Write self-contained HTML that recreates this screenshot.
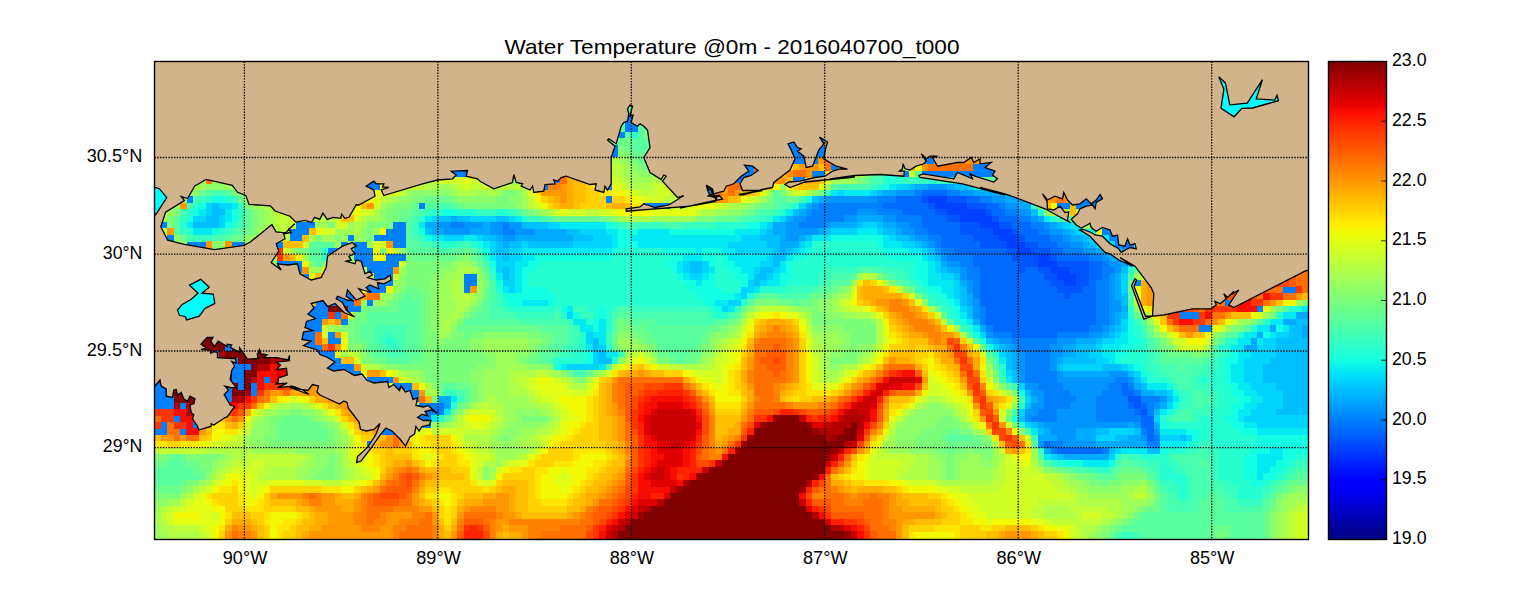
<!DOCTYPE html><html><head><meta charset="utf-8"><title>Water Temperature</title>
<style>html,body{margin:0;padding:0;background:#fff}body{width:1539px;height:600px;overflow:hidden}svg{display:block}text{font-family:"Liberation Sans",sans-serif;fill:#000}</style></head><body>
<svg width="1539" height="600" viewBox="0 0 1539 600">
<rect width="1539" height="600" fill="#fff"/>
<defs><clipPath id="ax"><rect x="154.5" y="61.5" width="1154.0" height="478.0"/></clipPath>
<linearGradient id="cb" x1="0" y1="0" x2="0" y2="1"><stop offset="0.0000" stop-color="#800000"/><stop offset="0.0156" stop-color="#920000"/><stop offset="0.0312" stop-color="#a40000"/><stop offset="0.0469" stop-color="#b60000"/><stop offset="0.0625" stop-color="#c80000"/><stop offset="0.0781" stop-color="#da0000"/><stop offset="0.0938" stop-color="#ec0400"/><stop offset="0.1094" stop-color="#fe1200"/><stop offset="0.1250" stop-color="#ff2100"/><stop offset="0.1406" stop-color="#ff3000"/><stop offset="0.1562" stop-color="#ff3f00"/><stop offset="0.1719" stop-color="#ff4d00"/><stop offset="0.1875" stop-color="#ff5c00"/><stop offset="0.2031" stop-color="#ff6b00"/><stop offset="0.2188" stop-color="#ff7a00"/><stop offset="0.2344" stop-color="#ff8800"/><stop offset="0.2500" stop-color="#ff9700"/><stop offset="0.2656" stop-color="#ffa600"/><stop offset="0.2812" stop-color="#ffb500"/><stop offset="0.2969" stop-color="#ffc300"/><stop offset="0.3125" stop-color="#ffd200"/><stop offset="0.3281" stop-color="#ffe100"/><stop offset="0.3438" stop-color="#fcf000"/><stop offset="0.3594" stop-color="#effe08"/><stop offset="0.3750" stop-color="#e2ff15"/><stop offset="0.3906" stop-color="#d5ff21"/><stop offset="0.4062" stop-color="#c9ff2e"/><stop offset="0.4219" stop-color="#bcff3b"/><stop offset="0.4375" stop-color="#afff48"/><stop offset="0.4531" stop-color="#a2ff55"/><stop offset="0.4688" stop-color="#95ff62"/><stop offset="0.4844" stop-color="#88ff6f"/><stop offset="0.5000" stop-color="#7bff7b"/><stop offset="0.5156" stop-color="#6fff88"/><stop offset="0.5312" stop-color="#62ff95"/><stop offset="0.5469" stop-color="#55ffa2"/><stop offset="0.5625" stop-color="#48ffaf"/><stop offset="0.5781" stop-color="#3bffbc"/><stop offset="0.5938" stop-color="#2effc9"/><stop offset="0.6094" stop-color="#21ffd5"/><stop offset="0.6250" stop-color="#15ffe2"/><stop offset="0.6406" stop-color="#08efef"/><stop offset="0.6562" stop-color="#00dffc"/><stop offset="0.6719" stop-color="#00cfff"/><stop offset="0.6875" stop-color="#00bfff"/><stop offset="0.7031" stop-color="#00afff"/><stop offset="0.7188" stop-color="#009fff"/><stop offset="0.7344" stop-color="#008fff"/><stop offset="0.7500" stop-color="#0080ff"/><stop offset="0.7656" stop-color="#0070ff"/><stop offset="0.7812" stop-color="#0060ff"/><stop offset="0.7969" stop-color="#0050ff"/><stop offset="0.8125" stop-color="#0040ff"/><stop offset="0.8281" stop-color="#0030ff"/><stop offset="0.8438" stop-color="#0020ff"/><stop offset="0.8594" stop-color="#0010ff"/><stop offset="0.8750" stop-color="#0000ff"/><stop offset="0.8906" stop-color="#0000fe"/><stop offset="0.9062" stop-color="#0000ec"/><stop offset="0.9219" stop-color="#0000da"/><stop offset="0.9375" stop-color="#0000c8"/><stop offset="0.9531" stop-color="#0000b6"/><stop offset="0.9688" stop-color="#0000a4"/><stop offset="0.9844" stop-color="#000092"/><stop offset="1.0000" stop-color="#000080"/></linearGradient></defs>
<g clip-path="url(#ax)">
<rect x="154.5" y="61.5" width="1154.0" height="478.0" fill="#0080ff"/>
<g shape-rendering="crispEdges"><path fill="#0040ff" d="M927.9 196.1H947.4V202.8H927.9ZM934.4 202.5H966.8V209.3H934.4ZM947.3 209.0H986.1V215.7H947.3ZM960.2 215.4H992.6V222.2H960.2ZM979.5 221.9H999.0V228.6H979.5ZM992.4 228.3H1011.9V235.1H992.4ZM998.9 234.8H1018.4V241.5H998.9ZM1005.3 241.2H1024.8V248.0H1005.3ZM1018.2 247.7H1031.2V254.4H1018.2ZM1037.5 254.1H1050.6V260.8H1037.5ZM1037.5 260.5H1057.0V267.3H1037.5ZM1050.4 267.0H1069.9V273.7H1050.4ZM1056.9 273.4H1076.4V280.2H1056.9ZM1063.3 279.9H1076.4V286.6H1063.3Z"/>
<path fill="#0055ff" d="M921.5 196.1H928.1V202.8H921.5ZM947.3 196.1H966.8V202.8H947.3ZM927.9 202.5H934.5V209.3H927.9ZM966.6 202.5H986.1V209.3H966.6ZM934.4 209.0H947.4V215.7H934.4ZM986.0 209.0H992.6V215.7H986.0ZM947.3 215.4H960.3V222.2H947.3ZM992.4 215.4H999.0V222.2H992.4ZM960.2 221.9H979.7V228.6H960.2ZM998.9 221.9H1011.9V228.6H998.9ZM960.2 228.3H992.6V235.1H960.2ZM1011.8 228.3H1018.4V235.1H1011.8ZM973.1 234.8H999.0V241.5H973.1ZM1018.2 234.8H1024.8V241.5H1018.2ZM979.5 241.2H1005.5V248.0H979.5ZM1024.6 241.2H1037.7V248.0H1024.6ZM1005.3 247.7H1018.4V254.4H1005.3ZM1031.1 247.7H1050.6V254.4H1031.1ZM1011.8 254.1H1037.7V260.8H1011.8ZM1050.4 254.1H1057.0V260.8H1050.4ZM1018.2 260.5H1037.7V267.3H1018.2ZM1056.9 260.5H1089.3V267.3H1056.9ZM1018.2 267.0H1024.8V273.7H1018.2ZM1037.5 267.0H1050.6V273.7H1037.5ZM1069.8 267.0H1089.3V273.7H1069.8ZM1044.0 273.4H1057.0V280.2H1044.0ZM1076.2 273.4H1089.3V280.2H1076.2ZM1050.4 279.9H1063.5V286.6H1050.4ZM1076.2 279.9H1089.3V286.6H1076.2ZM1056.9 286.3H1082.8V293.1H1056.9ZM1063.3 292.8H1069.9V299.5H1063.3ZM1127.8 396.0H1140.9V402.7H1127.8ZM1134.3 402.4H1140.9V409.2H1134.3ZM1140.7 408.9H1147.3V415.6H1140.7Z"/>
<path fill="#006aff" d="M921.5 189.6H947.4V196.4H921.5ZM895.7 196.1H921.6V202.8H895.7ZM966.6 196.1H979.7V202.8H966.6ZM882.8 202.5H928.1V209.3H882.8ZM986.0 202.5H999.0V209.3H986.0ZM902.1 209.0H934.5V215.7H902.1ZM992.4 209.0H1005.5V215.7H992.4ZM921.5 215.4H947.4V222.2H921.5ZM998.9 215.4H1018.4V222.2H998.9ZM921.5 221.9H960.3V228.6H921.5ZM1011.8 221.9H1031.2V228.6H1011.8ZM927.9 228.3H960.3V235.1H927.9ZM1018.2 228.3H1037.7V235.1H1018.2ZM940.8 234.8H973.2V241.5H940.8ZM1024.6 234.8H1050.6V241.5H1024.6ZM940.8 241.2H979.7V248.0H940.8ZM1037.5 241.2H1057.0V248.0H1037.5ZM953.7 247.7H1005.5V254.4H953.7ZM1050.4 247.7H1063.5V254.4H1050.4ZM973.1 254.1H1011.9V260.8H973.1ZM1056.9 254.1H1089.3V260.8H1056.9ZM973.1 260.5H1018.4V267.3H973.1ZM1089.1 260.5H1102.2V267.3H1089.1ZM979.5 267.0H1018.4V273.7H979.5ZM1024.6 267.0H1037.7V273.7H1024.6ZM1089.1 267.0H1102.2V273.7H1089.1ZM979.5 273.4H1044.1V280.2H979.5ZM1089.1 273.4H1102.2V280.2H1089.1ZM979.5 279.9H1050.6V286.6H979.5ZM1089.1 279.9H1095.7V286.6H1089.1ZM979.5 286.3H1057.0V293.1H979.5ZM1082.7 286.3H1095.7V293.1H1082.7ZM979.5 292.8H1063.5V299.5H979.5ZM1069.8 292.8H1095.7V299.5H1069.8ZM979.5 299.2H1095.7V306.0H979.5ZM986.0 305.7H1095.7V312.4H986.0ZM986.0 312.1H1095.7V318.9H986.0ZM986.0 318.6H1095.7V325.3H986.0ZM992.4 325.0H1089.3V331.8H992.4ZM1011.8 331.5H1057.0V338.2H1011.8ZM1121.4 383.1H1128.0V389.8H1121.4ZM1121.4 389.5H1134.4V396.3H1121.4ZM1127.8 402.4H1134.4V409.2H1127.8ZM1140.7 402.4H1147.3V409.2H1140.7ZM1134.3 408.9H1140.9V415.6H1134.3ZM1140.7 415.3H1153.8V422.1H1140.7ZM1140.7 421.8H1153.8V428.5H1140.7ZM1147.2 428.2H1153.8V435.0H1147.2ZM1147.2 434.7H1153.8V441.4H1147.2ZM1044.0 441.1H1050.6V447.8H1044.0ZM1056.9 447.6H1102.2V454.3H1056.9Z"/>
<path fill="#0080ff" d="M915.0 189.6H921.6V196.4H915.0ZM947.3 189.6H960.3V196.4H947.3ZM876.3 196.1H895.8V202.8H876.3ZM979.5 196.1H992.6V202.8H979.5ZM818.3 202.5H882.9V209.3H818.3ZM998.9 202.5H1005.5V209.3H998.9ZM811.9 209.0H857.1V215.7H811.9ZM876.3 209.0H902.3V215.7H876.3ZM1005.3 209.0H1018.4V215.7H1005.3ZM805.4 215.4H844.2V222.2H805.4ZM895.7 215.4H921.6V222.2H895.7ZM1018.2 215.4H1031.2V222.2H1018.2ZM450.7 221.9H463.8V228.6H450.7ZM502.3 221.9H508.9V228.6H502.3ZM799.0 221.9H824.9V228.6H799.0ZM908.6 221.9H921.6V228.6H908.6ZM1031.1 221.9H1044.1V228.6H1031.1ZM502.3 228.3H515.4V235.1H502.3ZM915.0 228.3H928.1V235.1H915.0ZM1037.5 228.3H1050.6V235.1H1037.5ZM927.9 234.8H941.0V241.5H927.9ZM1050.4 234.8H1063.5V241.5H1050.4ZM934.4 241.2H941.0V248.0H934.4ZM1056.9 241.2H1069.9V248.0H1056.9ZM940.8 247.7H953.9V254.4H940.8ZM1063.3 247.7H1082.8V254.4H1063.3ZM947.3 254.1H973.2V260.8H947.3ZM1089.1 254.1H1102.2V260.8H1089.1ZM960.2 260.5H973.2V267.3H960.2ZM1102.0 260.5H1108.6V267.3H1102.0ZM966.6 267.0H979.7V273.7H966.6ZM1102.0 267.0H1115.1V273.7H1102.0ZM966.6 273.4H979.7V280.2H966.6ZM1102.0 273.4H1108.6V280.2H1102.0ZM973.1 279.9H979.7V286.6H973.1ZM1095.6 279.9H1108.6V286.6H1095.6ZM973.1 286.3H979.7V293.1H973.1ZM1095.6 286.3H1108.6V293.1H1095.6ZM973.1 292.8H979.7V299.5H973.1ZM1095.6 292.8H1108.6V299.5H1095.6ZM1095.6 299.2H1108.6V306.0H1095.6ZM979.5 305.7H986.1V312.4H979.5ZM1095.6 305.7H1108.6V312.4H1095.6ZM979.5 312.1H986.1V318.9H979.5ZM1095.6 312.1H1108.6V318.9H1095.6ZM979.5 318.6H986.1V325.3H979.5ZM1095.6 318.6H1108.6V325.3H1095.6ZM986.0 325.0H992.6V331.8H986.0ZM1089.1 325.0H1102.2V331.8H1089.1ZM992.4 331.5H1011.9V338.2H992.4ZM1056.9 331.5H1089.3V338.2H1056.9ZM1011.8 337.9H1057.0V344.7H1011.8ZM1018.2 344.4H1050.6V351.1H1018.2ZM1024.6 350.8H1050.6V357.6H1024.6ZM1024.6 357.3H1050.6V364.0H1024.6ZM1024.6 363.7H1050.6V370.5H1024.6ZM1024.6 370.2H1057.0V376.9H1024.6ZM1024.6 376.6H1057.0V383.4H1024.6ZM1114.9 376.6H1128.0V383.4H1114.9ZM1037.5 383.1H1063.5V389.8H1037.5ZM1108.5 383.1H1121.5V389.8H1108.5ZM1127.8 383.1H1134.4V389.8H1127.8ZM1044.0 389.5H1069.9V396.3H1044.0ZM1102.0 389.5H1121.5V396.3H1102.0ZM1134.3 389.5H1140.9V396.3H1134.3ZM1044.0 396.0H1076.4V402.7H1044.0ZM1095.6 396.0H1128.0V402.7H1095.6ZM1140.7 396.0H1160.2V402.7H1140.7ZM437.9 402.4H444.4V409.2H437.9ZM1044.0 402.4H1069.9V409.2H1044.0ZM1095.6 402.4H1128.0V409.2H1095.6ZM1147.2 402.4H1153.8V409.2H1147.2ZM437.9 408.9H444.4V415.6H437.9ZM1037.5 408.9H1057.0V415.6H1037.5ZM1095.6 408.9H1134.4V415.6H1095.6ZM1147.2 408.9H1153.8V415.6H1147.2ZM1031.1 415.3H1057.0V422.1H1031.1ZM1095.6 415.3H1140.9V422.1H1095.6ZM1140.7 428.2H1147.3V435.0H1140.7ZM1153.6 434.7H1160.2V441.4H1153.6ZM1050.4 441.1H1063.5V447.8H1050.4ZM1147.2 441.1H1160.2V447.8H1147.2ZM1050.4 447.6H1057.0V454.3H1050.4ZM1102.0 447.6H1108.6V454.3H1102.0Z"/>
<path fill="#0095ff" d="M927.9 183.2H947.4V189.9H927.9ZM895.7 189.6H915.2V196.4H895.7ZM960.2 189.6H973.2V196.4H960.2ZM824.8 196.1H876.5V202.8H824.8ZM992.4 196.1H1005.5V202.8H992.4ZM811.9 202.5H818.5V209.3H811.9ZM1005.3 202.5H1018.4V209.3H1005.3ZM805.4 209.0H812.0V215.7H805.4ZM857.0 209.0H876.5V215.7H857.0ZM1018.2 209.0H1031.2V215.7H1018.2ZM792.5 215.4H805.6V222.2H792.5ZM844.1 215.4H857.1V222.2H844.1ZM882.8 215.4H895.8V222.2H882.8ZM1031.1 215.4H1037.7V222.2H1031.1ZM437.9 221.9H450.9V228.6H437.9ZM463.6 221.9H483.1V228.6H463.6ZM489.4 221.9H502.5V228.6H489.4ZM508.8 221.9H521.8V228.6H508.8ZM786.1 221.9H799.1V228.6H786.1ZM824.8 221.9H831.3V228.6H824.8ZM895.7 221.9H908.7V228.6H895.7ZM1044.0 221.9H1050.6V228.6H1044.0ZM444.3 228.3H470.2V235.1H444.3ZM489.4 228.3H502.5V235.1H489.4ZM515.2 228.3H534.7V235.1H515.2ZM786.1 228.3H818.5V235.1H786.1ZM902.1 228.3H915.2V235.1H902.1ZM1050.4 228.3H1063.5V235.1H1050.4ZM502.3 234.8H515.4V241.5H502.3ZM786.1 234.8H799.1V241.5H786.1ZM915.0 234.8H928.1V241.5H915.0ZM1063.3 234.8H1069.9V241.5H1063.3ZM927.9 241.2H934.5V248.0H927.9ZM1069.8 241.2H1082.8V248.0H1069.8ZM934.4 247.7H941.0V254.4H934.4ZM1082.7 247.7H1095.7V254.4H1082.7ZM940.8 254.1H947.4V260.8H940.8ZM1102.0 254.1H1108.6V260.8H1102.0ZM947.3 260.5H960.3V267.3H947.3ZM1108.5 260.5H1121.5V267.3H1108.5ZM960.2 267.0H966.8V273.7H960.2ZM1114.9 267.0H1121.5V273.7H1114.9ZM960.2 273.4H966.8V280.2H960.2ZM1108.5 273.4H1115.1V280.2H1108.5ZM966.6 279.9H973.2V286.6H966.6ZM1108.5 279.9H1115.1V286.6H1108.5ZM966.6 286.3H973.2V293.1H966.6ZM1108.5 286.3H1115.1V293.1H1108.5ZM1108.5 292.8H1115.1V299.5H1108.5ZM973.1 299.2H979.7V306.0H973.1ZM1108.5 299.2H1121.5V306.0H1108.5ZM973.1 305.7H979.7V312.4H973.1ZM1108.5 305.7H1121.5V312.4H1108.5ZM973.1 312.1H979.7V318.9H973.1ZM1108.5 312.1H1115.1V318.9H1108.5ZM1108.5 318.6H1115.1V325.3H1108.5ZM1102.0 325.0H1108.6V331.8H1102.0ZM986.0 331.5H992.6V338.2H986.0ZM1089.1 331.5H1102.2V338.2H1089.1ZM998.9 337.9H1011.9V344.7H998.9ZM1056.9 337.9H1076.4V344.7H1056.9ZM1011.8 344.4H1018.4V351.1H1011.8ZM1050.4 344.4H1063.5V351.1H1050.4ZM1018.2 350.8H1024.8V357.6H1018.2ZM1050.4 350.8H1063.5V357.6H1050.4ZM1018.2 357.3H1024.8V364.0H1018.2ZM1050.4 357.3H1057.0V364.0H1050.4ZM1018.2 363.7H1024.8V370.5H1018.2ZM1050.4 363.7H1057.0V370.5H1050.4ZM1018.2 370.2H1024.8V376.9H1018.2ZM1056.9 370.2H1063.5V376.9H1056.9ZM1108.5 370.2H1128.0V376.9H1108.5ZM1018.2 376.6H1024.8V383.4H1018.2ZM1056.9 376.6H1115.1V383.4H1056.9ZM1127.8 376.6H1134.4V383.4H1127.8ZM1024.6 383.1H1037.7V389.8H1024.6ZM1063.3 383.1H1108.6V389.8H1063.3ZM1031.1 389.5H1044.1V396.3H1031.1ZM1069.8 389.5H1102.2V396.3H1069.8ZM1037.5 396.0H1044.1V402.7H1037.5ZM1076.2 396.0H1095.7V402.7H1076.2ZM1160.1 396.0H1166.7V402.7H1160.1ZM1031.1 402.4H1044.1V409.2H1031.1ZM1069.8 402.4H1095.7V409.2H1069.8ZM1153.6 402.4H1160.2V409.2H1153.6ZM1024.6 408.9H1037.7V415.6H1024.6ZM1056.9 408.9H1095.7V415.6H1056.9ZM1024.6 415.3H1031.2V422.1H1024.6ZM1056.9 415.3H1095.7V422.1H1056.9ZM1044.0 421.8H1128.0V428.5H1044.0ZM1134.3 421.8H1140.9V428.5H1134.3ZM1050.4 428.2H1076.4V435.0H1050.4ZM1153.6 428.2H1160.2V435.0H1153.6ZM1056.9 434.7H1076.4V441.4H1056.9ZM1140.7 434.7H1147.3V441.4H1140.7ZM1037.5 441.1H1044.1V447.8H1037.5ZM1063.3 441.1H1095.7V447.8H1063.3Z"/>
<path fill="#00aaff" d="M915.0 183.2H928.1V189.9H915.0ZM947.3 183.2H953.9V189.9H947.3ZM882.8 189.6H895.8V196.4H882.8ZM973.1 189.6H1024.8V196.4H973.1ZM818.3 196.1H824.9V202.8H818.3ZM1005.3 196.1H1024.8V202.8H1005.3ZM805.4 202.5H812.0V209.3H805.4ZM1018.2 202.5H1031.2V209.3H1018.2ZM799.0 209.0H805.6V215.7H799.0ZM450.7 215.4H457.3V222.2H450.7ZM786.1 215.4H792.7V222.2H786.1ZM857.0 215.4H882.9V222.2H857.0ZM1037.5 215.4H1044.1V222.2H1037.5ZM425.0 221.9H438.0V228.6H425.0ZM483.0 221.9H489.6V228.6H483.0ZM773.2 221.9H786.2V228.6H773.2ZM831.2 221.9H857.1V228.6H831.2ZM882.8 221.9H895.8V228.6H882.8ZM1050.4 221.9H1057.0V228.6H1050.4ZM431.4 228.3H444.4V235.1H431.4ZM470.1 228.3H489.6V235.1H470.1ZM534.6 228.3H567.0V235.1H534.6ZM773.2 228.3H786.2V235.1H773.2ZM818.3 228.3H824.9V235.1H818.3ZM895.7 228.3H902.3V235.1H895.7ZM1063.3 228.3H1069.9V235.1H1063.3ZM495.9 234.8H502.5V241.5H495.9ZM515.2 234.8H573.4V241.5H515.2ZM779.6 234.8H786.2V241.5H779.6ZM799.0 234.8H805.6V241.5H799.0ZM908.6 234.8H915.2V241.5H908.6ZM1069.8 234.8H1082.8V241.5H1069.8ZM502.3 241.2H508.9V248.0H502.3ZM779.6 241.2H799.1V248.0H779.6ZM921.5 241.2H928.1V248.0H921.5ZM1082.7 241.2H1089.3V248.0H1082.7ZM779.6 247.7H786.2V254.4H779.6ZM1095.6 247.7H1108.6V254.4H1095.6ZM1108.5 254.1H1128.0V260.8H1108.5ZM940.8 260.5H947.4V267.3H940.8ZM1121.4 260.5H1128.0V267.3H1121.4ZM947.3 267.0H960.3V273.7H947.3ZM1114.9 273.4H1121.5V280.2H1114.9ZM960.2 279.9H966.8V286.6H960.2ZM1114.9 279.9H1121.5V286.6H1114.9ZM1114.9 286.3H1121.5V293.1H1114.9ZM966.6 292.8H973.2V299.5H966.6ZM1114.9 292.8H1121.5V299.5H1114.9ZM966.6 299.2H973.2V306.0H966.6ZM1121.4 305.7H1128.0V312.4H1121.4ZM1114.9 312.1H1121.5V318.9H1114.9ZM1295.5 312.1H1308.5V318.9H1295.5ZM973.1 318.6H979.7V325.3H973.1ZM1114.9 318.6H1121.5V325.3H1114.9ZM1282.6 318.6H1295.6V325.3H1282.6ZM979.5 325.0H986.1V331.8H979.5ZM1108.5 325.0H1115.1V331.8H1108.5ZM1269.7 325.0H1276.3V331.8H1269.7ZM1301.9 325.0H1308.5V331.8H1301.9ZM1102.0 331.5H1108.6V338.2H1102.0ZM1256.8 331.5H1263.4V338.2H1256.8ZM1301.9 331.5H1308.5V338.2H1301.9ZM992.4 337.9H999.0V344.7H992.4ZM1076.2 337.9H1095.7V344.7H1076.2ZM1250.3 337.9H1256.9V344.7H1250.3ZM1005.3 344.4H1011.9V351.1H1005.3ZM1063.3 344.4H1076.4V351.1H1063.3ZM1243.9 344.4H1256.9V351.1H1243.9ZM1011.8 350.8H1018.4V357.6H1011.8ZM1063.3 350.8H1076.4V357.6H1063.3ZM1011.8 357.3H1018.4V364.0H1011.8ZM1056.9 357.3H1063.5V364.0H1056.9ZM1011.8 363.7H1018.4V370.5H1011.8ZM1063.3 370.2H1108.6V376.9H1063.3ZM1134.3 383.1H1140.9V389.8H1134.3ZM1140.7 389.5H1153.8V396.3H1140.7ZM437.9 396.0H450.9V402.7H437.9ZM1031.1 396.0H1037.7V402.7H1031.1ZM444.3 402.4H450.9V409.2H444.3ZM1160.1 402.4H1166.7V409.2H1160.1ZM1037.5 421.8H1044.1V428.5H1037.5ZM1127.8 421.8H1134.4V428.5H1127.8ZM1153.6 421.8H1160.2V428.5H1153.6ZM1044.0 428.2H1050.6V435.0H1044.0ZM1076.2 428.2H1095.7V435.0H1076.2ZM1037.5 434.7H1057.0V441.4H1037.5ZM1076.2 434.7H1095.7V441.4H1076.2ZM1127.8 434.7H1140.9V441.4H1127.8ZM1095.6 441.1H1147.3V447.8H1095.6ZM1044.0 447.6H1050.6V454.3H1044.0ZM1063.3 454.0H1108.6V460.7H1063.3Z"/>
<path fill="#00bfff" d="M1024.6 176.7H1031.2V183.5H1024.6ZM908.6 183.2H915.2V189.9H908.6ZM953.7 183.2H966.8V189.9H953.7ZM1005.3 183.2H1031.2V189.9H1005.3ZM876.3 189.6H882.9V196.4H876.3ZM1024.6 189.6H1031.2V196.4H1024.6ZM811.9 196.1H818.5V202.8H811.9ZM1024.6 196.1H1031.2V202.8H1024.6ZM212.2 202.5H218.8V209.3H212.2ZM212.2 209.0H225.2V215.7H212.2ZM792.5 209.0H799.1V215.7H792.5ZM1031.1 209.0H1037.7V215.7H1031.1ZM205.7 215.4H218.8V222.2H205.7ZM437.9 215.4H450.9V222.2H437.9ZM457.2 215.4H470.2V222.2H457.2ZM495.9 215.4H508.9V222.2H495.9ZM192.8 221.9H218.8V228.6H192.8ZM521.7 221.9H547.6V228.6H521.7ZM857.0 221.9H863.6V228.6H857.0ZM876.3 221.9H882.9V228.6H876.3ZM1056.9 221.9H1063.5V228.6H1056.9ZM1114.9 221.9H1128.0V228.6H1114.9ZM425.0 228.3H431.6V235.1H425.0ZM566.8 228.3H579.9V235.1H566.8ZM766.7 228.3H773.3V235.1H766.7ZM824.8 228.3H831.3V235.1H824.8ZM882.8 228.3H895.8V235.1H882.8ZM1069.8 228.3H1076.4V235.1H1069.8ZM1114.9 228.3H1128.0V235.1H1114.9ZM483.0 234.8H496.0V241.5H483.0ZM573.3 234.8H592.8V241.5H573.3ZM760.3 234.8H779.8V241.5H760.3ZM805.4 234.8H812.0V241.5H805.4ZM895.7 234.8H908.7V241.5H895.7ZM1082.7 234.8H1089.3V241.5H1082.7ZM1121.4 234.8H1128.0V241.5H1121.4ZM495.9 241.2H502.5V248.0H495.9ZM508.8 241.2H521.8V248.0H508.8ZM528.1 241.2H573.4V248.0H528.1ZM766.7 241.2H779.8V248.0H766.7ZM915.0 241.2H921.6V248.0H915.0ZM1089.1 241.2H1095.7V248.0H1089.1ZM495.9 247.7H508.9V254.4H495.9ZM773.2 247.7H779.8V254.4H773.2ZM786.1 247.7H792.7V254.4H786.1ZM927.9 247.7H934.5V254.4H927.9ZM1108.5 247.7H1121.5V254.4H1108.5ZM502.3 254.1H508.9V260.8H502.3ZM773.2 254.1H786.2V260.8H773.2ZM934.4 254.1H941.0V260.8H934.4ZM689.3 260.5H702.4V267.3H689.3ZM773.2 260.5H779.8V267.3H773.2ZM502.3 267.0H508.9V273.7H502.3ZM689.3 267.0H702.4V273.7H689.3ZM760.3 267.0H773.3V273.7H760.3ZM940.8 267.0H947.4V273.7H940.8ZM1121.4 267.0H1128.0V273.7H1121.4ZM502.3 273.4H508.9V280.2H502.3ZM753.8 273.4H766.9V280.2H753.8ZM953.7 273.4H960.3V280.2H953.7ZM753.8 279.9H760.4V286.6H753.8ZM960.2 286.3H966.8V293.1H960.2ZM960.2 292.8H966.8V299.5H960.2ZM1121.4 292.8H1128.0V299.5H1121.4ZM960.2 299.2H966.8V306.0H960.2ZM1121.4 299.2H1128.0V306.0H1121.4ZM966.6 305.7H973.2V312.4H966.6ZM966.6 312.1H973.2V318.9H966.6ZM1121.4 312.1H1128.0V318.9H1121.4ZM1295.5 318.6H1308.5V325.3H1295.5ZM1114.9 325.0H1121.5V331.8H1114.9ZM1289.0 325.0H1302.1V331.8H1289.0ZM1108.5 331.5H1115.1V338.2H1108.5ZM1289.0 331.5H1302.1V338.2H1289.0ZM592.6 337.9H599.2V344.7H592.6ZM986.0 337.9H992.6V344.7H986.0ZM1095.6 337.9H1102.2V344.7H1095.6ZM1276.1 337.9H1308.5V344.7H1276.1ZM592.6 344.4H599.2V351.1H592.6ZM998.9 344.4H1005.5V351.1H998.9ZM1076.2 344.4H1095.7V351.1H1076.2ZM1276.1 344.4H1308.5V351.1H1276.1ZM599.1 350.8H605.7V357.6H599.1ZM1005.3 350.8H1011.9V357.6H1005.3ZM1076.2 350.8H1089.3V357.6H1076.2ZM1276.1 350.8H1308.5V357.6H1276.1ZM599.1 357.3H612.1V364.0H599.1ZM1005.3 357.3H1011.9V364.0H1005.3ZM1063.3 357.3H1095.7V364.0H1063.3ZM1269.7 357.3H1308.5V364.0H1269.7ZM1005.3 363.7H1011.9V370.5H1005.3ZM1056.9 363.7H1063.5V370.5H1056.9ZM1102.0 363.7H1121.5V370.5H1102.0ZM1263.2 363.7H1308.5V370.5H1263.2ZM1011.8 370.2H1018.4V376.9H1011.8ZM1127.8 370.2H1134.4V376.9H1127.8ZM1263.2 370.2H1308.5V376.9H1263.2ZM1011.8 376.6H1018.4V383.4H1011.8ZM1134.3 376.6H1140.9V383.4H1134.3ZM1263.2 376.6H1308.5V383.4H1263.2ZM1140.7 383.1H1147.3V389.8H1140.7ZM1276.1 383.1H1308.5V389.8H1276.1ZM1024.6 389.5H1031.2V396.3H1024.6ZM1153.6 389.5H1166.7V396.3H1153.6ZM1282.6 389.5H1308.5V396.3H1282.6ZM1166.5 396.0H1173.1V402.7H1166.5ZM1282.6 396.0H1308.5V402.7H1282.6ZM1024.6 402.4H1031.2V409.2H1024.6ZM1282.6 402.4H1308.5V409.2H1282.6ZM1153.6 408.9H1160.2V415.6H1153.6ZM1276.1 408.9H1308.5V415.6H1276.1ZM1018.2 415.3H1024.8V422.1H1018.2ZM1031.1 421.8H1037.7V428.5H1031.1ZM1037.5 428.2H1044.1V435.0H1037.5ZM1095.6 428.2H1108.6V435.0H1095.6ZM1134.3 428.2H1140.9V435.0H1134.3ZM1114.9 434.7H1128.0V441.4H1114.9ZM1179.4 434.7H1186.0V441.4H1179.4ZM1108.5 447.6H1115.1V454.3H1108.5ZM1147.2 447.6H1160.2V454.3H1147.2ZM1056.9 454.0H1063.5V460.7H1056.9Z"/>
<path fill="#00d4ff" d="M1024.6 163.8H1031.2V170.6H1024.6ZM1024.6 170.3H1031.2V177.0H1024.6ZM895.7 183.2H908.7V189.9H895.7ZM966.6 183.2H973.2V189.9H966.6ZM992.4 183.2H1005.5V189.9H992.4ZM837.6 189.6H844.2V196.4H837.6ZM869.9 189.6H876.5V196.4H869.9ZM205.7 202.5H212.3V209.3H205.7ZM218.6 202.5H231.7V209.3H218.6ZM799.0 202.5H805.6V209.3H799.0ZM205.7 209.0H212.3V215.7H205.7ZM1121.4 209.0H1128.0V215.7H1121.4ZM192.8 215.4H205.9V222.2H192.8ZM218.6 215.4H225.2V222.2H218.6ZM431.4 215.4H438.0V222.2H431.4ZM470.1 215.4H496.0V222.2H470.1ZM508.8 215.4H515.4V222.2H508.8ZM779.6 215.4H786.2V222.2H779.6ZM1121.4 215.4H1128.0V222.2H1121.4ZM218.6 221.9H225.2V228.6H218.6ZM547.5 221.9H560.5V228.6H547.5ZM766.7 221.9H773.3V228.6H766.7ZM863.4 221.9H876.5V228.6H863.4ZM1063.3 221.9H1069.9V228.6H1063.3ZM1108.5 221.9H1115.1V228.6H1108.5ZM1127.8 221.9H1134.4V228.6H1127.8ZM579.7 228.3H605.7V235.1H579.7ZM760.3 228.3H766.9V235.1H760.3ZM831.2 228.3H857.1V235.1H831.2ZM876.3 228.3H882.9V235.1H876.3ZM1076.2 228.3H1082.8V235.1H1076.2ZM1127.8 228.3H1134.4V235.1H1127.8ZM444.3 234.8H463.8V241.5H444.3ZM476.5 234.8H483.1V241.5H476.5ZM592.6 234.8H612.1V241.5H592.6ZM740.9 234.8H760.4V241.5H740.9ZM889.2 234.8H895.8V241.5H889.2ZM1089.1 234.8H1095.7V241.5H1089.1ZM1127.8 234.8H1134.4V241.5H1127.8ZM489.4 241.2H496.0V248.0H489.4ZM521.7 241.2H528.3V248.0H521.7ZM573.3 241.2H612.1V248.0H573.3ZM728.0 241.2H766.9V248.0H728.0ZM799.0 241.2H805.6V248.0H799.0ZM902.1 241.2H915.2V248.0H902.1ZM1095.6 241.2H1115.1V248.0H1095.6ZM489.4 247.7H496.0V254.4H489.4ZM508.8 247.7H521.8V254.4H508.8ZM734.5 247.7H773.3V254.4H734.5ZM792.5 247.7H799.1V254.4H792.5ZM921.5 247.7H928.1V254.4H921.5ZM1127.8 247.7H1134.4V254.4H1127.8ZM495.9 254.1H502.5V260.8H495.9ZM508.8 254.1H521.8V260.8H508.8ZM766.7 254.1H773.3V260.8H766.7ZM927.9 254.1H934.5V260.8H927.9ZM1127.8 254.1H1134.4V260.8H1127.8ZM495.9 260.5H515.4V267.3H495.9ZM682.9 260.5H689.5V267.3H682.9ZM702.2 260.5H708.8V267.3H702.2ZM760.3 260.5H773.3V267.3H760.3ZM934.4 260.5H941.0V267.3H934.4ZM1127.8 260.5H1134.4V267.3H1127.8ZM495.9 267.0H502.5V273.7H495.9ZM508.8 267.0H515.4V273.7H508.8ZM682.9 267.0H689.5V273.7H682.9ZM702.2 267.0H708.8V273.7H702.2ZM753.8 267.0H760.4V273.7H753.8ZM773.2 267.0H779.8V273.7H773.2ZM934.4 267.0H941.0V273.7H934.4ZM508.8 273.4H515.4V280.2H508.8ZM689.3 273.4H702.4V280.2H689.3ZM766.7 273.4H773.3V280.2H766.7ZM940.8 273.4H953.9V280.2H940.8ZM1121.4 273.4H1128.0V280.2H1121.4ZM502.3 279.9H515.4V286.6H502.3ZM747.4 279.9H754.0V286.6H747.4ZM760.3 279.9H766.9V286.6H760.3ZM953.7 279.9H960.3V286.6H953.7ZM1121.4 279.9H1128.0V286.6H1121.4ZM508.8 286.3H515.4V293.1H508.8ZM740.9 286.3H754.0V293.1H740.9ZM953.7 286.3H960.3V293.1H953.7ZM1121.4 286.3H1128.0V293.1H1121.4ZM740.9 292.8H747.5V299.5H740.9ZM953.7 292.8H960.3V299.5H953.7ZM728.0 299.2H741.1V306.0H728.0ZM721.6 305.7H728.2V312.4H721.6ZM960.2 305.7H966.8V312.4H960.2ZM566.8 312.1H573.4V318.9H566.8ZM1121.4 318.6H1128.0V325.3H1121.4ZM1121.4 325.0H1128.0V331.8H1121.4ZM586.2 331.5H592.8V338.2H586.2ZM979.5 331.5H986.1V338.2H979.5ZM1114.9 331.5H1121.5V338.2H1114.9ZM1276.1 331.5H1289.2V338.2H1276.1ZM586.2 337.9H592.8V344.7H586.2ZM1102.0 337.9H1115.1V344.7H1102.0ZM1263.2 337.9H1276.3V344.7H1263.2ZM599.1 344.4H605.7V351.1H599.1ZM992.4 344.4H999.0V351.1H992.4ZM1095.6 344.4H1102.2V351.1H1095.6ZM1256.8 344.4H1276.3V351.1H1256.8ZM592.6 350.8H599.2V357.6H592.6ZM998.9 350.8H1005.5V357.6H998.9ZM1089.1 350.8H1102.2V357.6H1089.1ZM1250.3 350.8H1276.3V357.6H1250.3ZM592.6 357.3H599.2V364.0H592.6ZM1095.6 357.3H1108.6V364.0H1095.6ZM1243.9 357.3H1269.8V364.0H1243.9ZM566.8 363.7H599.2V370.5H566.8ZM1063.3 363.7H1102.2V370.5H1063.3ZM1121.4 363.7H1128.0V370.5H1121.4ZM1243.9 363.7H1263.4V370.5H1243.9ZM1005.3 370.2H1011.9V376.9H1005.3ZM1134.3 370.2H1140.9V376.9H1134.3ZM1243.9 370.2H1263.4V376.9H1243.9ZM1243.9 376.6H1263.4V383.4H1243.9ZM1018.2 383.1H1024.8V389.8H1018.2ZM1250.3 383.1H1276.3V389.8H1250.3ZM1166.5 389.5H1173.1V396.3H1166.5ZM1256.8 389.5H1282.7V396.3H1256.8ZM1024.6 396.0H1031.2V402.7H1024.6ZM1263.2 396.0H1282.7V402.7H1263.2ZM1166.5 402.4H1173.1V409.2H1166.5ZM1256.8 402.4H1282.7V409.2H1256.8ZM1018.2 408.9H1024.8V415.6H1018.2ZM1250.3 408.9H1276.3V415.6H1250.3ZM1153.6 415.3H1160.2V422.1H1153.6ZM1243.9 415.3H1308.5V422.1H1243.9ZM1024.6 421.8H1031.2V428.5H1024.6ZM1256.8 421.8H1308.5V428.5H1256.8ZM1108.5 428.2H1134.4V435.0H1108.5ZM1095.6 434.7H1115.1V441.4H1095.6ZM1160.1 434.7H1179.6V441.4H1160.1ZM1185.9 434.7H1192.5V441.4H1185.9ZM1114.9 447.6H1121.5V454.3H1114.9ZM1050.4 454.0H1057.0V460.7H1050.4ZM1108.5 454.0H1115.1V460.7H1108.5Z"/>
<path fill="#03eaf3" d="M1018.2 176.7H1024.8V183.5H1018.2ZM889.2 183.2H895.8V189.9H889.2ZM973.1 183.2H992.6V189.9H973.1ZM831.2 189.6H837.8V196.4H831.2ZM844.1 189.6H870.0V196.4H844.1ZM231.5 202.5H238.1V209.3H231.5ZM199.3 209.0H205.9V215.7H199.3ZM225.1 209.0H231.7V215.7H225.1ZM786.1 209.0H792.7V215.7H786.1ZM1127.8 209.0H1134.4V215.7H1127.8ZM225.1 215.4H231.7V222.2H225.1ZM425.0 215.4H431.6V222.2H425.0ZM515.2 215.4H521.8V222.2H515.2ZM773.2 215.4H779.8V222.2H773.2ZM1044.0 215.4H1050.6V222.2H1044.0ZM1127.8 215.4H1134.4V222.2H1127.8ZM186.4 221.9H193.0V228.6H186.4ZM418.5 221.9H425.1V228.6H418.5ZM560.4 221.9H605.7V228.6H560.4ZM760.3 221.9H766.9V228.6H760.3ZM1069.8 221.9H1082.8V228.6H1069.8ZM1095.6 221.9H1108.6V228.6H1095.6ZM192.8 228.3H212.3V235.1H192.8ZM605.5 228.3H618.6V235.1H605.5ZM637.7 228.3H670.1V235.1H637.7ZM734.5 228.3H760.4V235.1H734.5ZM857.0 228.3H876.5V235.1H857.0ZM1082.7 228.3H1095.7V235.1H1082.7ZM431.4 234.8H444.4V241.5H431.4ZM463.6 234.8H476.7V241.5H463.6ZM612.0 234.8H618.6V241.5H612.0ZM631.3 234.8H741.1V241.5H631.3ZM811.9 234.8H831.3V241.5H811.9ZM882.8 234.8H889.4V241.5H882.8ZM1095.6 234.8H1108.6V241.5H1095.6ZM483.0 241.2H489.6V248.0H483.0ZM612.0 241.2H618.6V248.0H612.0ZM637.7 241.2H728.2V248.0H637.7ZM805.4 241.2H812.0V248.0H805.4ZM882.8 241.2H902.3V248.0H882.8ZM521.7 247.7H612.1V254.4H521.7ZM695.8 247.7H702.4V254.4H695.8ZM721.6 247.7H734.6V254.4H721.6ZM799.0 247.7H805.6V254.4H799.0ZM908.6 247.7H921.6V254.4H908.6ZM489.4 254.1H496.0V260.8H489.4ZM521.7 254.1H534.7V260.8H521.7ZM682.9 254.1H702.4V260.8H682.9ZM728.0 254.1H766.9V260.8H728.0ZM786.1 254.1H792.7V260.8H786.1ZM921.5 254.1H928.1V260.8H921.5ZM515.2 260.5H528.3V267.3H515.2ZM676.4 260.5H683.0V267.3H676.4ZM734.5 260.5H760.4V267.3H734.5ZM779.6 260.5H786.2V267.3H779.6ZM927.9 260.5H934.5V267.3H927.9ZM515.2 267.0H521.8V273.7H515.2ZM676.4 267.0H683.0V273.7H676.4ZM708.7 267.0H715.3V273.7H708.7ZM740.9 267.0H754.0V273.7H740.9ZM779.6 267.0H786.2V273.7H779.6ZM927.9 267.0H934.5V273.7H927.9ZM495.9 273.4H502.5V280.2H495.9ZM515.2 273.4H521.8V280.2H515.2ZM682.9 273.4H689.5V280.2H682.9ZM702.2 273.4H708.8V280.2H702.2ZM747.4 273.4H754.0V280.2H747.4ZM773.2 273.4H779.8V280.2H773.2ZM927.9 273.4H941.0V280.2H927.9ZM515.2 279.9H521.8V286.6H515.2ZM695.8 279.9H702.4V286.6H695.8ZM766.7 279.9H779.8V286.6H766.7ZM927.9 279.9H953.9V286.6H927.9ZM502.3 286.3H508.9V293.1H502.3ZM515.2 286.3H521.8V293.1H515.2ZM753.8 286.3H760.4V293.1H753.8ZM940.8 286.3H953.9V293.1H940.8ZM734.5 292.8H741.1V299.5H734.5ZM947.3 292.8H953.9V299.5H947.3ZM521.7 299.2H547.6V306.0H521.7ZM715.1 299.2H728.2V306.0H715.1ZM953.7 299.2H960.3V306.0H953.7ZM566.8 305.7H573.4V312.4H566.8ZM728.0 305.7H734.6V312.4H728.0ZM1301.9 305.7H1308.5V312.4H1301.9ZM960.2 312.1H966.8V318.9H960.2ZM1282.6 312.1H1295.6V318.9H1282.6ZM573.3 318.6H586.3V325.3H573.3ZM599.1 318.6H605.7V325.3H599.1ZM966.6 318.6H973.2V325.3H966.6ZM1269.7 318.6H1282.7V325.3H1269.7ZM579.7 325.0H592.8V331.8H579.7ZM599.1 325.0H605.7V331.8H599.1ZM973.1 325.0H979.7V331.8H973.1ZM1256.8 325.0H1269.8V331.8H1256.8ZM1282.6 325.0H1289.2V331.8H1282.6ZM592.6 331.5H605.7V338.2H592.6ZM1121.4 331.5H1128.0V338.2H1121.4ZM1243.9 331.5H1256.9V338.2H1243.9ZM1269.7 331.5H1276.3V338.2H1269.7ZM599.1 337.9H605.7V344.7H599.1ZM1114.9 337.9H1128.0V344.7H1114.9ZM1237.4 337.9H1250.5V344.7H1237.4ZM1256.8 337.9H1263.4V344.7H1256.8ZM586.2 344.4H592.8V351.1H586.2ZM1102.0 344.4H1121.5V351.1H1102.0ZM1231.0 344.4H1244.0V351.1H1231.0ZM605.5 350.8H618.6V357.6H605.5ZM1102.0 350.8H1115.1V357.6H1102.0ZM1237.4 350.8H1250.5V357.6H1237.4ZM998.9 357.3H1005.5V364.0H998.9ZM1108.5 357.3H1115.1V364.0H1108.5ZM1237.4 357.3H1244.0V364.0H1237.4ZM560.4 363.7H567.0V370.5H560.4ZM599.1 363.7H605.7V370.5H599.1ZM1127.8 363.7H1134.4V370.5H1127.8ZM1231.0 363.7H1244.0V370.5H1231.0ZM1231.0 370.2H1244.0V376.9H1231.0ZM1005.3 376.6H1011.9V383.4H1005.3ZM1140.7 376.6H1147.3V383.4H1140.7ZM1231.0 376.6H1244.0V383.4H1231.0ZM1147.2 383.1H1166.7V389.8H1147.2ZM1237.4 383.1H1250.5V389.8H1237.4ZM1243.9 389.5H1256.9V396.3H1243.9ZM450.7 396.0H457.3V402.7H450.7ZM1173.0 396.0H1179.6V402.7H1173.0ZM1250.3 396.0H1263.4V402.7H1250.3ZM1243.9 402.4H1256.9V409.2H1243.9ZM444.3 408.9H450.9V415.6H444.3ZM1160.1 408.9H1166.7V415.6H1160.1ZM1237.4 408.9H1250.5V415.6H1237.4ZM431.4 415.3H438.0V422.1H431.4ZM1237.4 415.3H1244.0V422.1H1237.4ZM1243.9 421.8H1256.9V428.5H1243.9ZM1031.1 428.2H1037.7V435.0H1031.1ZM1160.1 428.2H1186.0V435.0H1160.1ZM1256.8 428.2H1308.5V435.0H1256.8ZM1160.1 441.1H1186.0V447.8H1160.1ZM1121.4 447.6H1147.3V454.3H1121.4ZM1269.7 447.6H1282.7V454.3H1269.7ZM1044.0 454.0H1050.6V460.7H1044.0ZM1256.8 454.0H1282.7V460.7H1256.8ZM1082.7 460.4H1108.6V467.2H1082.7ZM1256.8 460.4H1276.3V467.2H1256.8ZM1256.8 466.9H1269.8V473.6H1256.8ZM1256.8 473.3H1263.4V480.1H1256.8Z"/>
<path fill="#15ffe2" d="M882.8 183.2H889.4V189.9H882.8ZM212.2 196.1H225.2V202.8H212.2ZM805.4 196.1H812.0V202.8H805.4ZM199.3 202.5H205.9V209.3H199.3ZM1121.4 202.5H1134.4V209.3H1121.4ZM192.8 209.0H199.4V215.7H192.8ZM231.5 209.0H238.1V215.7H231.5ZM444.3 209.0H457.3V215.7H444.3ZM1134.3 209.0H1140.9V215.7H1134.3ZM186.4 215.4H193.0V222.2H186.4ZM231.5 215.4H238.1V222.2H231.5ZM1114.9 215.4H1121.5V222.2H1114.9ZM1134.3 215.4H1140.9V222.2H1134.3ZM225.1 221.9H231.7V228.6H225.1ZM605.5 221.9H612.1V228.6H605.5ZM747.4 221.9H760.4V228.6H747.4ZM1134.3 221.9H1140.9V228.6H1134.3ZM212.2 228.3H218.8V235.1H212.2ZM418.5 228.3H425.1V235.1H418.5ZM618.4 228.3H637.9V235.1H618.4ZM670.0 228.3H734.6V235.1H670.0ZM1134.3 228.3H1140.9V235.1H1134.3ZM425.0 234.8H431.6V241.5H425.0ZM618.4 234.8H631.4V241.5H618.4ZM831.2 234.8H882.9V241.5H831.2ZM1134.3 234.8H1140.9V241.5H1134.3ZM476.5 241.2H483.1V248.0H476.5ZM618.4 241.2H637.9V248.0H618.4ZM876.3 241.2H882.9V248.0H876.3ZM1134.3 241.2H1140.9V248.0H1134.3ZM483.0 247.7H489.6V254.4H483.0ZM612.0 247.7H618.6V254.4H612.0ZM663.5 247.7H695.9V254.4H663.5ZM702.2 247.7H721.7V254.4H702.2ZM805.4 247.7H812.0V254.4H805.4ZM882.8 247.7H908.7V254.4H882.8ZM1134.3 247.7H1140.9V254.4H1134.3ZM534.6 254.1H612.1V260.8H534.6ZM670.0 254.1H683.0V260.8H670.0ZM702.2 254.1H715.3V260.8H702.2ZM721.6 254.1H728.2V260.8H721.6ZM792.5 254.1H805.6V260.8H792.5ZM889.2 254.1H921.6V260.8H889.2ZM1134.3 254.1H1140.9V260.8H1134.3ZM489.4 260.5H496.0V267.3H489.4ZM528.1 260.5H541.2V267.3H528.1ZM663.5 260.5H676.6V267.3H663.5ZM708.7 260.5H715.3V267.3H708.7ZM721.6 260.5H734.6V267.3H721.6ZM786.1 260.5H792.7V267.3H786.1ZM915.0 260.5H928.1V267.3H915.0ZM1134.3 260.5H1140.9V267.3H1134.3ZM521.7 267.0H534.7V273.7H521.7ZM670.0 267.0H676.6V273.7H670.0ZM728.0 267.0H741.1V273.7H728.0ZM786.1 267.0H792.7V273.7H786.1ZM915.0 267.0H928.1V273.7H915.0ZM521.7 273.4H528.3V280.2H521.7ZM676.4 273.4H683.0V280.2H676.4ZM708.7 273.4H715.3V280.2H708.7ZM734.5 273.4H747.5V280.2H734.5ZM779.6 273.4H792.7V280.2H779.6ZM915.0 273.4H928.1V280.2H915.0ZM495.9 279.9H502.5V286.6H495.9ZM521.7 279.9H528.3V286.6H521.7ZM682.9 279.9H695.9V286.6H682.9ZM702.2 279.9H715.3V286.6H702.2ZM740.9 279.9H747.5V286.6H740.9ZM779.6 279.9H786.2V286.6H779.6ZM921.5 279.9H928.1V286.6H921.5ZM521.7 286.3H547.6V293.1H521.7ZM689.3 286.3H721.7V293.1H689.3ZM927.9 286.3H941.0V293.1H927.9ZM502.3 292.8H554.1V299.5H502.3ZM695.8 292.8H734.6V299.5H695.8ZM940.8 292.8H947.4V299.5H940.8ZM508.8 299.2H521.8V306.0H508.8ZM547.5 299.2H554.1V306.0H547.5ZM702.2 299.2H715.3V306.0H702.2ZM947.3 299.2H953.9V306.0H947.3ZM560.4 305.7H567.0V312.4H560.4ZM599.1 305.7H605.7V312.4H599.1ZM715.1 305.7H721.7V312.4H715.1ZM953.7 305.7H960.3V312.4H953.7ZM573.3 312.1H579.9V318.9H573.3ZM599.1 312.1H605.7V318.9H599.1ZM953.7 312.1H960.3V318.9H953.7ZM592.6 318.6H599.2V325.3H592.6ZM960.2 318.6H966.8V325.3H960.2ZM1127.8 318.6H1134.4V325.3H1127.8ZM592.6 325.0H599.2V331.8H592.6ZM1127.8 325.0H1134.4V331.8H1127.8ZM1276.1 325.0H1282.7V331.8H1276.1ZM973.1 331.5H979.7V338.2H973.1ZM1127.8 331.5H1134.4V338.2H1127.8ZM1263.2 331.5H1269.8V338.2H1263.2ZM979.5 337.9H986.1V344.7H979.5ZM1127.8 337.9H1140.9V344.7H1127.8ZM986.0 344.4H992.6V351.1H986.0ZM1121.4 344.4H1134.4V351.1H1121.4ZM586.2 350.8H592.8V357.6H586.2ZM1114.9 350.8H1128.0V357.6H1114.9ZM1231.0 350.8H1237.6V357.6H1231.0ZM586.2 357.3H592.8V364.0H586.2ZM1114.9 357.3H1121.5V364.0H1114.9ZM1224.5 357.3H1237.6V364.0H1224.5ZM553.9 363.7H560.5V370.5H553.9ZM1134.3 363.7H1140.9V370.5H1134.3ZM1224.5 363.7H1231.1V370.5H1224.5ZM1140.7 370.2H1147.3V376.9H1140.7ZM1224.5 370.2H1231.1V376.9H1224.5ZM1224.5 376.6H1231.1V383.4H1224.5ZM1166.5 383.1H1173.1V389.8H1166.5ZM1231.0 383.1H1237.6V389.8H1231.0ZM1018.2 389.5H1024.8V396.3H1018.2ZM1173.0 389.5H1179.6V396.3H1173.0ZM1231.0 389.5H1244.0V396.3H1231.0ZM1237.4 396.0H1250.5V402.7H1237.4ZM1173.0 402.4H1179.6V409.2H1173.0ZM1231.0 402.4H1244.0V409.2H1231.0ZM1166.5 408.9H1173.1V415.6H1166.5ZM1231.0 408.9H1237.6V415.6H1231.0ZM1224.5 415.3H1237.6V422.1H1224.5ZM1160.1 421.8H1166.7V428.5H1160.1ZM1231.0 421.8H1244.0V428.5H1231.0ZM1185.9 428.2H1198.9V435.0H1185.9ZM1237.4 428.2H1256.9V435.0H1237.4ZM1192.3 434.7H1198.9V441.4H1192.3ZM1256.8 434.7H1308.5V441.4H1256.8ZM1185.9 441.1H1192.5V447.8H1185.9ZM1256.8 441.1H1308.5V447.8H1256.8ZM1160.1 447.6H1166.7V454.3H1160.1ZM1250.3 447.6H1269.8V454.3H1250.3ZM1282.6 447.6H1308.5V454.3H1282.6ZM1243.9 454.0H1256.9V460.7H1243.9ZM1282.6 454.0H1295.6V460.7H1282.6ZM1063.3 460.4H1082.8V467.2H1063.3ZM1108.5 460.4H1115.1V467.2H1108.5ZM1243.9 460.4H1256.9V467.2H1243.9ZM1276.1 460.4H1289.2V467.2H1276.1ZM1243.9 466.9H1256.9V473.6H1243.9ZM1269.7 466.9H1282.7V473.6H1269.7ZM1243.9 473.3H1256.9V480.1H1243.9ZM1263.2 473.3H1276.3V480.1H1263.2ZM1250.3 479.8H1263.4V486.5H1250.3Z"/>
<path fill="#26ffd1" d="M1205.2 105.8H1218.2V112.5H1205.2ZM1205.2 112.2H1218.2V119.0H1205.2ZM1205.2 118.7H1218.2V125.4H1205.2ZM1205.2 125.1H1218.2V131.9H1205.2ZM631.3 131.6H637.9V138.3H631.3ZM1205.2 131.6H1218.2V138.3H1205.2ZM1198.8 138.0H1218.2V144.8H1198.8ZM1192.3 144.5H1218.2V151.2H1192.3ZM1185.9 150.9H1218.2V157.7H1185.9ZM1179.4 157.4H1218.2V164.1H1179.4ZM1166.5 163.8H1218.2V170.6H1166.5ZM889.2 170.3H895.8V177.0H889.2ZM1018.2 170.3H1024.8V177.0H1018.2ZM1160.1 170.3H1218.2V177.0H1160.1ZM882.8 176.7H902.3V183.5H882.8ZM927.9 176.7H934.5V183.5H927.9ZM1011.8 176.7H1018.4V183.5H1011.8ZM1160.1 176.7H1218.2V183.5H1160.1ZM876.3 183.2H882.9V189.9H876.3ZM1153.6 183.2H1218.2V189.9H1153.6ZM1147.2 189.6H1218.2V196.4H1147.2ZM205.7 196.1H212.3V202.8H205.7ZM225.1 196.1H231.7V202.8H225.1ZM1140.7 196.1H1218.2V202.8H1140.7ZM192.8 202.5H199.4V209.3H192.8ZM792.5 202.5H799.1V209.3H792.5ZM1134.3 202.5H1218.2V209.3H1134.3ZM186.4 209.0H193.0V215.7H186.4ZM431.4 209.0H444.4V215.7H431.4ZM457.2 209.0H476.7V215.7H457.2ZM495.9 209.0H508.9V215.7H495.9ZM779.6 209.0H786.2V215.7H779.6ZM1037.5 209.0H1044.1V215.7H1037.5ZM1140.7 209.0H1205.4V215.7H1140.7ZM418.5 215.4H425.1V222.2H418.5ZM521.7 215.4H528.3V222.2H521.7ZM766.7 215.4H773.3V222.2H766.7ZM1050.4 215.4H1057.0V222.2H1050.4ZM1140.7 215.4H1205.4V222.2H1140.7ZM179.9 221.9H186.5V228.6H179.9ZM231.5 221.9H238.1V228.6H231.5ZM612.0 221.9H618.6V228.6H612.0ZM715.1 221.9H747.5V228.6H715.1ZM1140.7 221.9H1198.9V228.6H1140.7ZM186.4 228.3H193.0V235.1H186.4ZM218.6 228.3H225.2V235.1H218.6ZM1140.7 228.3H1198.9V235.1H1140.7ZM1140.7 234.8H1198.9V241.5H1140.7ZM437.9 241.2H457.3V248.0H437.9ZM470.1 241.2H476.7V248.0H470.1ZM811.9 241.2H876.5V248.0H811.9ZM1140.7 241.2H1192.5V248.0H1140.7ZM321.8 247.7H328.4V254.4H321.8ZM618.4 247.7H663.7V254.4H618.4ZM811.9 247.7H882.9V254.4H811.9ZM1140.7 247.7H1186.0V254.4H1140.7ZM321.8 254.1H328.4V260.8H321.8ZM483.0 254.1H489.6V260.8H483.0ZM612.0 254.1H670.1V260.8H612.0ZM715.1 254.1H721.7V260.8H715.1ZM805.4 254.1H889.4V260.8H805.4ZM1140.7 254.1H1179.6V260.8H1140.7ZM541.0 260.5H663.7V267.3H541.0ZM715.1 260.5H721.7V267.3H715.1ZM792.5 260.5H915.2V267.3H792.5ZM1140.7 260.5H1147.3V267.3H1140.7ZM489.4 267.0H496.0V273.7H489.4ZM534.6 267.0H670.1V273.7H534.6ZM715.1 267.0H728.2V273.7H715.1ZM792.5 267.0H824.9V273.7H792.5ZM902.1 267.0H915.2V273.7H902.1ZM1127.8 267.0H1134.4V273.7H1127.8ZM528.1 273.4H676.6V280.2H528.1ZM715.1 273.4H734.6V280.2H715.1ZM792.5 273.4H818.5V280.2H792.5ZM908.6 273.4H915.2V280.2H908.6ZM528.1 279.9H683.0V286.6H528.1ZM715.1 279.9H741.1V286.6H715.1ZM786.1 279.9H818.5V286.6H786.1ZM915.0 279.9H921.6V286.6H915.0ZM495.9 286.3H502.5V293.1H495.9ZM547.5 286.3H689.5V293.1H547.5ZM721.6 286.3H741.1V293.1H721.6ZM760.3 286.3H786.2V293.1H760.3ZM921.5 286.3H928.1V293.1H921.5ZM553.9 292.8H695.9V299.5H553.9ZM747.4 292.8H754.0V299.5H747.4ZM927.9 292.8H941.0V299.5H927.9ZM502.3 299.2H508.9V306.0H502.3ZM553.9 299.2H702.4V306.0H553.9ZM740.9 299.2H747.5V306.0H740.9ZM934.4 299.2H947.4V306.0H934.4ZM508.8 305.7H554.1V312.4H508.8ZM586.2 305.7H599.2V312.4H586.2ZM605.5 305.7H612.1V312.4H605.5ZM708.7 305.7H715.3V312.4H708.7ZM947.3 305.7H953.9V312.4H947.3ZM1289.0 305.7H1302.1V312.4H1289.0ZM560.4 312.1H567.0V318.9H560.4ZM592.6 312.1H599.2V318.9H592.6ZM605.5 312.1H612.1V318.9H605.5ZM715.1 312.1H728.2V318.9H715.1ZM947.3 312.1H953.9V318.9H947.3ZM1127.8 312.1H1134.4V318.9H1127.8ZM1276.1 312.1H1282.7V318.9H1276.1ZM586.2 318.6H592.8V325.3H586.2ZM605.5 318.6H612.1V325.3H605.5ZM953.7 318.6H960.3V325.3H953.7ZM1263.2 318.6H1269.8V325.3H1263.2ZM605.5 325.0H612.1V331.8H605.5ZM966.6 325.0H973.2V331.8H966.6ZM1134.3 325.0H1140.9V331.8H1134.3ZM1250.3 325.0H1256.9V331.8H1250.3ZM579.7 331.5H586.3V338.2H579.7ZM1134.3 331.5H1140.9V338.2H1134.3ZM1237.4 331.5H1244.0V338.2H1237.4ZM386.3 337.9H392.9V344.7H386.3ZM579.7 337.9H586.3V344.7H579.7ZM1140.7 337.9H1147.3V344.7H1140.7ZM1224.5 337.9H1237.6V344.7H1224.5ZM579.7 344.4H586.3V351.1H579.7ZM605.5 344.4H612.1V351.1H605.5ZM1134.3 344.4H1147.3V351.1H1134.3ZM1218.1 344.4H1231.1V351.1H1218.1ZM573.3 350.8H586.3V357.6H573.3ZM992.4 350.8H999.0V357.6H992.4ZM1127.8 350.8H1147.3V357.6H1127.8ZM1224.5 350.8H1231.1V357.6H1224.5ZM553.9 357.3H586.3V364.0H553.9ZM612.0 357.3H618.6V364.0H612.0ZM1121.4 357.3H1147.3V364.0H1121.4ZM1218.1 357.3H1224.7V364.0H1218.1ZM998.9 363.7H1005.5V370.5H998.9ZM1140.7 363.7H1147.3V370.5H1140.7ZM1218.1 363.7H1224.7V370.5H1218.1ZM998.9 370.2H1005.5V376.9H998.9ZM1147.2 370.2H1153.8V376.9H1147.2ZM1211.7 370.2H1224.7V376.9H1211.7ZM1147.2 376.6H1166.7V383.4H1147.2ZM1198.8 376.6H1224.7V383.4H1198.8ZM1211.7 383.1H1231.1V389.8H1211.7ZM1218.1 389.5H1231.1V396.3H1218.1ZM1179.4 396.0H1186.0V402.7H1179.4ZM1218.1 396.0H1237.6V402.7H1218.1ZM450.7 402.4H457.3V409.2H450.7ZM1018.2 402.4H1024.8V409.2H1018.2ZM1218.1 402.4H1231.1V409.2H1218.1ZM1211.7 408.9H1231.1V415.6H1211.7ZM437.9 415.3H444.4V422.1H437.9ZM1011.8 415.3H1018.4V422.1H1011.8ZM1160.1 415.3H1166.7V422.1H1160.1ZM1198.8 415.3H1224.7V422.1H1198.8ZM1018.2 421.8H1024.8V428.5H1018.2ZM1166.5 421.8H1231.1V428.5H1166.5ZM1198.8 428.2H1237.6V435.0H1198.8ZM1198.8 434.7H1256.9V441.4H1198.8ZM1192.3 441.1H1198.9V447.8H1192.3ZM1211.7 441.1H1256.9V447.8H1211.7ZM1166.5 447.6H1186.0V454.3H1166.5ZM1218.1 447.6H1250.5V454.3H1218.1ZM1114.9 454.0H1121.5V460.7H1114.9ZM1140.7 454.0H1166.7V460.7H1140.7ZM1218.1 454.0H1244.0V460.7H1218.1ZM1295.5 454.0H1308.5V460.7H1295.5ZM1056.9 460.4H1063.5V467.2H1056.9ZM1160.1 460.4H1166.7V467.2H1160.1ZM1218.1 460.4H1244.0V467.2H1218.1ZM1289.0 460.4H1295.6V467.2H1289.0ZM1102.0 466.9H1108.6V473.6H1102.0ZM1160.1 466.9H1173.1V473.6H1160.1ZM1218.1 466.9H1244.0V473.6H1218.1ZM1282.6 466.9H1289.2V473.6H1282.6ZM1160.1 473.3H1186.0V480.1H1160.1ZM1218.1 473.3H1244.0V480.1H1218.1ZM1276.1 473.3H1282.7V480.1H1276.1ZM1173.0 479.8H1186.0V486.5H1173.0ZM1231.0 479.8H1250.5V486.5H1231.0ZM1263.2 479.8H1269.8V486.5H1263.2ZM1179.4 486.2H1186.0V493.0H1179.4ZM1237.4 486.2H1263.4V493.0H1237.4ZM1179.4 492.7H1186.0V499.4H1179.4ZM1237.4 492.7H1263.4V499.4H1237.4ZM1121.4 537.8H1128.0V544.6H1121.4Z"/>
<path fill="#37ffc0" d="M1237.4 60.7H1244.0V67.4H1237.4ZM1218.1 92.9H1224.7V99.6H1218.1ZM1218.1 99.3H1224.7V106.1H1218.1ZM1198.8 105.8H1205.4V112.5H1198.8ZM1218.1 105.8H1224.7V112.5H1218.1ZM1198.8 112.2H1205.4V119.0H1198.8ZM1218.1 112.2H1224.7V119.0H1218.1ZM1198.8 118.7H1205.4V125.4H1198.8ZM1218.1 118.7H1224.7V125.4H1218.1ZM1198.8 125.1H1205.4V131.9H1198.8ZM1218.1 125.1H1224.7V131.9H1218.1ZM1198.8 131.6H1205.4V138.3H1198.8ZM1218.1 131.6H1224.7V138.3H1218.1ZM1218.1 138.0H1224.7V144.8H1218.1ZM1179.4 144.5H1192.5V151.2H1179.4ZM1218.1 144.5H1224.7V151.2H1218.1ZM1179.4 150.9H1186.0V157.7H1179.4ZM1218.1 150.9H1224.7V157.7H1218.1ZM1218.1 157.4H1224.7V164.1H1218.1ZM882.8 163.8H895.8V170.6H882.8ZM1160.1 163.8H1166.7V170.6H1160.1ZM1218.1 163.8H1224.7V170.6H1218.1ZM882.8 170.3H889.4V177.0H882.8ZM1218.1 170.3H1224.7V177.0H1218.1ZM902.1 176.7H928.1V183.5H902.1ZM934.4 176.7H953.9V183.5H934.4ZM1218.1 176.7H1224.7V183.5H1218.1ZM869.9 183.2H876.5V189.9H869.9ZM1140.7 183.2H1153.8V189.9H1140.7ZM1218.1 183.2H1224.7V189.9H1218.1ZM824.8 189.6H831.3V196.4H824.8ZM1140.7 189.6H1147.3V196.4H1140.7ZM1218.1 189.6H1224.7V196.4H1218.1ZM199.3 196.1H205.9V202.8H199.3ZM231.5 196.1H238.1V202.8H231.5ZM1134.3 196.1H1140.9V202.8H1134.3ZM1218.1 196.1H1224.7V202.8H1218.1ZM238.0 202.5H244.6V209.3H238.0ZM786.1 202.5H792.7V209.3H786.1ZM1031.1 202.5H1037.7V209.3H1031.1ZM1218.1 202.5H1224.7V209.3H1218.1ZM238.0 209.0H244.6V215.7H238.0ZM425.0 209.0H431.6V215.7H425.0ZM476.5 209.0H496.0V215.7H476.5ZM508.8 209.0H515.4V215.7H508.8ZM773.2 209.0H779.8V215.7H773.2ZM1114.9 209.0H1121.5V215.7H1114.9ZM179.9 215.4H186.5V222.2H179.9ZM238.0 215.4H244.6V222.2H238.0ZM528.1 215.4H541.2V222.2H528.1ZM753.8 215.4H766.9V222.2H753.8ZM1108.5 215.4H1115.1V222.2H1108.5ZM412.1 221.9H418.7V228.6H412.1ZM618.4 221.9H625.0V228.6H618.4ZM637.7 221.9H663.7V228.6H637.7ZM682.9 221.9H715.3V228.6H682.9ZM1198.8 221.9H1205.4V228.6H1198.8ZM179.9 228.3H186.5V235.1H179.9ZM225.1 228.3H231.7V235.1H225.1ZM412.1 228.3H418.7V235.1H412.1ZM1198.8 228.3H1205.4V235.1H1198.8ZM192.8 234.8H212.3V241.5H192.8ZM418.5 234.8H425.1V241.5H418.5ZM1198.8 234.8H1205.4V241.5H1198.8ZM431.4 241.2H438.0V248.0H431.4ZM457.2 241.2H463.8V248.0H457.2ZM1192.3 241.2H1205.4V248.0H1192.3ZM476.5 247.7H483.1V254.4H476.5ZM1179.4 254.1H1186.0V260.8H1179.4ZM1147.2 260.5H1186.0V267.3H1147.2ZM824.8 267.0H857.1V273.7H824.8ZM882.8 267.0H902.3V273.7H882.8ZM489.4 273.4H496.0V280.2H489.4ZM818.3 273.4H831.3V280.2H818.3ZM895.7 273.4H908.7V280.2H895.7ZM818.3 279.9H824.9V286.6H818.3ZM908.6 279.9H915.2V286.6H908.6ZM786.1 286.3H812.0V293.1H786.1ZM915.0 286.3H921.6V293.1H915.0ZM495.9 292.8H502.5V299.5H495.9ZM495.9 299.2H502.5V306.0H495.9ZM927.9 299.2H934.5V306.0H927.9ZM502.3 305.7H508.9V312.4H502.3ZM553.9 305.7H560.5V312.4H553.9ZM573.3 305.7H586.3V312.4H573.3ZM612.0 305.7H618.6V312.4H612.0ZM631.3 305.7H708.8V312.4H631.3ZM734.5 305.7H741.1V312.4H734.5ZM940.8 305.7H947.4V312.4H940.8ZM1127.8 305.7H1134.4V312.4H1127.8ZM515.2 312.1H554.1V318.9H515.2ZM579.7 312.1H592.8V318.9H579.7ZM708.7 312.1H715.3V318.9H708.7ZM566.8 318.6H573.4V325.3H566.8ZM1134.3 318.6H1140.9V325.3H1134.3ZM573.3 325.0H579.9V331.8H573.3ZM960.2 325.0H966.8V331.8H960.2ZM386.3 331.5H392.9V338.2H386.3ZM605.5 331.5H612.1V338.2H605.5ZM1140.7 331.5H1147.3V338.2H1140.7ZM379.8 337.9H386.4V344.7H379.8ZM392.7 337.9H399.3V344.7H392.7ZM573.3 337.9H579.9V344.7H573.3ZM605.5 337.9H612.1V344.7H605.5ZM386.3 344.4H399.3V351.1H386.3ZM566.8 344.4H579.9V351.1H566.8ZM560.4 350.8H573.4V357.6H560.4ZM618.4 350.8H625.0V357.6H618.4ZM1147.2 350.8H1153.8V357.6H1147.2ZM1218.1 350.8H1224.7V357.6H1218.1ZM1147.2 357.3H1153.8V364.0H1147.2ZM1211.7 357.3H1218.2V364.0H1211.7ZM1147.2 363.7H1160.2V370.5H1147.2ZM1205.2 363.7H1218.2V370.5H1205.2ZM1153.6 370.2H1166.7V376.9H1153.6ZM1198.8 370.2H1211.8V376.9H1198.8ZM1166.5 376.6H1173.1V383.4H1166.5ZM1192.3 376.6H1198.9V383.4H1192.3ZM1011.8 383.1H1018.4V389.8H1011.8ZM1173.0 383.1H1179.6V389.8H1173.0ZM1192.3 383.1H1211.8V389.8H1192.3ZM444.3 389.5H457.3V396.3H444.3ZM1179.4 389.5H1192.5V396.3H1179.4ZM1205.2 389.5H1218.2V396.3H1205.2ZM457.2 396.0H463.8V402.7H457.2ZM1185.9 396.0H1192.5V402.7H1185.9ZM1211.7 396.0H1218.2V402.7H1211.7ZM1179.4 402.4H1192.5V409.2H1179.4ZM1205.2 402.4H1218.2V409.2H1205.2ZM1173.0 408.9H1179.6V415.6H1173.0ZM1192.3 408.9H1211.8V415.6H1192.3ZM1166.5 415.3H1173.1V422.1H1166.5ZM1192.3 415.3H1198.9V422.1H1192.3ZM1031.1 434.7H1037.7V441.4H1031.1ZM1198.8 441.1H1211.8V447.8H1198.8ZM1037.5 447.6H1044.1V454.3H1037.5ZM1185.9 447.6H1198.9V454.3H1185.9ZM1205.2 447.6H1218.2V454.3H1205.2ZM1127.8 454.0H1140.9V460.7H1127.8ZM1166.5 454.0H1173.1V460.7H1166.5ZM1211.7 454.0H1218.2V460.7H1211.7ZM1050.4 460.4H1057.0V467.2H1050.4ZM1147.2 460.4H1160.2V467.2H1147.2ZM1166.5 460.4H1179.6V467.2H1166.5ZM1211.7 460.4H1218.2V467.2H1211.7ZM1295.5 460.4H1308.5V467.2H1295.5ZM1089.1 466.9H1102.2V473.6H1089.1ZM1153.6 466.9H1160.2V473.6H1153.6ZM1173.0 466.9H1186.0V473.6H1173.0ZM1211.7 466.9H1218.2V473.6H1211.7ZM1289.0 466.9H1295.6V473.6H1289.0ZM1185.9 473.3H1192.5V480.1H1185.9ZM1211.7 473.3H1218.2V480.1H1211.7ZM1282.6 473.3H1289.2V480.1H1282.6ZM1160.1 479.8H1173.1V486.5H1160.1ZM1185.9 479.8H1192.5V486.5H1185.9ZM1218.1 479.8H1231.1V486.5H1218.1ZM1269.7 479.8H1276.3V486.5H1269.7ZM1166.5 486.2H1179.6V493.0H1166.5ZM1185.9 486.2H1192.5V493.0H1185.9ZM1224.5 486.2H1237.6V493.0H1224.5ZM1263.2 486.2H1269.8V493.0H1263.2ZM1173.0 492.7H1179.6V499.4H1173.0ZM1185.9 492.7H1192.5V499.4H1185.9ZM1231.0 492.7H1237.6V499.4H1231.0ZM1179.4 499.1H1186.0V505.9H1179.4ZM1237.4 499.1H1263.4V505.9H1237.4ZM1121.4 531.4H1134.4V538.1H1121.4ZM1127.8 537.8H1134.4V544.6H1127.8Z"/>
<path fill="#48ffaf" d="M1237.4 67.1H1244.0V73.8H1237.4ZM1218.1 86.4H1224.7V93.2H1218.1ZM1211.7 99.3H1218.2V106.1H1211.7ZM1192.3 138.0H1198.9V144.8H1192.3ZM1173.0 157.4H1179.6V164.1H1173.0ZM876.3 163.8H882.9V170.6H876.3ZM876.3 170.3H882.9V177.0H876.3ZM895.7 170.3H902.3V177.0H895.7ZM869.9 176.7H882.9V183.5H869.9ZM953.7 176.7H960.3V183.5H953.7ZM1005.3 176.7H1011.9V183.5H1005.3ZM1153.6 176.7H1160.2V183.5H1153.6ZM837.6 183.2H870.0V189.9H837.6ZM212.2 189.6H225.2V196.4H212.2ZM192.8 196.1H199.4V202.8H192.8ZM799.0 196.1H805.6V202.8H799.0ZM1031.1 196.1H1037.7V202.8H1031.1ZM1127.8 196.1H1134.4V202.8H1127.8ZM186.4 202.5H193.0V209.3H186.4ZM437.9 202.5H450.9V209.3H437.9ZM779.6 202.5H786.2V209.3H779.6ZM179.9 209.0H186.5V215.7H179.9ZM418.5 209.0H425.1V215.7H418.5ZM515.2 209.0H521.8V215.7H515.2ZM760.3 209.0H773.3V215.7H760.3ZM1205.2 209.0H1211.8V215.7H1205.2ZM412.1 215.4H418.7V222.2H412.1ZM541.0 215.4H547.6V222.2H541.0ZM740.9 215.4H754.0V222.2H740.9ZM1056.9 215.4H1063.5V222.2H1056.9ZM238.0 221.9H244.6V228.6H238.0ZM624.9 221.9H637.9V228.6H624.9ZM663.5 221.9H683.0V228.6H663.5ZM231.5 228.3H238.1V235.1H231.5ZM186.4 234.8H193.0V241.5H186.4ZM212.2 234.8H225.2V241.5H212.2ZM412.1 234.8H418.7V241.5H412.1ZM418.5 241.2H431.6V248.0H418.5ZM463.6 241.2H470.2V248.0H463.6ZM437.9 247.7H450.9V254.4H437.9ZM483.0 260.5H489.6V267.3H483.0ZM857.0 267.0H863.6V273.7H857.0ZM869.9 267.0H882.9V273.7H869.9ZM831.2 273.4H850.7V280.2H831.2ZM889.2 273.4H895.8V280.2H889.2ZM1127.8 273.4H1134.4V280.2H1127.8ZM489.4 279.9H496.0V286.6H489.4ZM824.8 279.9H831.3V286.6H824.8ZM902.1 279.9H908.7V286.6H902.1ZM489.4 286.3H496.0V293.1H489.4ZM811.9 286.3H818.5V293.1H811.9ZM489.4 292.8H496.0V299.5H489.4ZM753.8 292.8H760.4V299.5H753.8ZM779.6 292.8H805.6V299.5H779.6ZM921.5 292.8H928.1V299.5H921.5ZM489.4 299.2H496.0V306.0H489.4ZM1127.8 299.2H1134.4V306.0H1127.8ZM489.4 305.7H502.5V312.4H489.4ZM618.4 305.7H631.4V312.4H618.4ZM489.4 312.1H515.4V318.9H489.4ZM553.9 312.1H560.5V318.9H553.9ZM612.0 312.1H618.6V318.9H612.0ZM631.3 312.1H708.8V318.9H631.3ZM728.0 312.1H734.6V318.9H728.0ZM521.7 318.6H567.0V325.3H521.7ZM657.1 318.6H715.3V325.3H657.1ZM373.4 325.0H405.8V331.8H373.4ZM566.8 325.0H573.4V331.8H566.8ZM1140.7 325.0H1147.3V331.8H1140.7ZM373.4 331.5H386.4V338.2H373.4ZM392.7 331.5H405.8V338.2H392.7ZM566.8 331.5H579.9V338.2H566.8ZM966.6 331.5H973.2V338.2H966.6ZM373.4 337.9H380.0V344.7H373.4ZM399.2 337.9H405.8V344.7H399.2ZM566.8 337.9H573.4V344.7H566.8ZM1147.2 337.9H1153.8V344.7H1147.2ZM379.8 344.4H386.4V351.1H379.8ZM399.2 344.4H405.8V351.1H399.2ZM560.4 344.4H567.0V351.1H560.4ZM1147.2 344.4H1153.8V351.1H1147.2ZM386.3 350.8H405.8V357.6H386.3ZM553.9 350.8H560.5V357.6H553.9ZM1153.6 350.8H1160.2V357.6H1153.6ZM1211.7 350.8H1218.2V357.6H1211.7ZM547.5 357.3H554.1V364.0H547.5ZM992.4 357.3H999.0V364.0H992.4ZM1153.6 357.3H1160.2V364.0H1153.6ZM1205.2 357.3H1211.8V364.0H1205.2ZM1160.1 363.7H1179.6V370.5H1160.1ZM1185.9 363.7H1205.4V370.5H1185.9ZM573.3 370.2H586.3V376.9H573.3ZM1166.5 370.2H1198.9V376.9H1166.5ZM998.9 376.6H1005.5V383.4H998.9ZM1173.0 376.6H1192.5V383.4H1173.0ZM1179.4 383.1H1192.5V389.8H1179.4ZM457.2 389.5H463.8V396.3H457.2ZM1192.3 389.5H1205.4V396.3H1192.3ZM1018.2 396.0H1024.8V402.7H1018.2ZM1192.3 396.0H1211.8V402.7H1192.3ZM1192.3 402.4H1205.4V409.2H1192.3ZM1011.8 408.9H1018.4V415.6H1011.8ZM1179.4 408.9H1192.5V415.6H1179.4ZM1173.0 415.3H1192.5V422.1H1173.0ZM1024.6 428.2H1031.2V435.0H1024.6ZM1198.8 447.6H1205.4V454.3H1198.8ZM1121.4 454.0H1128.0V460.7H1121.4ZM1173.0 454.0H1211.8V460.7H1173.0ZM1044.0 460.4H1050.6V467.2H1044.0ZM1114.9 460.4H1121.5V467.2H1114.9ZM1134.3 460.4H1147.3V467.2H1134.3ZM1179.4 460.4H1198.9V467.2H1179.4ZM1205.2 460.4H1211.8V467.2H1205.2ZM1076.2 466.9H1089.3V473.6H1076.2ZM1108.5 466.9H1115.1V473.6H1108.5ZM1147.2 466.9H1153.8V473.6H1147.2ZM1185.9 466.9H1211.8V473.6H1185.9ZM1295.5 466.9H1308.5V473.6H1295.5ZM1153.6 473.3H1160.2V480.1H1153.6ZM1192.3 473.3H1211.8V480.1H1192.3ZM1289.0 473.3H1295.6V480.1H1289.0ZM1192.3 479.8H1218.2V486.5H1192.3ZM1276.1 479.8H1282.7V486.5H1276.1ZM1160.1 486.2H1166.7V493.0H1160.1ZM1192.3 486.2H1224.7V493.0H1192.3ZM1269.7 486.2H1276.3V493.0H1269.7ZM1166.5 492.7H1173.1V499.4H1166.5ZM1192.3 492.7H1205.4V499.4H1192.3ZM1218.1 492.7H1231.1V499.4H1218.1ZM1263.2 492.7H1269.8V499.4H1263.2ZM1166.5 499.1H1179.6V505.9H1166.5ZM1185.9 499.1H1198.9V505.9H1185.9ZM1224.5 499.1H1237.6V505.9H1224.5ZM1166.5 505.6H1198.9V512.3H1166.5ZM1224.5 505.6H1263.4V512.3H1224.5ZM1114.9 531.4H1121.5V538.1H1114.9ZM1134.3 531.4H1140.9V538.1H1134.3ZM1114.9 537.8H1121.5V544.6H1114.9ZM1134.3 537.8H1147.3V544.6H1134.3Z"/>
<path fill="#59ff9e" d="M515.2 60.7H741.1V67.4H515.2ZM515.2 67.1H741.1V73.8H515.2ZM521.7 73.5H721.7V80.3H521.7ZM534.6 80.0H721.7V86.7H534.6ZM541.0 86.4H715.3V93.2H541.0ZM560.4 92.9H702.4V99.6H560.4ZM560.4 99.3H702.4V106.1H560.4ZM1205.2 99.3H1211.8V106.1H1205.2ZM566.8 105.8H702.4V112.5H566.8ZM579.7 112.2H625.0V119.0H579.7ZM637.7 112.2H702.4V119.0H637.7ZM579.7 118.7H625.0V125.4H579.7ZM637.7 118.7H702.4V125.4H637.7ZM586.2 125.1H625.0V131.9H586.2ZM637.7 125.1H695.9V131.9H637.7ZM599.1 131.6H618.6V138.3H599.1ZM624.9 131.6H631.4V138.3H624.9ZM637.7 131.6H644.3V138.3H637.7ZM650.6 131.6H683.0V138.3H650.6ZM631.3 138.0H683.0V144.8H631.3ZM1185.9 138.0H1192.5V144.8H1185.9ZM631.3 144.5H683.0V151.2H631.3ZM644.2 150.9H663.7V157.7H644.2ZM869.9 150.9H876.5V157.7H869.9ZM1173.0 150.9H1179.6V157.7H1173.0ZM869.9 157.4H882.9V164.1H869.9ZM869.9 163.8H876.5V170.6H869.9ZM1018.2 163.8H1024.8V170.6H1018.2ZM1031.1 163.8H1037.7V170.6H1031.1ZM869.9 170.3H876.5V177.0H869.9ZM915.0 170.3H921.6V177.0H915.0ZM1031.1 170.3H1037.7V177.0H1031.1ZM960.2 176.7H973.2V183.5H960.2ZM992.4 176.7H1005.5V183.5H992.4ZM1031.1 176.7H1037.7V183.5H1031.1ZM1147.2 176.7H1153.8V183.5H1147.2ZM831.2 183.2H837.8V189.9H831.2ZM1031.1 183.2H1037.7V189.9H1031.1ZM205.7 189.6H212.3V196.4H205.7ZM225.1 189.6H231.7V196.4H225.1ZM773.2 189.6H779.8V196.4H773.2ZM1031.1 189.6H1037.7V196.4H1031.1ZM1134.3 189.6H1140.9V196.4H1134.3ZM773.2 196.1H786.2V202.8H773.2ZM425.0 202.5H438.0V209.3H425.0ZM450.7 202.5H457.3V209.3H450.7ZM773.2 202.5H779.8V209.3H773.2ZM1114.9 202.5H1121.5V209.3H1114.9ZM244.4 209.0H251.0V215.7H244.4ZM412.1 209.0H418.7V215.7H412.1ZM753.8 209.0H760.4V215.7H753.8ZM173.5 215.4H180.1V222.2H173.5ZM244.4 215.4H251.0V222.2H244.4ZM405.6 215.4H412.2V222.2H405.6ZM547.5 215.4H554.1V222.2H547.5ZM734.5 215.4H741.1V222.2H734.5ZM1063.3 215.4H1069.9V222.2H1063.3ZM1102.0 215.4H1108.6V222.2H1102.0ZM173.5 221.9H180.1V228.6H173.5ZM244.4 221.9H251.0V228.6H244.4ZM405.6 221.9H412.2V228.6H405.6ZM173.5 228.3H180.1V235.1H173.5ZM238.0 228.3H244.6V235.1H238.0ZM405.6 228.3H412.2V235.1H405.6ZM225.1 234.8H231.7V241.5H225.1ZM405.6 234.8H412.2V241.5H405.6ZM308.9 241.2H334.8V248.0H308.9ZM405.6 241.2H418.7V248.0H405.6ZM192.8 247.7H199.4V254.4H192.8ZM308.9 247.7H321.9V254.4H308.9ZM412.1 247.7H438.0V254.4H412.1ZM450.7 247.7H463.8V254.4H450.7ZM470.1 247.7H476.7V254.4H470.1ZM1185.9 247.7H1192.5V254.4H1185.9ZM186.4 254.1H205.9V260.8H186.4ZM308.9 254.1H321.9V260.8H308.9ZM476.5 254.1H483.1V260.8H476.5ZM186.4 260.5H205.9V267.3H186.4ZM315.3 260.5H321.9V267.3H315.3ZM186.4 267.0H205.9V273.7H186.4ZM483.0 267.0H489.6V273.7H483.0ZM863.4 267.0H870.0V273.7H863.4ZM1134.3 267.0H1140.9V273.7H1134.3ZM186.4 273.4H205.9V280.2H186.4ZM850.5 273.4H857.1V280.2H850.5ZM882.8 273.4H889.4V280.2H882.8ZM186.4 279.9H205.9V286.6H186.4ZM831.2 279.9H850.7V286.6H831.2ZM895.7 279.9H902.3V286.6H895.7ZM186.4 286.3H205.9V293.1H186.4ZM818.3 286.3H831.3V293.1H818.3ZM186.4 292.8H205.9V299.5H186.4ZM405.6 292.8H412.2V299.5H405.6ZM760.3 292.8H779.8V299.5H760.3ZM805.4 292.8H812.0V299.5H805.4ZM1127.8 292.8H1134.4V299.5H1127.8ZM399.2 299.2H418.7V306.0H399.2ZM483.0 299.2H489.6V306.0H483.0ZM747.4 299.2H754.0V306.0H747.4ZM792.5 299.2H799.1V306.0H792.5ZM399.2 305.7H418.7V312.4H399.2ZM483.0 305.7H489.6V312.4H483.0ZM1282.6 305.7H1289.2V312.4H1282.6ZM366.9 312.1H418.7V318.9H366.9ZM476.5 312.1H489.6V318.9H476.5ZM618.4 312.1H631.4V318.9H618.4ZM734.5 312.1H741.1V318.9H734.5ZM366.9 318.6H418.7V325.3H366.9ZM463.6 318.6H521.8V325.3H463.6ZM612.0 318.6H618.6V325.3H612.0ZM631.3 318.6H657.2V325.3H631.3ZM715.1 318.6H728.2V325.3H715.1ZM947.3 318.6H953.9V325.3H947.3ZM1140.7 318.6H1147.3V325.3H1140.7ZM1256.8 318.6H1263.4V325.3H1256.8ZM360.5 325.0H373.5V331.8H360.5ZM405.6 325.0H418.7V331.8H405.6ZM541.0 325.0H567.0V331.8H541.0ZM612.0 325.0H618.6V331.8H612.0ZM644.2 325.0H708.8V331.8H644.2ZM1243.9 325.0H1250.5V331.8H1243.9ZM360.5 331.5H373.5V338.2H360.5ZM405.6 331.5H418.7V338.2H405.6ZM553.9 331.5H567.0V338.2H553.9ZM650.6 331.5H702.4V338.2H650.6ZM1224.5 331.5H1237.6V338.2H1224.5ZM366.9 337.9H373.5V344.7H366.9ZM405.6 337.9H418.7V344.7H405.6ZM553.9 337.9H567.0V344.7H553.9ZM657.1 337.9H702.4V344.7H657.1ZM973.1 337.9H979.7V344.7H973.1ZM1153.6 337.9H1160.2V344.7H1153.6ZM1218.1 337.9H1224.7V344.7H1218.1ZM366.9 344.4H380.0V351.1H366.9ZM405.6 344.4H418.7V351.1H405.6ZM547.5 344.4H560.5V351.1H547.5ZM657.1 344.4H695.9V351.1H657.1ZM1153.6 344.4H1160.2V351.1H1153.6ZM1211.7 344.4H1218.2V351.1H1211.7ZM373.4 350.8H386.4V357.6H373.4ZM405.6 350.8H418.7V357.6H405.6ZM541.0 350.8H554.1V357.6H541.0ZM670.0 350.8H689.5V357.6H670.0ZM986.0 350.8H992.6V357.6H986.0ZM1160.1 350.8H1166.7V357.6H1160.1ZM386.3 357.3H412.2V364.0H386.3ZM541.0 357.3H547.6V364.0H541.0ZM676.4 357.3H683.0V364.0H676.4ZM1160.1 357.3H1205.4V364.0H1160.1ZM605.5 363.7H612.1V370.5H605.5ZM992.4 363.7H999.0V370.5H992.4ZM1179.4 363.7H1186.0V370.5H1179.4ZM444.3 383.1H457.3V389.8H444.3ZM1005.3 383.1H1011.9V389.8H1005.3ZM463.6 389.5H470.2V396.3H463.6ZM463.6 396.0H470.2V402.7H463.6ZM444.3 415.3H450.9V422.1H444.3ZM947.3 434.7H973.2V441.4H947.3ZM1031.1 441.1H1037.7V447.8H1031.1ZM173.5 454.0H180.1V460.7H173.5ZM1037.5 454.0H1044.1V460.7H1037.5ZM167.0 460.4H186.5V467.2H167.0ZM1121.4 460.4H1134.4V467.2H1121.4ZM1198.8 460.4H1205.4V467.2H1198.8ZM154.1 466.9H193.0V473.6H154.1ZM1069.8 466.9H1076.4V473.6H1069.8ZM1114.9 466.9H1121.5V473.6H1114.9ZM1140.7 466.9H1147.3V473.6H1140.7ZM154.1 473.3H199.4V480.1H154.1ZM1095.6 473.3H1115.1V480.1H1095.6ZM1147.2 473.3H1153.8V480.1H1147.2ZM1295.5 473.3H1308.5V480.1H1295.5ZM154.1 479.8H180.1V486.5H154.1ZM1153.6 479.8H1160.2V486.5H1153.6ZM1282.6 479.8H1289.2V486.5H1282.6ZM1276.1 486.2H1282.7V493.0H1276.1ZM1160.1 492.7H1166.7V499.4H1160.1ZM1205.2 492.7H1218.2V499.4H1205.2ZM1269.7 492.7H1276.3V499.4H1269.7ZM1160.1 499.1H1166.7V505.9H1160.1ZM1198.8 499.1H1224.7V505.9H1198.8ZM1263.2 499.1H1269.8V505.9H1263.2ZM1160.1 505.6H1166.7V512.3H1160.1ZM1198.8 505.6H1224.7V512.3H1198.8ZM1263.2 505.6H1269.8V512.3H1263.2ZM1140.7 512.0H1263.4V518.8H1140.7ZM1134.3 518.5H1263.4V525.2H1134.3ZM1121.4 524.9H1211.8V531.7H1121.4ZM1231.0 524.9H1263.4V531.7H1231.0ZM1140.7 531.4H1211.8V538.1H1140.7ZM1231.0 531.4H1263.4V538.1H1231.0ZM1108.5 537.8H1115.1V544.6H1108.5ZM1147.2 537.8H1211.8V544.6H1147.2ZM1231.0 537.8H1263.4V544.6H1231.0Z"/>
<path fill="#6aff8d" d="M508.8 60.7H515.4V67.4H508.8ZM508.8 67.1H515.4V73.8H508.8ZM508.8 73.5H521.8V80.3H508.8ZM721.6 73.5H728.2V80.3H721.6ZM515.2 80.0H534.7V86.7H515.2ZM528.1 86.4H541.2V93.2H528.1ZM715.1 86.4H721.7V93.2H715.1ZM553.9 92.9H560.5V99.6H553.9ZM702.2 92.9H708.8V99.6H702.2ZM1211.7 92.9H1218.2V99.6H1211.7ZM560.4 105.8H567.0V112.5H560.4ZM573.3 112.2H579.9V119.0H573.3ZM579.7 125.1H586.3V131.9H579.7ZM695.8 125.1H702.4V131.9H695.8ZM592.6 131.6H599.2V138.3H592.6ZM682.9 131.6H689.5V138.3H682.9ZM1192.3 131.6H1198.9V138.3H1192.3ZM599.1 138.0H631.4V144.8H599.1ZM624.9 144.5H631.4V151.2H624.9ZM869.9 144.5H876.5V151.2H869.9ZM631.3 150.9H644.3V157.7H631.3ZM663.5 150.9H670.1V157.7H663.5ZM876.3 150.9H882.9V157.7H876.3ZM637.7 157.4H663.7V164.1H637.7ZM882.8 157.4H889.4V164.1H882.8ZM1024.6 157.4H1031.2V164.1H1024.6ZM1166.5 157.4H1173.1V164.1H1166.5ZM895.7 163.8H902.3V170.6H895.7ZM1153.6 170.3H1160.2V177.0H1153.6ZM863.4 176.7H870.0V183.5H863.4ZM973.1 176.7H992.6V183.5H973.1ZM199.3 189.6H205.9V196.4H199.3ZM818.3 189.6H824.9V196.4H818.3ZM238.0 196.1H244.6V202.8H238.0ZM425.0 196.1H450.9V202.8H425.0ZM786.1 196.1H799.1V202.8H786.1ZM1121.4 196.1H1128.0V202.8H1121.4ZM412.1 202.5H418.7V209.3H412.1ZM457.2 202.5H463.8V209.3H457.2ZM760.3 202.5H773.3V209.3H760.3ZM399.2 209.0H412.2V215.7H399.2ZM521.7 209.0H528.3V215.7H521.7ZM747.4 209.0H754.0V215.7H747.4ZM1211.7 209.0H1218.2V215.7H1211.7ZM399.2 215.4H405.8V222.2H399.2ZM553.9 215.4H605.7V222.2H553.9ZM715.1 215.4H734.6V222.2H715.1ZM1069.8 215.4H1102.2V222.2H1069.8ZM1205.2 215.4H1211.8V222.2H1205.2ZM244.4 228.3H251.0V235.1H244.4ZM179.9 234.8H186.5V241.5H179.9ZM231.5 234.8H244.6V241.5H231.5ZM179.9 247.7H193.0V254.4H179.9ZM199.3 247.7H205.9V254.4H199.3ZM405.6 247.7H412.2V254.4H405.6ZM463.6 247.7H470.2V254.4H463.6ZM179.9 254.1H186.5V260.8H179.9ZM205.7 254.1H212.3V260.8H205.7ZM412.1 254.1H457.3V260.8H412.1ZM470.1 254.1H476.7V260.8H470.1ZM179.9 260.5H186.5V267.3H179.9ZM205.7 260.5H212.3V267.3H205.7ZM476.5 260.5H483.1V267.3H476.5ZM179.9 267.0H186.5V273.7H179.9ZM205.7 267.0H212.3V273.7H205.7ZM179.9 273.4H186.5V280.2H179.9ZM205.7 273.4H212.3V280.2H205.7ZM483.0 273.4H489.6V280.2H483.0ZM179.9 279.9H186.5V286.6H179.9ZM205.7 279.9H212.3V286.6H205.7ZM1127.8 279.9H1134.4V286.6H1127.8ZM179.9 286.3H186.5V293.1H179.9ZM205.7 286.3H212.3V293.1H205.7ZM405.6 286.3H418.7V293.1H405.6ZM483.0 286.3H489.6V293.1H483.0ZM831.2 286.3H837.8V293.1H831.2ZM908.6 286.3H915.2V293.1H908.6ZM1127.8 286.3H1134.4V293.1H1127.8ZM179.9 292.8H186.5V299.5H179.9ZM205.7 292.8H212.3V299.5H205.7ZM399.2 292.8H405.8V299.5H399.2ZM412.1 292.8H425.1V299.5H412.1ZM483.0 292.8H489.6V299.5H483.0ZM811.9 292.8H824.9V299.5H811.9ZM186.4 299.2H205.9V306.0H186.4ZM392.7 299.2H399.3V306.0H392.7ZM418.5 299.2H425.1V306.0H418.5ZM779.6 299.2H792.7V306.0H779.6ZM799.0 299.2H812.0V306.0H799.0ZM366.9 305.7H399.3V312.4H366.9ZM418.5 305.7H425.1V312.4H418.5ZM476.5 305.7H483.1V312.4H476.5ZM740.9 305.7H747.5V312.4H740.9ZM934.4 305.7H941.0V312.4H934.4ZM418.5 312.1H425.1V318.9H418.5ZM470.1 312.1H476.7V318.9H470.1ZM940.8 312.1H947.4V318.9H940.8ZM1134.3 312.1H1140.9V318.9H1134.3ZM354.0 318.6H367.1V325.3H354.0ZM418.5 318.6H425.1V325.3H418.5ZM624.9 318.6H631.4V325.3H624.9ZM728.0 318.6H734.6V325.3H728.0ZM354.0 325.0H360.6V331.8H354.0ZM418.5 325.0H425.1V331.8H418.5ZM457.2 325.0H541.2V331.8H457.2ZM631.3 325.0H644.3V331.8H631.3ZM708.7 325.0H721.7V331.8H708.7ZM354.0 331.5H360.6V338.2H354.0ZM418.5 331.5H425.1V338.2H418.5ZM463.6 331.5H470.2V338.2H463.6ZM541.0 331.5H554.1V338.2H541.0ZM612.0 331.5H618.6V338.2H612.0ZM637.7 331.5H650.8V338.2H637.7ZM702.2 331.5H708.8V338.2H702.2ZM1147.2 331.5H1153.8V338.2H1147.2ZM354.0 337.9H367.1V344.7H354.0ZM418.5 337.9H425.1V344.7H418.5ZM547.5 337.9H554.1V344.7H547.5ZM612.0 337.9H618.6V344.7H612.0ZM644.2 337.9H657.2V344.7H644.2ZM702.2 337.9H708.8V344.7H702.2ZM418.5 344.4H425.1V351.1H418.5ZM541.0 344.4H547.6V351.1H541.0ZM612.0 344.4H618.6V351.1H612.0ZM695.8 344.4H702.4V351.1H695.8ZM979.5 344.4H986.1V351.1H979.5ZM366.9 350.8H373.5V357.6H366.9ZM418.5 350.8H425.1V357.6H418.5ZM534.6 350.8H541.2V357.6H534.6ZM657.1 350.8H670.1V357.6H657.1ZM689.3 350.8H702.4V357.6H689.3ZM1166.5 350.8H1192.5V357.6H1166.5ZM1205.2 350.8H1211.8V357.6H1205.2ZM373.4 357.3H386.4V364.0H373.4ZM412.1 357.3H425.1V364.0H412.1ZM528.1 357.3H541.2V364.0H528.1ZM670.0 357.3H676.6V364.0H670.0ZM682.9 357.3H695.9V364.0H682.9ZM566.8 370.2H573.4V376.9H566.8ZM586.2 370.2H592.8V376.9H586.2ZM437.9 383.1H444.4V389.8H437.9ZM457.2 383.1H470.2V389.8H457.2ZM437.9 389.5H444.4V396.3H437.9ZM457.2 402.4H463.8V409.2H457.2ZM450.7 408.9H457.3V415.6H450.7ZM283.1 415.3H309.0V422.1H283.1ZM1005.3 415.3H1011.9V422.1H1005.3ZM276.6 421.8H321.9V428.5H276.6ZM276.6 428.2H328.4V435.0H276.6ZM947.3 428.2H960.3V435.0H947.3ZM276.6 434.7H328.4V441.4H276.6ZM940.8 434.7H947.4V441.4H940.8ZM973.1 434.7H979.7V441.4H973.1ZM947.3 441.1H979.7V447.8H947.3ZM947.3 447.6H953.9V454.3H947.3ZM167.0 454.0H173.6V460.7H167.0ZM179.9 454.0H186.5V460.7H179.9ZM154.1 460.4H167.2V467.2H154.1ZM186.4 460.4H199.4V467.2H186.4ZM192.8 466.9H205.9V473.6H192.8ZM1056.9 466.9H1069.9V473.6H1056.9ZM1121.4 466.9H1140.9V473.6H1121.4ZM199.3 473.3H205.9V480.1H199.3ZM1089.1 473.3H1095.7V480.1H1089.1ZM1114.9 473.3H1121.5V480.1H1114.9ZM179.9 479.8H186.5V486.5H179.9ZM1102.0 479.8H1108.6V486.5H1102.0ZM1289.0 479.8H1308.5V486.5H1289.0ZM154.1 486.2H180.1V493.0H154.1ZM1153.6 486.2H1160.2V493.0H1153.6ZM1282.6 486.2H1289.2V493.0H1282.6ZM1153.6 499.1H1160.2V505.9H1153.6ZM1269.7 499.1H1276.3V505.9H1269.7ZM1147.2 505.6H1160.2V512.3H1147.2ZM1134.3 512.0H1140.9V518.8H1134.3ZM1263.2 512.0H1269.8V518.8H1263.2ZM1127.8 518.5H1134.4V525.2H1127.8ZM1263.2 518.5H1269.8V525.2H1263.2ZM1114.9 524.9H1121.5V531.7H1114.9ZM1211.7 524.9H1231.1V531.7H1211.7ZM1263.2 524.9H1269.8V531.7H1263.2ZM1108.5 531.4H1115.1V538.1H1108.5ZM1211.7 531.4H1218.2V538.1H1211.7ZM1224.5 531.4H1231.1V538.1H1224.5ZM1263.2 531.4H1269.8V538.1H1263.2ZM1211.7 537.8H1218.2V544.6H1211.7ZM1224.5 537.8H1231.1V544.6H1224.5ZM1263.2 537.8H1269.8V544.6H1263.2Z"/>
<path fill="#7bff7b" d="M212.2 60.7H315.5V67.4H212.2ZM502.3 60.7H508.9V67.4H502.3ZM1231.0 60.7H1237.6V67.4H1231.0ZM212.2 67.1H315.5V73.8H212.2ZM502.3 67.1H508.9V73.8H502.3ZM1231.0 67.1H1237.6V73.8H1231.0ZM212.2 73.5H309.0V80.3H212.2ZM502.3 73.5H508.9V80.3H502.3ZM212.2 80.0H296.1V86.7H212.2ZM502.3 80.0H515.4V86.7H502.3ZM212.2 86.4H296.1V93.2H212.2ZM502.3 86.4H528.3V93.2H502.3ZM212.2 92.9H296.1V99.6H212.2ZM502.3 92.9H528.3V99.6H502.3ZM212.2 99.3H296.1V106.1H212.2ZM502.3 99.3H528.3V106.1H502.3ZM1198.8 99.3H1205.4V106.1H1198.8ZM212.2 105.8H296.1V112.5H212.2ZM502.3 105.8H528.3V112.5H502.3ZM1192.3 105.8H1198.9V112.5H1192.3ZM212.2 112.2H283.2V119.0H212.2ZM502.3 112.2H528.3V119.0H502.3ZM1192.3 112.2H1198.9V119.0H1192.3ZM212.2 118.7H276.8V125.4H212.2ZM502.3 118.7H528.3V125.4H502.3ZM1192.3 118.7H1198.9V125.4H1192.3ZM212.2 125.1H276.8V131.9H212.2ZM502.3 125.1H528.3V131.9H502.3ZM1192.3 125.1H1198.9V131.9H1192.3ZM212.2 131.6H276.8V138.3H212.2ZM502.3 131.6H528.3V138.3H502.3ZM586.2 131.6H592.8V138.3H586.2ZM644.2 131.6H650.8V138.3H644.2ZM212.2 138.0H276.8V144.8H212.2ZM502.3 138.0H528.3V144.8H502.3ZM1179.4 138.0H1186.0V144.8H1179.4ZM212.2 144.5H276.8V151.2H212.2ZM502.3 144.5H528.3V151.2H502.3ZM599.1 144.5H612.1V151.2H599.1ZM618.4 144.5H625.0V151.2H618.4ZM1173.0 144.5H1179.6V151.2H1173.0ZM212.2 150.9H263.9V157.7H212.2ZM502.3 150.9H528.3V157.7H502.3ZM624.9 150.9H631.4V157.7H624.9ZM670.0 150.9H683.0V157.7H670.0ZM212.2 157.4H257.4V164.1H212.2ZM502.3 157.4H528.3V164.1H502.3ZM631.3 157.4H637.9V164.1H631.3ZM663.5 157.4H670.1V164.1H663.5ZM889.2 157.4H895.8V164.1H889.2ZM1160.1 157.4H1166.7V164.1H1160.1ZM154.1 163.8H160.7V170.6H154.1ZM212.2 163.8H257.4V170.6H212.2ZM502.3 163.8H528.3V170.6H502.3ZM637.7 163.8H663.7V170.6H637.7ZM1153.6 163.8H1160.2V170.6H1153.6ZM154.1 170.3H160.7V177.0H154.1ZM212.2 170.3H257.4V177.0H212.2ZM502.3 170.3H528.3V177.0H502.3ZM1011.8 170.3H1018.4V177.0H1011.8ZM154.1 176.7H167.2V183.5H154.1ZM231.5 176.7H257.4V183.5H231.5ZM502.3 176.7H508.9V183.5H502.3ZM515.2 176.7H528.3V183.5H515.2ZM857.0 176.7H863.6V183.5H857.0ZM1140.7 176.7H1147.3V183.5H1140.7ZM154.1 183.2H180.1V189.9H154.1ZM238.0 183.2H257.4V189.9H238.0ZM1134.3 183.2H1140.9V189.9H1134.3ZM167.0 189.6H186.5V196.4H167.0ZM231.5 189.6H238.1V196.4H231.5ZM244.4 189.6H257.4V196.4H244.4ZM502.3 189.6H515.4V196.4H502.3ZM779.6 189.6H786.2V196.4H779.6ZM250.8 196.1H257.4V202.8H250.8ZM412.1 196.1H425.1V202.8H412.1ZM450.7 196.1H457.3V202.8H450.7ZM495.9 196.1H508.9V202.8H495.9ZM766.7 196.1H773.3V202.8H766.7ZM244.4 202.5H251.0V209.3H244.4ZM392.7 202.5H412.2V209.3H392.7ZM463.6 202.5H515.4V209.3H463.6ZM753.8 202.5H760.4V209.3H753.8ZM173.5 209.0H180.1V215.7H173.5ZM250.8 209.0H257.4V215.7H250.8ZM386.3 209.0H399.3V215.7H386.3ZM528.1 209.0H534.7V215.7H528.1ZM740.9 209.0H747.5V215.7H740.9ZM1108.5 209.0H1115.1V215.7H1108.5ZM167.0 215.4H173.6V222.2H167.0ZM250.8 215.4H257.4V222.2H250.8ZM386.3 215.4H399.3V222.2H386.3ZM605.5 215.4H612.1V222.2H605.5ZM695.8 215.4H715.3V222.2H695.8ZM167.0 221.9H173.6V228.6H167.0ZM250.8 221.9H257.4V228.6H250.8ZM328.2 221.9H334.8V228.6H328.2ZM366.9 221.9H392.9V228.6H366.9ZM250.8 228.3H257.4V235.1H250.8ZM366.9 228.3H373.5V235.1H366.9ZM315.3 234.8H321.9V241.5H315.3ZM334.7 234.8H341.3V241.5H334.7ZM366.9 234.8H373.5V241.5H366.9ZM173.5 247.7H180.1V254.4H173.5ZM205.7 247.7H212.3V254.4H205.7ZM231.5 247.7H257.4V254.4H231.5ZM296.0 247.7H309.0V254.4H296.0ZM379.8 247.7H386.4V254.4H379.8ZM1192.3 247.7H1198.9V254.4H1192.3ZM173.5 254.1H180.1V260.8H173.5ZM212.2 254.1H257.4V260.8H212.2ZM405.6 254.1H412.2V260.8H405.6ZM457.2 254.1H463.8V260.8H457.2ZM1185.9 254.1H1192.5V260.8H1185.9ZM173.5 260.5H180.1V267.3H173.5ZM212.2 260.5H257.4V267.3H212.2ZM308.9 260.5H315.5V267.3H308.9ZM321.8 260.5H328.4V267.3H321.8ZM405.6 260.5H450.9V267.3H405.6ZM173.5 267.0H180.1V273.7H173.5ZM212.2 267.0H257.4V273.7H212.2ZM405.6 267.0H438.0V273.7H405.6ZM173.5 273.4H180.1V280.2H173.5ZM212.2 273.4H257.4V280.2H212.2ZM405.6 273.4H431.6V280.2H405.6ZM876.3 273.4H882.9V280.2H876.3ZM173.5 279.9H180.1V286.6H173.5ZM212.2 279.9H244.6V286.6H212.2ZM405.6 279.9H431.6V286.6H405.6ZM483.0 279.9H489.6V286.6H483.0ZM889.2 279.9H895.8V286.6H889.2ZM173.5 286.3H180.1V293.1H173.5ZM212.2 286.3H238.1V293.1H212.2ZM399.2 286.3H405.8V293.1H399.2ZM418.5 286.3H431.6V293.1H418.5ZM837.6 286.3H844.2V293.1H837.6ZM173.5 292.8H180.1V299.5H173.5ZM212.2 292.8H238.1V299.5H212.2ZM392.7 292.8H399.3V299.5H392.7ZM425.0 292.8H431.6V299.5H425.0ZM824.8 292.8H831.3V299.5H824.8ZM915.0 292.8H921.6V299.5H915.0ZM179.9 299.2H186.5V306.0H179.9ZM205.7 299.2H212.3V306.0H205.7ZM386.3 299.2H392.9V306.0H386.3ZM425.0 299.2H431.6V306.0H425.0ZM476.5 299.2H483.1V306.0H476.5ZM753.8 299.2H779.8V306.0H753.8ZM811.9 299.2H818.5V306.0H811.9ZM1301.9 299.2H1308.5V306.0H1301.9ZM360.5 305.7H367.1V312.4H360.5ZM425.0 305.7H431.6V312.4H425.0ZM470.1 305.7H476.7V312.4H470.1ZM811.9 305.7H818.5V312.4H811.9ZM1276.1 305.7H1282.7V312.4H1276.1ZM354.0 312.1H367.1V318.9H354.0ZM425.0 312.1H431.6V318.9H425.0ZM463.6 312.1H470.2V318.9H463.6ZM811.9 312.1H824.9V318.9H811.9ZM1269.7 312.1H1276.3V318.9H1269.7ZM347.6 318.6H354.2V325.3H347.6ZM425.0 318.6H431.6V325.3H425.0ZM457.2 318.6H463.8V325.3H457.2ZM618.4 318.6H625.0V325.3H618.4ZM734.5 318.6H741.1V325.3H734.5ZM811.9 318.6H870.0V325.3H811.9ZM1250.3 318.6H1256.9V325.3H1250.3ZM341.1 325.0H354.2V331.8H341.1ZM425.0 325.0H431.6V331.8H425.0ZM618.4 325.0H631.4V331.8H618.4ZM721.6 325.0H728.2V331.8H721.6ZM844.1 325.0H876.5V331.8H844.1ZM1147.2 325.0H1153.8V331.8H1147.2ZM1231.0 325.0H1244.0V331.8H1231.0ZM347.6 331.5H354.2V338.2H347.6ZM425.0 331.5H438.0V338.2H425.0ZM450.7 331.5H463.8V338.2H450.7ZM470.1 331.5H483.1V338.2H470.1ZM528.1 331.5H541.2V338.2H528.1ZM631.3 331.5H637.9V338.2H631.3ZM708.7 331.5H715.3V338.2H708.7ZM850.5 331.5H876.5V338.2H850.5ZM1218.1 331.5H1224.7V338.2H1218.1ZM347.6 337.9H354.2V344.7H347.6ZM425.0 337.9H438.0V344.7H425.0ZM444.3 337.9H470.2V344.7H444.3ZM541.0 337.9H547.6V344.7H541.0ZM637.7 337.9H644.3V344.7H637.7ZM850.5 337.9H876.5V344.7H850.5ZM1160.1 337.9H1166.7V344.7H1160.1ZM1211.7 337.9H1218.2V344.7H1211.7ZM347.6 344.4H354.2V351.1H347.6ZM360.5 344.4H367.1V351.1H360.5ZM425.0 344.4H470.2V351.1H425.0ZM534.6 344.4H541.2V351.1H534.6ZM650.6 344.4H657.2V351.1H650.6ZM702.2 344.4H708.8V351.1H702.2ZM850.5 344.4H857.1V351.1H850.5ZM1160.1 344.4H1173.1V351.1H1160.1ZM425.0 350.8H483.1V357.6H425.0ZM528.1 350.8H534.7V357.6H528.1ZM844.1 350.8H857.1V357.6H844.1ZM1192.3 350.8H1205.4V357.6H1192.3ZM360.5 357.3H373.5V364.0H360.5ZM425.0 357.3H489.6V364.0H425.0ZM521.7 357.3H528.3V364.0H521.7ZM657.1 357.3H670.1V364.0H657.1ZM695.8 357.3H702.4V364.0H695.8ZM831.2 357.3H857.1V364.0H831.2ZM986.0 357.3H992.6V364.0H986.0ZM399.2 363.7H476.7V370.5H399.2ZM547.5 363.7H554.1V370.5H547.5ZM425.0 370.2H470.2V376.9H425.0ZM992.4 370.2H999.0V376.9H992.4ZM425.0 376.6H470.2V383.4H425.0ZM579.7 376.6H586.3V383.4H579.7ZM470.1 383.1H476.7V389.8H470.1ZM470.1 389.5H476.7V396.3H470.1ZM1011.8 389.5H1018.4V396.3H1011.8ZM431.4 396.0H438.0V402.7H431.4ZM470.1 396.0H476.7V402.7H470.1ZM463.6 402.4H470.2V409.2H463.6ZM289.5 408.9H302.6V415.6H289.5ZM270.2 415.3H283.2V422.1H270.2ZM308.9 415.3H315.5V422.1H308.9ZM521.7 415.3H547.6V422.1H521.7ZM940.8 415.3H953.9V422.1H940.8ZM270.2 421.8H276.8V428.5H270.2ZM321.8 421.8H328.4V428.5H321.8ZM934.4 421.8H960.3V428.5H934.4ZM1011.8 421.8H1018.4V428.5H1011.8ZM270.2 428.2H276.8V435.0H270.2ZM328.2 428.2H334.8V435.0H328.2ZM921.5 428.2H947.4V435.0H921.5ZM960.2 428.2H973.2V435.0H960.2ZM263.7 434.7H276.8V441.4H263.7ZM328.2 434.7H334.8V441.4H328.2ZM502.3 434.7H508.9V441.4H502.3ZM915.0 434.7H941.0V441.4H915.0ZM979.5 434.7H986.1V441.4H979.5ZM270.2 441.1H334.8V447.8H270.2ZM915.0 441.1H947.4V447.8H915.0ZM979.5 441.1H992.6V447.8H979.5ZM934.4 447.6H947.4V454.3H934.4ZM953.7 447.6H966.8V454.3H953.7ZM973.1 447.6H992.6V454.3H973.1ZM154.1 454.0H167.2V460.7H154.1ZM186.4 454.0H218.8V460.7H186.4ZM328.2 454.0H334.8V460.7H328.2ZM947.3 454.0H953.9V460.7H947.3ZM986.0 454.0H992.6V460.7H986.0ZM199.3 460.4H212.3V467.2H199.3ZM328.2 460.4H334.8V467.2H328.2ZM947.3 460.4H953.9V467.2H947.3ZM1037.5 460.4H1044.1V467.2H1037.5ZM205.7 466.9H212.3V473.6H205.7ZM321.8 466.9H334.8V473.6H321.8ZM947.3 466.9H953.9V473.6H947.3ZM1050.4 466.9H1057.0V473.6H1050.4ZM315.3 473.3H334.8V480.1H315.3ZM947.3 473.3H953.9V480.1H947.3ZM1076.2 473.3H1089.3V480.1H1076.2ZM1121.4 473.3H1147.3V480.1H1121.4ZM186.4 479.8H199.4V486.5H186.4ZM1089.1 479.8H1102.2V486.5H1089.1ZM1108.5 479.8H1121.5V486.5H1108.5ZM1147.2 479.8H1153.8V486.5H1147.2ZM179.9 486.2H186.5V493.0H179.9ZM1289.0 486.2H1295.6V493.0H1289.0ZM154.1 492.7H180.1V499.4H154.1ZM1153.6 492.7H1160.2V499.4H1153.6ZM1276.1 492.7H1282.7V499.4H1276.1ZM1140.7 505.6H1147.3V512.3H1140.7ZM1269.7 505.6H1276.3V512.3H1269.7ZM1121.4 518.5H1128.0V525.2H1121.4ZM1108.5 524.9H1115.1V531.7H1108.5ZM1102.0 531.4H1108.6V538.1H1102.0ZM1218.1 531.4H1224.7V538.1H1218.1ZM1102.0 537.8H1108.6V544.6H1102.0ZM1218.1 537.8H1224.7V544.6H1218.1Z"/>
<path fill="#8dff6a" d="M205.7 60.7H212.3V67.4H205.7ZM495.9 60.7H502.5V67.4H495.9ZM205.7 67.1H212.3V73.8H205.7ZM495.9 67.1H502.5V73.8H495.9ZM205.7 73.5H212.3V80.3H205.7ZM308.9 73.5H315.5V80.3H308.9ZM495.9 73.5H502.5V80.3H495.9ZM728.0 73.5H734.6V80.3H728.0ZM205.7 80.0H212.3V86.7H205.7ZM296.0 80.0H309.0V86.7H296.0ZM495.9 80.0H502.5V86.7H495.9ZM721.6 80.0H728.2V86.7H721.6ZM1218.1 80.0H1224.7V86.7H1218.1ZM205.7 86.4H212.3V93.2H205.7ZM296.0 86.4H302.6V93.2H296.0ZM495.9 86.4H502.5V93.2H495.9ZM1211.7 86.4H1218.2V93.2H1211.7ZM205.7 92.9H212.3V99.6H205.7ZM296.0 92.9H302.6V99.6H296.0ZM495.9 92.9H502.5V99.6H495.9ZM528.1 92.9H534.7V99.6H528.1ZM708.7 92.9H715.3V99.6H708.7ZM1205.2 92.9H1211.8V99.6H1205.2ZM205.7 99.3H212.3V106.1H205.7ZM296.0 99.3H302.6V106.1H296.0ZM495.9 99.3H502.5V106.1H495.9ZM553.9 99.3H560.5V106.1H553.9ZM702.2 99.3H708.8V106.1H702.2ZM205.7 105.8H212.3V112.5H205.7ZM296.0 105.8H302.6V112.5H296.0ZM495.9 105.8H502.5V112.5H495.9ZM205.7 112.2H212.3V119.0H205.7ZM283.1 112.2H302.6V119.0H283.1ZM495.9 112.2H502.5V119.0H495.9ZM566.8 112.2H573.4V119.0H566.8ZM205.7 118.7H212.3V125.4H205.7ZM276.6 118.7H289.7V125.4H276.6ZM495.9 118.7H502.5V125.4H495.9ZM573.3 118.7H579.9V125.4H573.3ZM205.7 125.1H212.3V131.9H205.7ZM276.6 125.1H283.2V131.9H276.6ZM495.9 125.1H502.5V131.9H495.9ZM205.7 131.6H212.3V138.3H205.7ZM276.6 131.6H283.2V138.3H276.6ZM495.9 131.6H502.5V138.3H495.9ZM689.3 131.6H695.9V138.3H689.3ZM205.7 138.0H212.3V144.8H205.7ZM276.6 138.0H283.2V144.8H276.6ZM495.9 138.0H502.5V144.8H495.9ZM592.6 138.0H599.2V144.8H592.6ZM682.9 138.0H689.5V144.8H682.9ZM205.7 144.5H212.3V151.2H205.7ZM276.6 144.5H283.2V151.2H276.6ZM495.9 144.5H502.5V151.2H495.9ZM876.3 144.5H882.9V151.2H876.3ZM205.7 150.9H212.3V157.7H205.7ZM263.7 150.9H283.2V157.7H263.7ZM495.9 150.9H502.5V157.7H495.9ZM618.4 150.9H625.0V157.7H618.4ZM882.8 150.9H889.4V157.7H882.8ZM154.1 157.4H167.2V164.1H154.1ZM205.7 157.4H212.3V164.1H205.7ZM257.3 157.4H270.3V164.1H257.3ZM495.9 157.4H502.5V164.1H495.9ZM624.9 157.4H631.4V164.1H624.9ZM670.0 157.4H676.6V164.1H670.0ZM160.6 163.8H167.2V170.6H160.6ZM205.7 163.8H212.3V170.6H205.7ZM257.3 163.8H263.9V170.6H257.3ZM495.9 163.8H502.5V170.6H495.9ZM631.3 163.8H637.9V170.6H631.3ZM160.6 170.3H173.6V177.0H160.6ZM205.7 170.3H212.3V177.0H205.7ZM257.3 170.3H263.9V177.0H257.3ZM495.9 170.3H502.5V177.0H495.9ZM637.7 170.3H657.2V177.0H637.7ZM863.4 170.3H870.0V177.0H863.4ZM167.0 176.7H186.5V183.5H167.0ZM218.6 176.7H231.7V183.5H218.6ZM257.3 176.7H263.9V183.5H257.3ZM495.9 176.7H502.5V183.5H495.9ZM508.8 176.7H515.4V183.5H508.8ZM179.9 183.2H186.5V189.9H179.9ZM205.7 183.2H225.2V189.9H205.7ZM257.3 183.2H263.9V189.9H257.3ZM154.1 189.6H167.2V196.4H154.1ZM192.8 189.6H199.4V196.4H192.8ZM238.0 189.6H244.6V196.4H238.0ZM257.3 189.6H263.9V196.4H257.3ZM412.1 189.6H450.9V196.4H412.1ZM515.2 189.6H521.8V196.4H515.2ZM811.9 189.6H818.5V196.4H811.9ZM1127.8 189.6H1134.4V196.4H1127.8ZM160.6 196.1H180.1V202.8H160.6ZM244.4 196.1H251.0V202.8H244.4ZM257.3 196.1H263.9V202.8H257.3ZM399.2 196.1H412.2V202.8H399.2ZM457.2 196.1H496.0V202.8H457.2ZM508.8 196.1H521.8V202.8H508.8ZM386.3 202.5H392.9V209.3H386.3ZM515.2 202.5H521.8V209.3H515.2ZM747.4 202.5H754.0V209.3H747.4ZM257.3 209.0H263.9V215.7H257.3ZM379.8 209.0H386.4V215.7H379.8ZM534.6 209.0H541.2V215.7H534.6ZM728.0 209.0H741.1V215.7H728.0ZM1044.0 209.0H1050.6V215.7H1044.0ZM257.3 215.4H263.9V222.2H257.3ZM379.8 215.4H386.4V222.2H379.8ZM612.0 215.4H618.6V222.2H612.0ZM257.3 221.9H263.9V228.6H257.3ZM360.5 228.3H367.1V235.1H360.5ZM173.5 234.8H180.1V241.5H173.5ZM244.4 234.8H251.0V241.5H244.4ZM360.5 234.8H367.1V241.5H360.5ZM179.9 241.2H186.5V248.0H179.9ZM212.2 241.2H225.2V248.0H212.2ZM250.8 241.2H263.9V248.0H250.8ZM212.2 247.7H231.7V254.4H212.2ZM257.3 247.7H263.9V254.4H257.3ZM399.2 247.7H405.8V254.4H399.2ZM257.3 254.1H263.9V260.8H257.3ZM463.6 254.1H470.2V260.8H463.6ZM257.3 260.5H263.9V267.3H257.3ZM450.7 260.5H457.3V267.3H450.7ZM470.1 260.5H476.7V267.3H470.1ZM257.3 267.0H263.9V273.7H257.3ZM437.9 267.0H457.3V273.7H437.9ZM476.5 267.0H483.1V273.7H476.5ZM1140.7 267.0H1186.0V273.7H1140.7ZM257.3 273.4H263.9V280.2H257.3ZM399.2 273.4H405.8V280.2H399.2ZM431.4 273.4H444.4V280.2H431.4ZM244.4 279.9H257.4V286.6H244.4ZM399.2 279.9H405.8V286.6H399.2ZM431.4 279.9H438.0V286.6H431.4ZM431.4 286.3H438.0V293.1H431.4ZM844.1 286.3H850.7V293.1H844.1ZM902.1 286.3H908.7V293.1H902.1ZM431.4 292.8H438.0V299.5H431.4ZM476.5 292.8H483.1V299.5H476.5ZM831.2 292.8H837.8V299.5H831.2ZM173.5 299.2H180.1V306.0H173.5ZM212.2 299.2H238.1V306.0H212.2ZM431.4 299.2H438.0V306.0H431.4ZM818.3 299.2H831.3V306.0H818.3ZM921.5 299.2H928.1V306.0H921.5ZM431.4 305.7H438.0V312.4H431.4ZM747.4 305.7H754.0V312.4H747.4ZM799.0 305.7H812.0V312.4H799.0ZM818.3 305.7H831.3V312.4H818.3ZM1134.3 305.7H1140.9V312.4H1134.3ZM431.4 312.1H438.0V318.9H431.4ZM740.9 312.1H747.5V318.9H740.9ZM824.8 312.1H844.2V318.9H824.8ZM431.4 318.6H438.0V325.3H431.4ZM869.9 318.6H876.5V325.3H869.9ZM431.4 325.0H438.0V331.8H431.4ZM450.7 325.0H457.3V331.8H450.7ZM728.0 325.0H734.6V331.8H728.0ZM811.9 325.0H844.2V331.8H811.9ZM483.0 331.5H528.3V338.2H483.0ZM618.4 331.5H631.4V338.2H618.4ZM715.1 331.5H728.2V338.2H715.1ZM837.6 331.5H850.7V338.2H837.6ZM1153.6 331.5H1160.2V338.2H1153.6ZM437.9 337.9H444.4V344.7H437.9ZM470.1 337.9H483.1V344.7H470.1ZM528.1 337.9H541.2V344.7H528.1ZM631.3 337.9H637.9V344.7H631.3ZM708.7 337.9H715.3V344.7H708.7ZM844.1 337.9H850.7V344.7H844.1ZM354.0 344.4H360.6V351.1H354.0ZM470.1 344.4H483.1V351.1H470.1ZM528.1 344.4H534.7V351.1H528.1ZM618.4 344.4H625.0V351.1H618.4ZM644.2 344.4H650.8V351.1H644.2ZM708.7 344.4H715.3V351.1H708.7ZM837.6 344.4H850.7V351.1H837.6ZM857.0 344.4H870.0V351.1H857.0ZM360.5 350.8H367.1V357.6H360.5ZM483.0 350.8H496.0V357.6H483.0ZM515.2 350.8H528.3V357.6H515.2ZM650.6 350.8H657.2V357.6H650.6ZM702.2 350.8H708.8V357.6H702.2ZM831.2 350.8H844.2V357.6H831.2ZM857.0 350.8H863.6V357.6H857.0ZM489.4 357.3H496.0V364.0H489.4ZM515.2 357.3H521.8V364.0H515.2ZM618.4 357.3H625.0V364.0H618.4ZM386.3 363.7H399.3V370.5H386.3ZM476.5 363.7H496.0V370.5H476.5ZM528.1 363.7H547.6V370.5H528.1ZM831.2 363.7H837.8V370.5H831.2ZM418.5 370.2H425.1V376.9H418.5ZM470.1 370.2H483.1V376.9H470.1ZM560.4 370.2H567.0V376.9H560.4ZM592.6 370.2H599.2V376.9H592.6ZM470.1 376.6H483.1V383.4H470.1ZM573.3 376.6H579.9V383.4H573.3ZM992.4 376.6H999.0V383.4H992.4ZM431.4 383.1H438.0V389.8H431.4ZM476.5 383.1H483.1V389.8H476.5ZM998.9 383.1H1005.5V389.8H998.9ZM476.5 389.5H483.1V396.3H476.5ZM476.5 396.0H483.1V402.7H476.5ZM927.9 402.4H941.0V409.2H927.9ZM1011.8 402.4H1018.4V409.2H1011.8ZM276.6 408.9H289.7V415.6H276.6ZM302.4 408.9H315.5V415.6H302.4ZM418.5 408.9H425.1V415.6H418.5ZM457.2 408.9H463.8V415.6H457.2ZM515.2 408.9H541.2V415.6H515.2ZM915.0 408.9H953.9V415.6H915.0ZM1005.3 408.9H1011.9V415.6H1005.3ZM263.7 415.3H270.3V422.1H263.7ZM315.3 415.3H321.9V422.1H315.3ZM450.7 415.3H457.3V422.1H450.7ZM515.2 415.3H521.8V422.1H515.2ZM908.6 415.3H941.0V422.1H908.6ZM953.7 415.3H960.3V422.1H953.7ZM257.3 421.8H270.3V428.5H257.3ZM328.2 421.8H334.8V428.5H328.2ZM437.9 421.8H444.4V428.5H437.9ZM508.8 421.8H541.2V428.5H508.8ZM902.1 421.8H934.5V428.5H902.1ZM960.2 421.8H966.8V428.5H960.2ZM250.8 428.2H270.3V435.0H250.8ZM334.7 428.2H341.3V435.0H334.7ZM502.3 428.2H521.8V435.0H502.3ZM895.7 428.2H921.6V435.0H895.7ZM1018.2 428.2H1024.8V435.0H1018.2ZM250.8 434.7H263.9V441.4H250.8ZM334.7 434.7H341.3V441.4H334.7ZM495.9 434.7H502.5V441.4H495.9ZM508.8 434.7H515.4V441.4H508.8ZM895.7 434.7H915.2V441.4H895.7ZM986.0 434.7H992.6V441.4H986.0ZM250.8 441.1H270.3V447.8H250.8ZM334.7 441.1H341.3V447.8H334.7ZM502.3 441.1H508.9V447.8H502.3ZM895.7 441.1H915.2V447.8H895.7ZM296.0 447.6H334.8V454.3H296.0ZM908.6 447.6H934.5V454.3H908.6ZM966.6 447.6H973.2V454.3H966.6ZM218.6 454.0H225.2V460.7H218.6ZM315.3 454.0H328.4V460.7H315.3ZM334.7 454.0H341.3V460.7H334.7ZM934.4 454.0H947.4V460.7H934.4ZM953.7 454.0H966.8V460.7H953.7ZM979.5 454.0H986.1V460.7H979.5ZM212.2 460.4H218.8V467.2H212.2ZM315.3 460.4H328.4V467.2H315.3ZM334.7 460.4H341.3V467.2H334.7ZM940.8 460.4H947.4V467.2H940.8ZM953.7 460.4H960.3V467.2H953.7ZM979.5 460.4H992.6V467.2H979.5ZM308.9 466.9H321.9V473.6H308.9ZM334.7 466.9H341.3V473.6H334.7ZM483.0 466.9H489.6V473.6H483.0ZM940.8 466.9H947.4V473.6H940.8ZM953.7 466.9H960.3V473.6H953.7ZM1044.0 466.9H1050.6V473.6H1044.0ZM205.7 473.3H212.3V480.1H205.7ZM302.4 473.3H315.5V480.1H302.4ZM334.7 473.3H341.3V480.1H334.7ZM483.0 473.3H489.6V480.1H483.0ZM940.8 473.3H947.4V480.1H940.8ZM953.7 473.3H960.3V480.1H953.7ZM1069.8 473.3H1076.4V480.1H1069.8ZM1082.7 479.8H1089.3V486.5H1082.7ZM1121.4 479.8H1140.9V486.5H1121.4ZM186.4 486.2H193.0V493.0H186.4ZM1089.1 486.2H1121.5V493.0H1089.1ZM1147.2 486.2H1153.8V493.0H1147.2ZM1295.5 486.2H1308.5V493.0H1295.5ZM1282.6 492.7H1289.2V499.4H1282.6ZM154.1 499.1H167.2V505.9H154.1ZM1147.2 499.1H1153.8V505.9H1147.2ZM1276.1 499.1H1282.7V505.9H1276.1ZM1134.3 505.6H1140.9V512.3H1134.3ZM1276.1 505.6H1282.7V512.3H1276.1ZM1127.8 512.0H1134.4V518.8H1127.8ZM1269.7 512.0H1276.3V518.8H1269.7ZM1114.9 518.5H1121.5V525.2H1114.9ZM1269.7 518.5H1276.3V525.2H1269.7ZM1102.0 524.9H1108.6V531.7H1102.0ZM1269.7 524.9H1276.3V531.7H1269.7ZM1095.6 531.4H1102.2V538.1H1095.6ZM1269.7 531.4H1276.3V538.1H1269.7ZM1095.6 537.8H1102.2V544.6H1095.6ZM1269.7 537.8H1276.3V544.6H1269.7Z"/>
<path fill="#9eff59" d="M154.1 60.7H205.9V67.4H154.1ZM315.3 60.7H321.9V67.4H315.3ZM412.1 60.7H450.9V67.4H412.1ZM483.0 60.7H496.0V67.4H483.0ZM740.9 60.7H747.5V67.4H740.9ZM154.1 67.1H205.9V73.8H154.1ZM315.3 67.1H321.9V73.8H315.3ZM412.1 67.1H450.9V73.8H412.1ZM483.0 67.1H496.0V73.8H483.0ZM740.9 67.1H747.5V73.8H740.9ZM154.1 73.5H205.9V80.3H154.1ZM412.1 73.5H450.9V80.3H412.1ZM483.0 73.5H496.0V80.3H483.0ZM1237.4 73.5H1244.0V80.3H1237.4ZM154.1 80.0H205.9V86.7H154.1ZM308.9 80.0H315.5V86.7H308.9ZM412.1 80.0H450.9V86.7H412.1ZM483.0 80.0H496.0V86.7H483.0ZM154.1 86.4H205.9V93.2H154.1ZM302.4 86.4H315.5V93.2H302.4ZM412.1 86.4H450.9V93.2H412.1ZM483.0 86.4H496.0V93.2H483.0ZM1224.5 86.4H1231.1V93.2H1224.5ZM154.1 92.9H205.9V99.6H154.1ZM302.4 92.9H309.0V99.6H302.4ZM412.1 92.9H450.9V99.6H412.1ZM483.0 92.9H496.0V99.6H483.0ZM534.6 92.9H541.2V99.6H534.6ZM547.5 92.9H554.1V99.6H547.5ZM1224.5 92.9H1231.1V99.6H1224.5ZM154.1 99.3H205.9V106.1H154.1ZM302.4 99.3H309.0V106.1H302.4ZM412.1 99.3H450.9V106.1H412.1ZM483.0 99.3H496.0V106.1H483.0ZM1224.5 99.3H1231.1V106.1H1224.5ZM154.1 105.8H205.9V112.5H154.1ZM302.4 105.8H309.0V112.5H302.4ZM412.1 105.8H450.9V112.5H412.1ZM483.0 105.8H496.0V112.5H483.0ZM702.2 105.8H708.8V112.5H702.2ZM1224.5 105.8H1231.1V112.5H1224.5ZM154.1 112.2H205.9V119.0H154.1ZM302.4 112.2H309.0V119.0H302.4ZM412.1 112.2H450.9V119.0H412.1ZM483.0 112.2H496.0V119.0H483.0ZM702.2 112.2H708.8V119.0H702.2ZM1224.5 112.2H1231.1V119.0H1224.5ZM154.1 118.7H205.9V125.4H154.1ZM289.5 118.7H309.0V125.4H289.5ZM412.1 118.7H450.9V125.4H412.1ZM483.0 118.7H496.0V125.4H483.0ZM702.2 118.7H708.8V125.4H702.2ZM1224.5 118.7H1231.1V125.4H1224.5ZM154.1 125.1H205.9V131.9H154.1ZM283.1 125.1H309.0V131.9H283.1ZM412.1 125.1H450.9V131.9H412.1ZM483.0 125.1H496.0V131.9H483.0ZM573.3 125.1H579.9V131.9H573.3ZM1224.5 125.1H1231.1V131.9H1224.5ZM154.1 131.6H205.9V138.3H154.1ZM283.1 131.6H309.0V138.3H283.1ZM412.1 131.6H450.9V138.3H412.1ZM483.0 131.6H496.0V138.3H483.0ZM579.7 131.6H586.3V138.3H579.7ZM695.8 131.6H702.4V138.3H695.8ZM1185.9 131.6H1192.5V138.3H1185.9ZM1224.5 131.6H1231.1V138.3H1224.5ZM154.1 138.0H205.9V144.8H154.1ZM283.1 138.0H309.0V144.8H283.1ZM412.1 138.0H450.9V144.8H412.1ZM483.0 138.0H496.0V144.8H483.0ZM1224.5 138.0H1231.1V144.8H1224.5ZM154.1 144.5H205.9V151.2H154.1ZM283.1 144.5H309.0V151.2H283.1ZM412.1 144.5H450.9V151.2H412.1ZM483.0 144.5H496.0V151.2H483.0ZM1224.5 144.5H1231.1V151.2H1224.5ZM154.1 150.9H205.9V157.7H154.1ZM283.1 150.9H309.0V157.7H283.1ZM412.1 150.9H450.9V157.7H412.1ZM483.0 150.9H496.0V157.7H483.0ZM605.5 150.9H612.1V157.7H605.5ZM1166.5 150.9H1173.1V157.7H1166.5ZM1224.5 150.9H1231.1V157.7H1224.5ZM167.0 157.4H205.9V164.1H167.0ZM270.2 157.4H309.0V164.1H270.2ZM412.1 157.4H450.9V164.1H412.1ZM483.0 157.4H496.0V164.1H483.0ZM618.4 157.4H625.0V164.1H618.4ZM676.4 157.4H683.0V164.1H676.4ZM895.7 157.4H902.3V164.1H895.7ZM1224.5 157.4H1231.1V164.1H1224.5ZM167.0 163.8H205.9V170.6H167.0ZM263.7 163.8H309.0V170.6H263.7ZM412.1 163.8H450.9V170.6H412.1ZM483.0 163.8H496.0V170.6H483.0ZM624.9 163.8H631.4V170.6H624.9ZM663.5 163.8H670.1V170.6H663.5ZM863.4 163.8H870.0V170.6H863.4ZM1224.5 163.8H1231.1V170.6H1224.5ZM173.5 170.3H205.9V177.0H173.5ZM263.7 170.3H296.1V177.0H263.7ZM412.1 170.3H450.9V177.0H412.1ZM483.0 170.3H496.0V177.0H483.0ZM624.9 170.3H637.9V177.0H624.9ZM657.1 170.3H663.7V177.0H657.1ZM1147.2 170.3H1153.8V177.0H1147.2ZM1224.5 170.3H1231.1V177.0H1224.5ZM186.4 176.7H193.0V183.5H186.4ZM212.2 176.7H218.8V183.5H212.2ZM263.7 176.7H296.1V183.5H263.7ZM489.4 176.7H496.0V183.5H489.4ZM631.3 176.7H650.8V183.5H631.3ZM831.2 176.7H857.1V183.5H831.2ZM1224.5 176.7H1231.1V183.5H1224.5ZM186.4 183.2H193.0V189.9H186.4ZM199.3 183.2H205.9V189.9H199.3ZM225.1 183.2H238.1V189.9H225.1ZM263.7 183.2H296.1V189.9H263.7ZM437.9 183.2H450.9V189.9H437.9ZM779.6 183.2H786.2V189.9H779.6ZM824.8 183.2H831.3V189.9H824.8ZM1224.5 183.2H1231.1V189.9H1224.5ZM186.4 189.6H193.0V196.4H186.4ZM263.7 189.6H296.1V196.4H263.7ZM405.6 189.6H412.2V196.4H405.6ZM450.7 189.6H457.3V196.4H450.7ZM476.5 189.6H489.6V196.4H476.5ZM495.9 189.6H502.5V196.4H495.9ZM766.7 189.6H773.3V196.4H766.7ZM1224.5 189.6H1231.1V196.4H1224.5ZM154.1 196.1H160.7V202.8H154.1ZM179.9 196.1H186.5V202.8H179.9ZM263.7 196.1H296.1V202.8H263.7ZM392.7 196.1H399.3V202.8H392.7ZM521.7 196.1H528.3V202.8H521.7ZM760.3 196.1H766.9V202.8H760.3ZM1114.9 196.1H1121.5V202.8H1114.9ZM1224.5 196.1H1231.1V202.8H1224.5ZM154.1 202.5H180.1V209.3H154.1ZM250.8 202.5H263.9V209.3H250.8ZM276.6 202.5H289.7V209.3H276.6ZM379.8 202.5H386.4V209.3H379.8ZM521.7 202.5H528.3V209.3H521.7ZM740.9 202.5H747.5V209.3H740.9ZM1224.5 202.5H1231.1V209.3H1224.5ZM154.1 209.0H173.6V215.7H154.1ZM263.7 209.0H270.3V215.7H263.7ZM541.0 209.0H547.6V215.7H541.0ZM715.1 209.0H728.2V215.7H715.1ZM1218.1 209.0H1224.7V215.7H1218.1ZM154.1 215.4H160.7V222.2H154.1ZM263.7 215.4H270.3V222.2H263.7ZM366.9 215.4H380.0V222.2H366.9ZM618.4 215.4H625.0V222.2H618.4ZM650.6 215.4H695.9V222.2H650.6ZM263.7 221.9H270.3V228.6H263.7ZM315.3 221.9H328.4V228.6H315.3ZM347.6 221.9H354.2V228.6H347.6ZM360.5 221.9H367.1V228.6H360.5ZM1082.7 221.9H1095.7V228.6H1082.7ZM1205.2 221.9H1211.8V228.6H1205.2ZM257.3 228.3H263.9V235.1H257.3ZM334.7 228.3H354.2V235.1H334.7ZM373.4 228.3H380.0V235.1H373.4ZM1205.2 228.3H1211.8V235.1H1205.2ZM250.8 234.8H276.8V241.5H250.8ZM308.9 234.8H315.5V241.5H308.9ZM321.8 234.8H334.8V241.5H321.8ZM341.1 234.8H347.7V241.5H341.1ZM354.0 234.8H360.6V241.5H354.0ZM1205.2 234.8H1211.8V241.5H1205.2ZM173.5 241.2H180.1V248.0H173.5ZM244.4 241.2H251.0V248.0H244.4ZM263.7 241.2H276.8V248.0H263.7ZM334.7 241.2H341.3V248.0H334.7ZM347.6 241.2H354.2V248.0H347.6ZM366.9 241.2H373.5V248.0H366.9ZM1205.2 241.2H1211.8V248.0H1205.2ZM167.0 247.7H173.6V254.4H167.0ZM263.7 247.7H270.3V254.4H263.7ZM289.5 247.7H296.1V254.4H289.5ZM341.1 247.7H354.2V254.4H341.1ZM1198.8 247.7H1205.4V254.4H1198.8ZM167.0 254.1H173.6V260.8H167.0ZM263.7 254.1H276.8V260.8H263.7ZM302.4 254.1H309.0V260.8H302.4ZM328.2 254.1H354.2V260.8H328.2ZM167.0 260.5H173.6V267.3H167.0ZM263.7 260.5H276.8V267.3H263.7ZM347.6 260.5H360.6V267.3H347.6ZM457.2 260.5H470.2V267.3H457.2ZM1185.9 260.5H1192.5V267.3H1185.9ZM167.0 267.0H173.6V273.7H167.0ZM263.7 267.0H296.1V273.7H263.7ZM308.9 267.0H321.9V273.7H308.9ZM399.2 267.0H405.8V273.7H399.2ZM167.0 273.4H173.6V280.2H167.0ZM263.7 273.4H302.6V280.2H263.7ZM444.3 273.4H457.3V280.2H444.3ZM476.5 273.4H483.1V280.2H476.5ZM857.0 273.4H863.6V280.2H857.0ZM1134.3 273.4H1140.9V280.2H1134.3ZM167.0 279.9H173.6V286.6H167.0ZM257.3 279.9H270.3V286.6H257.3ZM392.7 279.9H399.3V286.6H392.7ZM437.9 279.9H450.9V286.6H437.9ZM476.5 279.9H483.1V286.6H476.5ZM850.5 279.9H857.1V286.6H850.5ZM167.0 286.3H173.6V293.1H167.0ZM392.7 286.3H399.3V293.1H392.7ZM437.9 286.3H450.9V293.1H437.9ZM476.5 286.3H483.1V293.1H476.5ZM167.0 292.8H173.6V299.5H167.0ZM379.8 292.8H392.9V299.5H379.8ZM437.9 292.8H450.9V299.5H437.9ZM837.6 292.8H844.2V299.5H837.6ZM360.5 299.2H367.1V306.0H360.5ZM373.4 299.2H386.4V306.0H373.4ZM437.9 299.2H457.3V306.0H437.9ZM470.1 299.2H476.7V306.0H470.1ZM831.2 299.2H837.8V306.0H831.2ZM1295.5 299.2H1302.1V306.0H1295.5ZM437.9 305.7H457.3V312.4H437.9ZM463.6 305.7H470.2V312.4H463.6ZM792.5 305.7H799.1V312.4H792.5ZM831.2 305.7H837.8V312.4H831.2ZM1269.7 305.7H1276.3V312.4H1269.7ZM437.9 312.1H450.9V318.9H437.9ZM457.2 312.1H463.8V318.9H457.2ZM805.4 312.1H812.0V318.9H805.4ZM844.1 312.1H857.1V318.9H844.1ZM1140.7 312.1H1147.3V318.9H1140.7ZM1263.2 312.1H1269.8V318.9H1263.2ZM437.9 318.6H444.4V325.3H437.9ZM450.7 318.6H457.3V325.3H450.7ZM1147.2 318.6H1153.8V325.3H1147.2ZM1237.4 318.6H1250.5V325.3H1237.4ZM328.2 325.0H341.3V331.8H328.2ZM437.9 325.0H444.4V331.8H437.9ZM734.5 325.0H741.1V331.8H734.5ZM953.7 325.0H960.3V331.8H953.7ZM1224.5 325.0H1231.1V331.8H1224.5ZM437.9 331.5H450.9V338.2H437.9ZM728.0 331.5H734.6V338.2H728.0ZM811.9 331.5H837.8V338.2H811.9ZM1160.1 331.5H1166.7V338.2H1160.1ZM1211.7 331.5H1218.2V338.2H1211.7ZM483.0 337.9H528.3V344.7H483.0ZM618.4 337.9H631.4V344.7H618.4ZM715.1 337.9H721.7V344.7H715.1ZM818.3 337.9H844.2V344.7H818.3ZM1166.5 337.9H1173.1V344.7H1166.5ZM483.0 344.4H528.3V351.1H483.0ZM624.9 344.4H644.3V351.1H624.9ZM824.8 344.4H837.8V351.1H824.8ZM869.9 344.4H876.5V351.1H869.9ZM1173.0 344.4H1179.6V351.1H1173.0ZM1205.2 344.4H1211.8V351.1H1205.2ZM341.1 350.8H347.7V357.6H341.1ZM495.9 350.8H515.4V357.6H495.9ZM708.7 350.8H715.3V357.6H708.7ZM824.8 350.8H831.3V357.6H824.8ZM863.4 350.8H870.0V357.6H863.4ZM495.9 357.3H515.4V364.0H495.9ZM702.2 357.3H708.8V364.0H702.2ZM824.8 357.3H831.3V364.0H824.8ZM857.0 357.3H863.6V364.0H857.0ZM379.8 363.7H386.4V370.5H379.8ZM495.9 363.7H528.3V370.5H495.9ZM824.8 363.7H831.3V370.5H824.8ZM837.6 363.7H844.2V370.5H837.6ZM986.0 363.7H992.6V370.5H986.0ZM405.6 370.2H418.7V376.9H405.6ZM483.0 370.2H508.9V376.9H483.0ZM553.9 370.2H560.5V376.9H553.9ZM831.2 370.2H837.8V376.9H831.2ZM418.5 376.6H425.1V383.4H418.5ZM483.0 376.6H508.9V383.4H483.0ZM483.0 383.1H508.9V389.8H483.0ZM425.0 389.5H431.6V396.3H425.0ZM483.0 389.5H508.9V396.3H483.0ZM483.0 396.0H489.6V402.7H483.0ZM495.9 396.0H528.3V402.7H495.9ZM289.5 402.4H302.6V409.2H289.5ZM470.1 402.4H476.7V409.2H470.1ZM502.3 402.4H534.7V409.2H502.3ZM921.5 402.4H928.1V409.2H921.5ZM940.8 402.4H947.4V409.2H940.8ZM263.7 408.9H276.8V415.6H263.7ZM315.3 408.9H321.9V415.6H315.3ZM502.3 408.9H515.4V415.6H502.3ZM541.0 408.9H547.6V415.6H541.0ZM908.6 408.9H915.2V415.6H908.6ZM257.3 415.3H263.9V422.1H257.3ZM321.8 415.3H328.4V422.1H321.8ZM502.3 415.3H515.4V422.1H502.3ZM547.5 415.3H554.1V422.1H547.5ZM902.1 415.3H908.7V422.1H902.1ZM250.8 421.8H257.4V428.5H250.8ZM334.7 421.8H341.3V428.5H334.7ZM431.4 421.8H438.0V428.5H431.4ZM444.3 421.8H450.9V428.5H444.3ZM502.3 421.8H508.9V428.5H502.3ZM541.0 421.8H547.6V428.5H541.0ZM895.7 421.8H902.3V428.5H895.7ZM966.6 421.8H973.2V428.5H966.6ZM495.9 428.2H502.5V435.0H495.9ZM521.7 428.2H534.7V435.0H521.7ZM973.1 428.2H979.7V435.0H973.1ZM244.4 434.7H251.0V441.4H244.4ZM341.1 434.7H347.7V441.4H341.1ZM489.4 434.7H496.0V441.4H489.4ZM515.2 434.7H528.3V441.4H515.2ZM889.2 434.7H895.8V441.4H889.2ZM244.4 441.1H251.0V447.8H244.4ZM341.1 441.1H347.7V447.8H341.1ZM489.4 441.1H502.5V447.8H489.4ZM508.8 441.1H521.8V447.8H508.8ZM882.8 441.1H895.8V447.8H882.8ZM250.8 447.6H296.1V454.3H250.8ZM334.7 447.6H341.3V454.3H334.7ZM495.9 447.6H528.3V454.3H495.9ZM889.2 447.6H908.7V454.3H889.2ZM992.4 447.6H999.0V454.3H992.4ZM1031.1 447.6H1037.7V454.3H1031.1ZM225.1 454.0H231.7V460.7H225.1ZM308.9 454.0H315.5V460.7H308.9ZM495.9 454.0H515.4V460.7H495.9ZM927.9 454.0H934.5V460.7H927.9ZM966.6 454.0H979.7V460.7H966.6ZM992.4 454.0H999.0V460.7H992.4ZM1031.1 454.0H1037.7V460.7H1031.1ZM218.6 460.4H225.2V467.2H218.6ZM302.4 460.4H315.5V467.2H302.4ZM495.9 460.4H502.5V467.2H495.9ZM927.9 460.4H941.0V467.2H927.9ZM960.2 460.4H979.7V467.2H960.2ZM992.4 460.4H999.0V467.2H992.4ZM212.2 466.9H218.8V473.6H212.2ZM296.0 466.9H309.0V473.6H296.0ZM341.1 466.9H347.7V473.6H341.1ZM489.4 466.9H496.0V473.6H489.4ZM927.9 466.9H941.0V473.6H927.9ZM960.2 466.9H992.6V473.6H960.2ZM296.0 473.3H302.6V480.1H296.0ZM341.1 473.3H347.7V480.1H341.1ZM927.9 473.3H941.0V480.1H927.9ZM960.2 473.3H992.6V480.1H960.2ZM1063.3 473.3H1069.9V480.1H1063.3ZM199.3 479.8H205.9V486.5H199.3ZM1069.8 479.8H1082.8V486.5H1069.8ZM1140.7 479.8H1147.3V486.5H1140.7ZM1076.2 486.2H1089.3V493.0H1076.2ZM1121.4 486.2H1134.4V493.0H1121.4ZM179.9 492.7H186.5V499.4H179.9ZM1089.1 492.7H1128.0V499.4H1089.1ZM1147.2 492.7H1153.8V499.4H1147.2ZM1289.0 492.7H1308.5V499.4H1289.0ZM167.0 499.1H180.1V505.9H167.0ZM1121.4 499.1H1147.3V505.9H1121.4ZM1282.6 499.1H1295.6V505.9H1282.6ZM154.1 505.6H160.7V512.3H154.1ZM1121.4 505.6H1134.4V512.3H1121.4ZM1282.6 505.6H1289.2V512.3H1282.6ZM154.1 512.0H160.7V518.8H154.1ZM1121.4 512.0H1128.0V518.8H1121.4ZM1276.1 512.0H1282.7V518.8H1276.1ZM1108.5 518.5H1115.1V525.2H1108.5ZM1276.1 518.5H1282.7V525.2H1276.1ZM154.1 524.9H160.7V531.7H154.1ZM1095.6 524.9H1102.2V531.7H1095.6ZM1276.1 524.9H1282.7V531.7H1276.1ZM154.1 531.4H167.2V538.1H154.1ZM1089.1 531.4H1095.7V538.1H1089.1ZM1276.1 531.4H1282.7V538.1H1276.1ZM154.1 537.8H193.0V544.6H154.1ZM1089.1 537.8H1095.7V544.6H1089.1ZM1276.1 537.8H1282.7V544.6H1276.1Z"/>
<path fill="#afff48" d="M405.6 60.7H412.2V67.4H405.6ZM450.7 60.7H457.3V67.4H450.7ZM476.5 60.7H483.1V67.4H476.5ZM1243.9 60.7H1250.5V67.4H1243.9ZM405.6 67.1H412.2V73.8H405.6ZM450.7 67.1H457.3V73.8H450.7ZM476.5 67.1H483.1V73.8H476.5ZM1243.9 67.1H1250.5V73.8H1243.9ZM315.3 73.5H321.9V80.3H315.3ZM405.6 73.5H412.2V80.3H405.6ZM450.7 73.5H457.3V80.3H450.7ZM476.5 73.5H483.1V80.3H476.5ZM734.5 73.5H741.1V80.3H734.5ZM1231.0 73.5H1237.6V80.3H1231.0ZM315.3 80.0H321.9V86.7H315.3ZM405.6 80.0H412.2V86.7H405.6ZM450.7 80.0H457.3V86.7H450.7ZM476.5 80.0H483.1V86.7H476.5ZM1211.7 80.0H1218.2V86.7H1211.7ZM1224.5 80.0H1231.1V86.7H1224.5ZM405.6 86.4H412.2V93.2H405.6ZM450.7 86.4H457.3V93.2H450.7ZM476.5 86.4H483.1V93.2H476.5ZM721.6 86.4H728.2V93.2H721.6ZM308.9 92.9H315.5V99.6H308.9ZM405.6 92.9H412.2V99.6H405.6ZM450.7 92.9H457.3V99.6H450.7ZM476.5 92.9H483.1V99.6H476.5ZM541.0 92.9H547.6V99.6H541.0ZM715.1 92.9H721.7V99.6H715.1ZM308.9 99.3H315.5V106.1H308.9ZM405.6 99.3H412.2V106.1H405.6ZM450.7 99.3H457.3V106.1H450.7ZM476.5 99.3H483.1V106.1H476.5ZM528.1 99.3H534.7V106.1H528.1ZM1192.3 99.3H1198.9V106.1H1192.3ZM308.9 105.8H315.5V112.5H308.9ZM405.6 105.8H412.2V112.5H405.6ZM450.7 105.8H457.3V112.5H450.7ZM476.5 105.8H483.1V112.5H476.5ZM553.9 105.8H560.5V112.5H553.9ZM308.9 112.2H315.5V119.0H308.9ZM405.6 112.2H412.2V119.0H405.6ZM450.7 112.2H457.3V119.0H450.7ZM476.5 112.2H483.1V119.0H476.5ZM560.4 112.2H567.0V119.0H560.4ZM308.9 118.7H315.5V125.4H308.9ZM405.6 118.7H412.2V125.4H405.6ZM450.7 118.7H457.3V125.4H450.7ZM476.5 118.7H483.1V125.4H476.5ZM308.9 125.1H315.5V131.9H308.9ZM405.6 125.1H412.2V131.9H405.6ZM450.7 125.1H457.3V131.9H450.7ZM476.5 125.1H483.1V131.9H476.5ZM702.2 125.1H708.8V131.9H702.2ZM308.9 131.6H315.5V138.3H308.9ZM405.6 131.6H412.2V138.3H405.6ZM450.7 131.6H457.3V138.3H450.7ZM476.5 131.6H483.1V138.3H476.5ZM308.9 138.0H315.5V144.8H308.9ZM405.6 138.0H412.2V144.8H405.6ZM450.7 138.0H457.3V144.8H450.7ZM476.5 138.0H483.1V144.8H476.5ZM586.2 138.0H592.8V144.8H586.2ZM869.9 138.0H876.5V144.8H869.9ZM1173.0 138.0H1179.6V144.8H1173.0ZM308.9 144.5H315.5V151.2H308.9ZM405.6 144.5H412.2V151.2H405.6ZM450.7 144.5H457.3V151.2H450.7ZM476.5 144.5H483.1V151.2H476.5ZM592.6 144.5H599.2V151.2H592.6ZM682.9 144.5H689.5V151.2H682.9ZM863.4 144.5H870.0V151.2H863.4ZM308.9 150.9H315.5V157.7H308.9ZM405.6 150.9H412.2V157.7H405.6ZM450.7 150.9H457.3V157.7H450.7ZM476.5 150.9H483.1V157.7H476.5ZM599.1 150.9H605.7V157.7H599.1ZM863.4 150.9H870.0V157.7H863.4ZM889.2 150.9H895.8V157.7H889.2ZM308.9 157.4H315.5V164.1H308.9ZM405.6 157.4H412.2V164.1H405.6ZM450.7 157.4H457.3V164.1H450.7ZM476.5 157.4H483.1V164.1H476.5ZM612.0 157.4H618.6V164.1H612.0ZM863.4 157.4H870.0V164.1H863.4ZM1018.2 157.4H1024.8V164.1H1018.2ZM1031.1 157.4H1037.7V164.1H1031.1ZM1153.6 157.4H1160.2V164.1H1153.6ZM308.9 163.8H315.5V170.6H308.9ZM405.6 163.8H412.2V170.6H405.6ZM450.7 163.8H457.3V170.6H450.7ZM476.5 163.8H483.1V170.6H476.5ZM618.4 163.8H625.0V170.6H618.4ZM670.0 163.8H676.6V170.6H670.0ZM902.1 163.8H908.7V170.6H902.1ZM296.0 170.3H315.5V177.0H296.0ZM405.6 170.3H412.2V177.0H405.6ZM476.5 170.3H483.1V177.0H476.5ZM618.4 170.3H625.0V177.0H618.4ZM663.5 170.3H670.1V177.0H663.5ZM192.8 176.7H205.9V183.5H192.8ZM296.0 176.7H309.0V183.5H296.0ZM405.6 176.7H425.1V183.5H405.6ZM483.0 176.7H489.6V183.5H483.0ZM624.9 176.7H631.4V183.5H624.9ZM650.6 176.7H663.7V183.5H650.6ZM1134.3 176.7H1140.9V183.5H1134.3ZM192.8 183.2H199.4V189.9H192.8ZM296.0 183.2H302.6V189.9H296.0ZM321.8 183.2H334.8V189.9H321.8ZM425.0 183.2H438.0V189.9H425.0ZM450.7 183.2H457.3V189.9H450.7ZM489.4 183.2H502.5V189.9H489.4ZM508.8 183.2H515.4V189.9H508.8ZM521.7 183.2H528.3V189.9H521.7ZM631.3 183.2H650.8V189.9H631.3ZM296.0 189.6H302.6V196.4H296.0ZM321.8 189.6H334.8V196.4H321.8ZM457.2 189.6H476.7V196.4H457.2ZM489.4 189.6H496.0V196.4H489.4ZM521.7 189.6H528.3V196.4H521.7ZM786.1 189.6H792.7V196.4H786.1ZM805.4 189.6H812.0V196.4H805.4ZM296.0 196.1H302.6V202.8H296.0ZM321.8 196.1H341.3V202.8H321.8ZM386.3 196.1H392.9V202.8H386.3ZM676.4 196.1H683.0V202.8H676.4ZM263.7 202.5H276.8V209.3H263.7ZM289.5 202.5H302.6V209.3H289.5ZM321.8 202.5H341.3V209.3H321.8ZM676.4 202.5H683.0V209.3H676.4ZM728.0 202.5H741.1V209.3H728.0ZM1037.5 202.5H1044.1V209.3H1037.5ZM270.2 209.0H276.8V215.7H270.2ZM283.1 209.0H296.1V215.7H283.1ZM321.8 209.0H341.3V215.7H321.8ZM373.4 209.0H380.0V215.7H373.4ZM547.5 209.0H554.1V215.7H547.5ZM702.2 209.0H715.3V215.7H702.2ZM1050.4 209.0H1057.0V215.7H1050.4ZM1102.0 209.0H1108.6V215.7H1102.0ZM160.6 215.4H167.2V222.2H160.6ZM270.2 215.4H276.8V222.2H270.2ZM321.8 215.4H334.8V222.2H321.8ZM360.5 215.4H367.1V222.2H360.5ZM624.9 215.4H650.8V222.2H624.9ZM1211.7 215.4H1218.2V222.2H1211.7ZM154.1 221.9H160.7V228.6H154.1ZM270.2 221.9H276.8V228.6H270.2ZM354.0 221.9H360.6V228.6H354.0ZM160.6 228.3H167.2V235.1H160.6ZM263.7 228.3H283.2V235.1H263.7ZM354.0 228.3H360.6V235.1H354.0ZM276.6 234.8H283.2V241.5H276.6ZM167.0 241.2H173.6V248.0H167.0ZM328.2 260.5H347.7V267.3H328.2ZM457.2 267.0H476.7V273.7H457.2ZM457.2 273.4H463.8V280.2H457.2ZM869.9 273.4H876.5V280.2H869.9ZM270.2 279.9H315.5V286.6H270.2ZM450.7 279.9H463.8V286.6H450.7ZM882.8 279.9H889.4V286.6H882.8ZM238.0 286.3H244.6V293.1H238.0ZM450.7 286.3H463.8V293.1H450.7ZM450.7 292.8H463.8V299.5H450.7ZM470.1 292.8H476.7V299.5H470.1ZM844.1 292.8H850.7V299.5H844.1ZM167.0 299.2H173.6V306.0H167.0ZM457.2 299.2H470.2V306.0H457.2ZM457.2 305.7H463.8V312.4H457.2ZM753.8 305.7H760.4V312.4H753.8ZM786.1 305.7H792.7V312.4H786.1ZM837.6 305.7H844.2V312.4H837.6ZM927.9 305.7H934.5V312.4H927.9ZM450.7 312.1H457.3V318.9H450.7ZM857.0 312.1H870.0V318.9H857.0ZM444.3 318.6H450.9V325.3H444.3ZM740.9 318.6H747.5V325.3H740.9ZM805.4 318.6H812.0V325.3H805.4ZM876.3 318.6H882.9V325.3H876.3ZM444.3 325.0H450.9V331.8H444.3ZM876.3 325.0H882.9V331.8H876.3ZM1153.6 325.0H1160.2V331.8H1153.6ZM734.5 331.5H741.1V338.2H734.5ZM876.3 331.5H882.9V338.2H876.3ZM960.2 331.5H966.8V338.2H960.2ZM721.6 337.9H728.2V344.7H721.6ZM811.9 337.9H818.5V344.7H811.9ZM876.3 337.9H882.9V344.7H876.3ZM715.1 344.4H721.7V351.1H715.1ZM811.9 344.4H824.9V351.1H811.9ZM354.0 350.8H360.6V357.6H354.0ZM624.9 350.8H631.4V357.6H624.9ZM644.2 350.8H650.8V357.6H644.2ZM818.3 350.8H824.9V357.6H818.3ZM650.6 357.3H657.2V364.0H650.6ZM708.7 357.3H715.3V364.0H708.7ZM818.3 357.3H824.9V364.0H818.3ZM863.4 357.3H870.0V364.0H863.4ZM366.9 363.7H380.0V370.5H366.9ZM682.9 363.7H708.8V370.5H682.9ZM818.3 363.7H824.9V370.5H818.3ZM844.1 363.7H857.1V370.5H844.1ZM399.2 370.2H405.8V376.9H399.2ZM508.8 370.2H534.7V376.9H508.8ZM547.5 370.2H554.1V376.9H547.5ZM599.1 370.2H605.7V376.9H599.1ZM824.8 370.2H831.3V376.9H824.8ZM837.6 370.2H844.2V376.9H837.6ZM986.0 370.2H992.6V376.9H986.0ZM412.1 376.6H418.7V383.4H412.1ZM508.8 376.6H515.4V383.4H508.8ZM566.8 376.6H573.4V383.4H566.8ZM586.2 376.6H592.8V383.4H586.2ZM824.8 376.6H837.8V383.4H824.8ZM425.0 383.1H431.6V389.8H425.0ZM508.8 383.1H521.8V389.8H508.8ZM573.3 383.1H586.3V389.8H573.3ZM431.4 389.5H438.0V396.3H431.4ZM508.8 389.5H528.3V396.3H508.8ZM1005.3 389.5H1011.9V396.3H1005.3ZM489.4 396.0H496.0V402.7H489.4ZM528.1 396.0H534.7V402.7H528.1ZM927.9 396.0H941.0V402.7H927.9ZM276.6 402.4H289.7V409.2H276.6ZM302.4 402.4H309.0V409.2H302.4ZM476.5 402.4H483.1V409.2H476.5ZM489.4 402.4H502.5V409.2H489.4ZM534.6 402.4H547.6V409.2H534.6ZM915.0 402.4H921.6V409.2H915.0ZM947.3 402.4H953.9V409.2H947.3ZM495.9 408.9H502.5V415.6H495.9ZM547.5 408.9H554.1V415.6H547.5ZM953.7 408.9H960.3V415.6H953.7ZM250.8 415.3H257.4V422.1H250.8ZM328.2 415.3H334.8V422.1H328.2ZM412.1 415.3H418.7V422.1H412.1ZM553.9 415.3H560.5V422.1H553.9ZM960.2 415.3H966.8V422.1H960.2ZM450.7 421.8H457.3V428.5H450.7ZM495.9 421.8H502.5V428.5H495.9ZM547.5 421.8H554.1V428.5H547.5ZM341.1 428.2H347.7V435.0H341.1ZM489.4 428.2H496.0V435.0H489.4ZM534.6 428.2H547.6V435.0H534.6ZM889.2 428.2H895.8V435.0H889.2ZM979.5 428.2H986.1V435.0H979.5ZM463.6 434.7H489.6V441.4H463.6ZM528.1 434.7H534.7V441.4H528.1ZM476.5 441.1H489.6V447.8H476.5ZM521.7 441.1H541.2V447.8H521.7ZM992.4 441.1H999.0V447.8H992.4ZM205.7 447.6H251.0V454.3H205.7ZM341.1 447.6H347.7V454.3H341.1ZM489.4 447.6H496.0V454.3H489.4ZM528.1 447.6H534.7V454.3H528.1ZM882.8 447.6H889.4V454.3H882.8ZM231.5 454.0H244.6V460.7H231.5ZM302.4 454.0H309.0V460.7H302.4ZM341.1 454.0H347.7V460.7H341.1ZM515.2 454.0H521.8V460.7H515.2ZM915.0 454.0H928.1V460.7H915.0ZM998.9 454.0H1005.5V460.7H998.9ZM225.1 460.4H231.7V467.2H225.1ZM296.0 460.4H302.6V467.2H296.0ZM341.1 460.4H347.7V467.2H341.1ZM483.0 460.4H496.0V467.2H483.0ZM915.0 460.4H928.1V467.2H915.0ZM1031.1 460.4H1037.7V467.2H1031.1ZM218.6 466.9H225.2V473.6H218.6ZM270.2 466.9H296.1V473.6H270.2ZM347.6 466.9H354.2V473.6H347.6ZM908.6 466.9H928.1V473.6H908.6ZM992.4 466.9H999.0V473.6H992.4ZM1037.5 466.9H1044.1V473.6H1037.5ZM212.2 473.3H218.8V480.1H212.2ZM263.7 473.3H296.1V480.1H263.7ZM347.6 473.3H354.2V480.1H347.6ZM489.4 473.3H496.0V480.1H489.4ZM902.1 473.3H928.1V480.1H902.1ZM992.4 473.3H999.0V480.1H992.4ZM1056.9 473.3H1063.5V480.1H1056.9ZM205.7 479.8H212.3V486.5H205.7ZM940.8 479.8H992.6V486.5H940.8ZM1063.3 479.8H1069.9V486.5H1063.3ZM192.8 486.2H199.4V493.0H192.8ZM1069.8 486.2H1076.4V493.0H1069.8ZM1134.3 486.2H1147.3V493.0H1134.3ZM186.4 492.7H193.0V499.4H186.4ZM1076.2 492.7H1089.3V499.4H1076.2ZM1127.8 492.7H1134.4V499.4H1127.8ZM1076.2 499.1H1121.5V505.9H1076.2ZM1295.5 499.1H1308.5V505.9H1295.5ZM160.6 505.6H167.2V512.3H160.6ZM1044.0 505.6H1069.9V512.3H1044.0ZM1108.5 505.6H1121.5V512.3H1108.5ZM1289.0 505.6H1295.6V512.3H1289.0ZM1044.0 512.0H1076.4V518.8H1044.0ZM1114.9 512.0H1121.5V518.8H1114.9ZM1282.6 512.0H1289.2V518.8H1282.6ZM154.1 518.5H167.2V525.2H154.1ZM1102.0 518.5H1108.6V525.2H1102.0ZM1282.6 518.5H1289.2V525.2H1282.6ZM160.6 524.9H173.6V531.7H160.6ZM1082.7 524.9H1095.7V531.7H1082.7ZM1282.6 524.9H1289.2V531.7H1282.6ZM167.0 531.4H199.4V538.1H167.0ZM1082.7 531.4H1089.3V538.1H1082.7ZM1282.6 531.4H1289.2V538.1H1282.6ZM192.8 537.8H199.4V544.6H192.8ZM1082.7 537.8H1089.3V544.6H1082.7ZM1282.6 537.8H1289.2V544.6H1282.6Z"/>
<path fill="#c0ff37" d="M399.2 60.7H405.8V67.4H399.2ZM457.2 60.7H463.8V67.4H457.2ZM470.1 60.7H476.7V67.4H470.1ZM399.2 67.1H405.8V73.8H399.2ZM457.2 67.1H463.8V73.8H457.2ZM470.1 67.1H476.7V73.8H470.1ZM399.2 73.5H405.8V80.3H399.2ZM457.2 73.5H463.8V80.3H457.2ZM470.1 73.5H476.7V80.3H470.1ZM1224.5 73.5H1231.1V80.3H1224.5ZM399.2 80.0H405.8V86.7H399.2ZM457.2 80.0H463.8V86.7H457.2ZM470.1 80.0H476.7V86.7H470.1ZM315.3 86.4H321.9V93.2H315.3ZM399.2 86.4H405.8V93.2H399.2ZM457.2 86.4H463.8V93.2H457.2ZM470.1 86.4H476.7V93.2H470.1ZM315.3 92.9H321.9V99.6H315.3ZM399.2 92.9H405.8V99.6H399.2ZM457.2 92.9H463.8V99.6H457.2ZM470.1 92.9H476.7V99.6H470.1ZM315.3 99.3H321.9V106.1H315.3ZM399.2 99.3H405.8V106.1H399.2ZM457.2 99.3H463.8V106.1H457.2ZM470.1 99.3H476.7V106.1H470.1ZM708.7 99.3H715.3V106.1H708.7ZM315.3 105.8H321.9V112.5H315.3ZM399.2 105.8H405.8V112.5H399.2ZM457.2 105.8H463.8V112.5H457.2ZM470.1 105.8H476.7V112.5H470.1ZM315.3 112.2H321.9V119.0H315.3ZM399.2 112.2H405.8V119.0H399.2ZM457.2 112.2H463.8V119.0H457.2ZM470.1 112.2H476.7V119.0H470.1ZM1185.9 112.2H1192.5V119.0H1185.9ZM315.3 118.7H321.9V125.4H315.3ZM399.2 118.7H405.8V125.4H399.2ZM457.2 118.7H463.8V125.4H457.2ZM470.1 118.7H476.7V125.4H470.1ZM566.8 118.7H573.4V125.4H566.8ZM1185.9 118.7H1192.5V125.4H1185.9ZM315.3 125.1H321.9V131.9H315.3ZM399.2 125.1H405.8V131.9H399.2ZM457.2 125.1H463.8V131.9H457.2ZM470.1 125.1H476.7V131.9H470.1ZM1185.9 125.1H1192.5V131.9H1185.9ZM315.3 131.6H321.9V138.3H315.3ZM399.2 131.6H405.8V138.3H399.2ZM457.2 131.6H463.8V138.3H457.2ZM470.1 131.6H476.7V138.3H470.1ZM315.3 138.0H321.9V144.8H315.3ZM399.2 138.0H405.8V144.8H399.2ZM457.2 138.0H463.8V144.8H457.2ZM470.1 138.0H476.7V144.8H470.1ZM689.3 138.0H695.9V144.8H689.3ZM876.3 138.0H882.9V144.8H876.3ZM315.3 144.5H321.9V151.2H315.3ZM399.2 144.5H405.8V151.2H399.2ZM457.2 144.5H463.8V151.2H457.2ZM470.1 144.5H476.7V151.2H470.1ZM882.8 144.5H889.4V151.2H882.8ZM315.3 150.9H321.9V157.7H315.3ZM399.2 150.9H405.8V157.7H399.2ZM457.2 150.9H463.8V157.7H457.2ZM470.1 150.9H476.7V157.7H470.1ZM682.9 150.9H689.5V157.7H682.9ZM895.7 150.9H902.3V157.7H895.7ZM1160.1 150.9H1166.7V157.7H1160.1ZM315.3 157.4H321.9V164.1H315.3ZM399.2 157.4H405.8V164.1H399.2ZM457.2 157.4H463.8V164.1H457.2ZM470.1 157.4H476.7V164.1H470.1ZM605.5 157.4H612.1V164.1H605.5ZM315.3 163.8H321.9V170.6H315.3ZM399.2 163.8H405.8V170.6H399.2ZM457.2 163.8H463.8V170.6H457.2ZM470.1 163.8H476.7V170.6H470.1ZM612.0 163.8H618.6V170.6H612.0ZM1147.2 163.8H1153.8V170.6H1147.2ZM315.3 170.3H321.9V177.0H315.3ZM399.2 170.3H405.8V177.0H399.2ZM470.1 170.3H476.7V177.0H470.1ZM612.0 170.3H618.6V177.0H612.0ZM670.0 170.3H676.6V177.0H670.0ZM857.0 170.3H863.6V177.0H857.0ZM1037.5 170.3H1044.1V177.0H1037.5ZM308.9 176.7H334.8V183.5H308.9ZM399.2 176.7H405.8V183.5H399.2ZM425.0 176.7H438.0V183.5H425.0ZM618.4 176.7H625.0V183.5H618.4ZM663.5 176.7H676.6V183.5H663.5ZM1037.5 176.7H1044.1V183.5H1037.5ZM302.4 183.2H309.0V189.9H302.4ZM315.3 183.2H321.9V189.9H315.3ZM334.7 183.2H341.3V189.9H334.7ZM412.1 183.2H425.1V189.9H412.1ZM457.2 183.2H463.8V189.9H457.2ZM470.1 183.2H483.1V189.9H470.1ZM502.3 183.2H508.9V189.9H502.3ZM515.2 183.2H521.8V189.9H515.2ZM624.9 183.2H631.4V189.9H624.9ZM650.6 183.2H657.2V189.9H650.6ZM1037.5 183.2H1044.1V189.9H1037.5ZM1127.8 183.2H1134.4V189.9H1127.8ZM302.4 189.6H309.0V196.4H302.4ZM315.3 189.6H321.9V196.4H315.3ZM334.7 189.6H341.3V196.4H334.7ZM399.2 189.6H405.8V196.4H399.2ZM637.7 189.6H657.2V196.4H637.7ZM670.0 189.6H683.0V196.4H670.0ZM1037.5 189.6H1044.1V196.4H1037.5ZM1121.4 189.6H1128.0V196.4H1121.4ZM302.4 196.1H309.0V202.8H302.4ZM315.3 196.1H321.9V202.8H315.3ZM379.8 196.1H386.4V202.8H379.8ZM528.1 196.1H534.7V202.8H528.1ZM663.5 196.1H676.6V202.8H663.5ZM753.8 196.1H760.4V202.8H753.8ZM1037.5 196.1H1044.1V202.8H1037.5ZM302.4 202.5H309.0V209.3H302.4ZM315.3 202.5H321.9V209.3H315.3ZM341.1 202.5H347.7V209.3H341.1ZM528.1 202.5H534.7V209.3H528.1ZM670.0 202.5H676.6V209.3H670.0ZM721.6 202.5H728.2V209.3H721.6ZM1108.5 202.5H1115.1V209.3H1108.5ZM276.6 209.0H283.2V215.7H276.6ZM296.0 209.0H309.0V215.7H296.0ZM315.3 209.0H321.9V215.7H315.3ZM341.1 209.0H347.7V215.7H341.1ZM586.2 209.0H599.2V215.7H586.2ZM695.8 209.0H702.4V215.7H695.8ZM1056.9 209.0H1069.9V215.7H1056.9ZM1076.2 209.0H1102.2V215.7H1076.2ZM276.6 215.4H302.6V222.2H276.6ZM315.3 215.4H321.9V222.2H315.3ZM276.6 221.9H289.7V228.6H276.6ZM154.1 228.3H160.7V235.1H154.1ZM283.1 228.3H289.7V235.1H283.1ZM160.6 234.8H167.2V241.5H160.6ZM283.1 234.8H289.7V241.5H283.1ZM392.7 247.7H399.3V254.4H392.7ZM1192.3 254.1H1198.9V260.8H1192.3ZM347.6 267.0H367.1V273.7H347.6ZM863.4 273.4H870.0V280.2H863.4ZM463.6 292.8H470.2V299.5H463.6ZM837.6 299.2H844.2V306.0H837.6ZM1134.3 299.2H1140.9V306.0H1134.3ZM760.3 305.7H786.2V312.4H760.3ZM844.1 305.7H850.7V312.4H844.1ZM747.4 312.1H754.0V318.9H747.4ZM799.0 312.1H805.6V318.9H799.0ZM869.9 312.1H876.5V318.9H869.9ZM940.8 318.6H947.4V325.3H940.8ZM805.4 325.0H812.0V331.8H805.4ZM728.0 337.9H734.6V344.7H728.0ZM721.6 344.4H728.2V351.1H721.6ZM876.3 344.4H882.9V351.1H876.3ZM631.3 350.8H637.9V357.6H631.3ZM715.1 350.8H721.7V357.6H715.1ZM811.9 350.8H818.5V357.6H811.9ZM869.9 350.8H876.5V357.6H869.9ZM624.9 357.3H631.4V364.0H624.9ZM612.0 363.7H618.6V370.5H612.0ZM670.0 363.7H683.0V370.5H670.0ZM708.7 363.7H715.3V370.5H708.7ZM534.6 370.2H547.6V376.9H534.6ZM818.3 370.2H824.9V376.9H818.3ZM405.6 376.6H412.2V383.4H405.6ZM515.2 376.6H528.3V383.4H515.2ZM560.4 376.6H567.0V383.4H560.4ZM818.3 376.6H824.9V383.4H818.3ZM521.7 383.1H528.3V389.8H521.7ZM566.8 383.1H573.4V389.8H566.8ZM992.4 383.1H999.0V389.8H992.4ZM528.1 389.5H534.7V396.3H528.1ZM534.6 396.0H541.2V402.7H534.6ZM921.5 396.0H928.1V402.7H921.5ZM940.8 396.0H947.4V402.7H940.8ZM1011.8 396.0H1018.4V402.7H1011.8ZM270.2 402.4H276.8V409.2H270.2ZM308.9 402.4H315.5V409.2H308.9ZM483.0 402.4H489.6V409.2H483.0ZM547.5 402.4H554.1V409.2H547.5ZM953.7 402.4H960.3V409.2H953.7ZM257.3 408.9H263.9V415.6H257.3ZM321.8 408.9H328.4V415.6H321.8ZM412.1 408.9H418.7V415.6H412.1ZM463.6 408.9H470.2V415.6H463.6ZM553.9 408.9H560.5V415.6H553.9ZM902.1 408.9H908.7V415.6H902.1ZM960.2 408.9H966.8V415.6H960.2ZM457.2 415.3H463.8V422.1H457.2ZM495.9 415.3H502.5V422.1H495.9ZM895.7 415.3H902.3V422.1H895.7ZM412.1 421.8H418.7V428.5H412.1ZM457.2 421.8H463.8V428.5H457.2ZM489.4 421.8H496.0V428.5H489.4ZM553.9 421.8H560.5V428.5H553.9ZM889.2 421.8H895.8V428.5H889.2ZM244.4 428.2H251.0V435.0H244.4ZM431.4 428.2H438.0V435.0H431.4ZM463.6 428.2H489.6V435.0H463.6ZM547.5 428.2H554.1V435.0H547.5ZM238.0 434.7H244.6V441.4H238.0ZM347.6 434.7H354.2V441.4H347.6ZM534.6 434.7H541.2V441.4H534.6ZM882.8 434.7H889.4V441.4H882.8ZM225.1 441.1H244.6V447.8H225.1ZM347.6 441.1H354.2V447.8H347.6ZM463.6 441.1H476.7V447.8H463.6ZM154.1 447.6H205.9V454.3H154.1ZM476.5 447.6H489.6V454.3H476.5ZM876.3 447.6H882.9V454.3H876.3ZM244.4 454.0H302.6V460.7H244.4ZM489.4 454.0H496.0V460.7H489.4ZM521.7 454.0H528.3V460.7H521.7ZM876.3 454.0H915.2V460.7H876.3ZM231.5 460.4H251.0V467.2H231.5ZM263.7 460.4H296.1V467.2H263.7ZM347.6 460.4H354.2V467.2H347.6ZM502.3 460.4H508.9V467.2H502.3ZM902.1 460.4H915.2V467.2H902.1ZM998.9 460.4H1005.5V467.2H998.9ZM225.1 466.9H231.7V473.6H225.1ZM257.3 466.9H270.3V473.6H257.3ZM354.0 466.9H360.6V473.6H354.0ZM476.5 466.9H483.1V473.6H476.5ZM895.7 466.9H908.7V473.6H895.7ZM998.9 466.9H1005.5V473.6H998.9ZM1031.1 466.9H1037.7V473.6H1031.1ZM218.6 473.3H225.2V480.1H218.6ZM257.3 473.3H263.9V480.1H257.3ZM354.0 473.3H367.1V480.1H354.0ZM476.5 473.3H483.1V480.1H476.5ZM895.7 473.3H902.3V480.1H895.7ZM998.9 473.3H1005.5V480.1H998.9ZM1044.0 473.3H1057.0V480.1H1044.0ZM321.8 479.8H341.3V486.5H321.8ZM934.4 479.8H941.0V486.5H934.4ZM992.4 479.8H1005.5V486.5H992.4ZM1050.4 479.8H1063.5V486.5H1050.4ZM199.3 486.2H205.9V493.0H199.3ZM960.2 486.2H999.0V493.0H960.2ZM1056.9 486.2H1069.9V493.0H1056.9ZM1069.8 492.7H1076.4V499.4H1069.8ZM1134.3 492.7H1147.3V499.4H1134.3ZM179.9 499.1H186.5V505.9H179.9ZM1037.5 499.1H1076.4V505.9H1037.5ZM167.0 505.6H173.6V512.3H167.0ZM1031.1 505.6H1044.1V512.3H1031.1ZM1069.8 505.6H1108.6V512.3H1069.8ZM1295.5 505.6H1308.5V512.3H1295.5ZM160.6 512.0H167.2V518.8H160.6ZM1031.1 512.0H1044.1V518.8H1031.1ZM1076.2 512.0H1082.8V518.8H1076.2ZM1102.0 512.0H1115.1V518.8H1102.0ZM1289.0 512.0H1295.6V518.8H1289.0ZM1050.4 518.5H1102.2V525.2H1050.4ZM1289.0 518.5H1295.6V525.2H1289.0ZM173.5 524.9H199.4V531.7H173.5ZM1076.2 524.9H1082.8V531.7H1076.2ZM1289.0 524.9H1295.6V531.7H1289.0ZM199.3 531.4H205.9V538.1H199.3ZM1076.2 531.4H1082.8V538.1H1076.2ZM1289.0 531.4H1295.6V538.1H1289.0ZM199.3 537.8H205.9V544.6H199.3ZM1076.2 537.8H1082.8V544.6H1076.2ZM1289.0 537.8H1295.6V544.6H1289.0Z"/>
<path fill="#d1ff26" d="M321.8 60.7H328.4V67.4H321.8ZM463.6 60.7H470.2V67.4H463.6ZM1224.5 60.7H1231.1V67.4H1224.5ZM321.8 67.1H328.4V73.8H321.8ZM463.6 67.1H470.2V73.8H463.6ZM1224.5 67.1H1231.1V73.8H1224.5ZM321.8 73.5H328.4V80.3H321.8ZM463.6 73.5H470.2V80.3H463.6ZM740.9 73.5H747.5V80.3H740.9ZM1218.1 73.5H1224.7V80.3H1218.1ZM321.8 80.0H328.4V86.7H321.8ZM463.6 80.0H470.2V86.7H463.6ZM728.0 80.0H734.6V86.7H728.0ZM463.6 86.4H470.2V93.2H463.6ZM1205.2 86.4H1211.8V93.2H1205.2ZM463.6 92.9H470.2V99.6H463.6ZM1198.8 92.9H1205.4V99.6H1198.8ZM463.6 99.3H470.2V106.1H463.6ZM547.5 99.3H554.1V106.1H547.5ZM463.6 105.8H470.2V112.5H463.6ZM528.1 105.8H534.7V112.5H528.1ZM1185.9 105.8H1192.5V112.5H1185.9ZM463.6 112.2H470.2V119.0H463.6ZM528.1 112.2H534.7V119.0H528.1ZM463.6 118.7H470.2V125.4H463.6ZM528.1 118.7H534.7V125.4H528.1ZM463.6 125.1H470.2V131.9H463.6ZM528.1 125.1H534.7V131.9H528.1ZM463.6 131.6H470.2V138.3H463.6ZM528.1 131.6H534.7V138.3H528.1ZM573.3 131.6H579.9V138.3H573.3ZM702.2 131.6H708.8V138.3H702.2ZM1179.4 131.6H1186.0V138.3H1179.4ZM463.6 138.0H470.2V144.8H463.6ZM528.1 138.0H534.7V144.8H528.1ZM463.6 144.5H470.2V151.2H463.6ZM528.1 144.5H534.7V151.2H528.1ZM1166.5 144.5H1173.1V151.2H1166.5ZM463.6 150.9H470.2V157.7H463.6ZM528.1 150.9H534.7V157.7H528.1ZM592.6 150.9H599.2V157.7H592.6ZM1024.6 150.9H1031.2V157.7H1024.6ZM463.6 157.4H470.2V164.1H463.6ZM528.1 157.4H534.7V164.1H528.1ZM599.1 157.4H605.7V164.1H599.1ZM902.1 157.4H908.7V164.1H902.1ZM463.6 163.8H470.2V170.6H463.6ZM528.1 163.8H534.7V170.6H528.1ZM676.4 163.8H683.0V170.6H676.4ZM1011.8 163.8H1018.4V170.6H1011.8ZM1037.5 163.8H1044.1V170.6H1037.5ZM321.8 170.3H328.4V177.0H321.8ZM528.1 170.3H534.7V177.0H528.1ZM676.4 170.3H683.0V177.0H676.4ZM908.6 170.3H915.2V177.0H908.6ZM1005.3 170.3H1011.9V177.0H1005.3ZM1140.7 170.3H1147.3V177.0H1140.7ZM334.7 176.7H341.3V183.5H334.7ZM437.9 176.7H463.8V183.5H437.9ZM470.1 176.7H483.1V183.5H470.1ZM528.1 176.7H534.7V183.5H528.1ZM612.0 176.7H618.6V183.5H612.0ZM676.4 176.7H683.0V183.5H676.4ZM308.9 183.2H315.5V189.9H308.9ZM399.2 183.2H412.2V189.9H399.2ZM463.6 183.2H470.2V189.9H463.6ZM483.0 183.2H489.6V189.9H483.0ZM528.1 183.2H534.7V189.9H528.1ZM618.4 183.2H625.0V189.9H618.4ZM657.1 183.2H683.0V189.9H657.1ZM308.9 189.6H315.5V196.4H308.9ZM341.1 189.6H347.7V196.4H341.1ZM631.3 189.6H637.9V196.4H631.3ZM657.1 189.6H670.1V196.4H657.1ZM682.9 189.6H689.5V196.4H682.9ZM792.5 189.6H805.6V196.4H792.5ZM308.9 196.1H315.5V202.8H308.9ZM341.1 196.1H347.7V202.8H341.1ZM644.2 196.1H663.7V202.8H644.2ZM682.9 196.1H689.5V202.8H682.9ZM747.4 196.1H754.0V202.8H747.4ZM308.9 202.5H315.5V209.3H308.9ZM347.6 202.5H354.2V209.3H347.6ZM373.4 202.5H380.0V209.3H373.4ZM534.6 202.5H541.2V209.3H534.6ZM682.9 202.5H689.5V209.3H682.9ZM715.1 202.5H721.7V209.3H715.1ZM308.9 209.0H315.5V215.7H308.9ZM347.6 209.0H354.2V215.7H347.6ZM360.5 209.0H373.5V215.7H360.5ZM553.9 209.0H560.5V215.7H553.9ZM566.8 209.0H586.3V215.7H566.8ZM599.1 209.0H612.1V215.7H599.1ZM302.4 215.4H315.5V222.2H302.4ZM334.7 215.4H341.3V222.2H334.7ZM354.0 215.4H360.6V222.2H354.0ZM289.5 221.9H296.1V228.6H289.5ZM334.7 221.9H347.7V228.6H334.7ZM321.8 228.3H334.8V235.1H321.8ZM154.1 234.8H160.7V241.5H154.1ZM160.6 241.2H167.2V248.0H160.6ZM302.4 241.2H309.0V248.0H302.4ZM373.4 241.2H386.4V248.0H373.4ZM160.6 247.7H167.2V254.4H160.6ZM283.1 247.7H289.7V254.4H283.1ZM160.6 254.1H167.2V260.8H160.6ZM160.6 260.5H167.2V267.3H160.6ZM399.2 260.5H405.8V267.3H399.2ZM160.6 267.0H167.2V273.7H160.6ZM160.6 273.4H167.2V280.2H160.6ZM392.7 273.4H399.3V280.2H392.7ZM160.6 279.9H167.2V286.6H160.6ZM160.6 286.3H167.2V293.1H160.6ZM270.2 286.3H315.5V293.1H270.2ZM850.5 286.3H857.1V293.1H850.5ZM895.7 286.3H902.3V293.1H895.7ZM160.6 292.8H167.2V299.5H160.6ZM908.6 292.8H915.2V299.5H908.6ZM1134.3 292.8H1140.9V299.5H1134.3ZM160.6 299.2H167.2V306.0H160.6ZM844.1 299.2H850.7V306.0H844.1ZM850.5 305.7H863.6V312.4H850.5ZM347.6 312.1H354.2V318.9H347.6ZM934.4 312.1H941.0V318.9H934.4ZM1147.2 312.1H1153.8V318.9H1147.2ZM1256.8 312.1H1263.4V318.9H1256.8ZM1231.0 318.6H1237.6V325.3H1231.0ZM321.8 325.0H328.4V331.8H321.8ZM740.9 325.0H747.5V331.8H740.9ZM1218.1 325.0H1224.7V331.8H1218.1ZM321.8 331.5H328.4V338.2H321.8ZM341.1 331.5H347.7V338.2H341.1ZM805.4 331.5H812.0V338.2H805.4ZM1166.5 331.5H1173.1V338.2H1166.5ZM734.5 337.9H741.1V344.7H734.5ZM882.8 337.9H889.4V344.7H882.8ZM966.6 337.9H973.2V344.7H966.6ZM1173.0 337.9H1186.0V344.7H1173.0ZM1205.2 337.9H1211.8V344.7H1205.2ZM728.0 344.4H734.6V351.1H728.0ZM1179.4 344.4H1205.4V351.1H1179.4ZM347.6 350.8H354.2V357.6H347.6ZM637.7 350.8H644.3V357.6H637.7ZM721.6 350.8H728.2V357.6H721.6ZM979.5 350.8H986.1V357.6H979.5ZM354.0 357.3H360.6V364.0H354.0ZM644.2 357.3H650.8V364.0H644.2ZM715.1 357.3H728.2V364.0H715.1ZM811.9 357.3H818.5V364.0H811.9ZM869.9 357.3H876.5V364.0H869.9ZM360.5 363.7H367.1V370.5H360.5ZM657.1 363.7H670.1V370.5H657.1ZM715.1 363.7H721.7V370.5H715.1ZM811.9 363.7H818.5V370.5H811.9ZM857.0 363.7H863.6V370.5H857.0ZM392.7 370.2H399.3V376.9H392.7ZM605.5 370.2H612.1V376.9H605.5ZM695.8 370.2H721.7V376.9H695.8ZM811.9 370.2H818.5V376.9H811.9ZM844.1 370.2H850.7V376.9H844.1ZM399.2 376.6H405.8V383.4H399.2ZM528.1 376.6H534.7V383.4H528.1ZM553.9 376.6H560.5V383.4H553.9ZM715.1 376.6H721.7V383.4H715.1ZM811.9 376.6H818.5V383.4H811.9ZM837.6 376.6H844.2V383.4H837.6ZM927.9 376.6H934.5V383.4H927.9ZM986.0 376.6H992.6V383.4H986.0ZM528.1 383.1H534.7V389.8H528.1ZM586.2 383.1H592.8V389.8H586.2ZM927.9 383.1H941.0V389.8H927.9ZM534.6 389.5H541.2V396.3H534.6ZM573.3 389.5H586.3V396.3H573.3ZM927.9 389.5H947.4V396.3H927.9ZM998.9 389.5H1005.5V396.3H998.9ZM289.5 396.0H296.1V402.7H289.5ZM405.6 396.0H412.2V402.7H405.6ZM541.0 396.0H554.1V402.7H541.0ZM947.3 396.0H953.9V402.7H947.3ZM412.1 402.4H418.7V409.2H412.1ZM553.9 402.4H560.5V409.2H553.9ZM960.2 402.4H966.8V409.2H960.2ZM470.1 408.9H496.0V415.6H470.1ZM560.4 408.9H567.0V415.6H560.4ZM998.9 408.9H1005.5V415.6H998.9ZM334.7 415.3H341.3V422.1H334.7ZM489.4 415.3H496.0V422.1H489.4ZM560.4 415.3H567.0V422.1H560.4ZM966.6 415.3H973.2V422.1H966.6ZM998.9 415.3H1005.5V422.1H998.9ZM244.4 421.8H251.0V428.5H244.4ZM341.1 421.8H347.7V428.5H341.1ZM463.6 421.8H470.2V428.5H463.6ZM483.0 421.8H489.6V428.5H483.0ZM973.1 421.8H979.7V428.5H973.1ZM1005.3 421.8H1011.9V428.5H1005.3ZM418.5 428.2H425.1V435.0H418.5ZM437.9 428.2H463.8V435.0H437.9ZM553.9 428.2H560.5V435.0H553.9ZM231.5 434.7H238.1V441.4H231.5ZM457.2 434.7H463.8V441.4H457.2ZM541.0 434.7H547.6V441.4H541.0ZM1024.6 434.7H1031.2V441.4H1024.6ZM212.2 441.1H225.2V447.8H212.2ZM541.0 441.1H547.6V447.8H541.0ZM347.6 447.6H354.2V454.3H347.6ZM470.1 447.6H476.7V454.3H470.1ZM534.6 447.6H541.2V454.3H534.6ZM998.9 447.6H1005.5V454.3H998.9ZM347.6 454.0H354.2V460.7H347.6ZM425.0 454.0H431.6V460.7H425.0ZM476.5 454.0H489.6V460.7H476.5ZM869.9 454.0H876.5V460.7H869.9ZM1005.3 454.0H1011.9V460.7H1005.3ZM250.8 460.4H263.9V467.2H250.8ZM354.0 460.4H360.6V467.2H354.0ZM476.5 460.4H483.1V467.2H476.5ZM508.8 460.4H515.4V467.2H508.8ZM869.9 460.4H902.3V467.2H869.9ZM1005.3 460.4H1018.4V467.2H1005.3ZM231.5 466.9H257.4V473.6H231.5ZM360.5 466.9H367.1V473.6H360.5ZM495.9 466.9H502.5V473.6H495.9ZM869.9 466.9H895.8V473.6H869.9ZM1005.3 466.9H1031.2V473.6H1005.3ZM250.8 473.3H257.4V480.1H250.8ZM366.9 473.3H373.5V480.1H366.9ZM560.4 473.3H567.0V480.1H560.4ZM869.9 473.3H895.8V480.1H869.9ZM1005.3 473.3H1044.1V480.1H1005.3ZM212.2 479.8H218.8V486.5H212.2ZM250.8 479.8H270.3V486.5H250.8ZM302.4 479.8H321.9V486.5H302.4ZM341.1 479.8H354.2V486.5H341.1ZM483.0 479.8H489.6V486.5H483.0ZM908.6 479.8H934.5V486.5H908.6ZM1005.3 479.8H1050.6V486.5H1005.3ZM205.7 486.2H212.3V493.0H205.7ZM250.8 486.2H257.4V493.0H250.8ZM947.3 486.2H960.3V493.0H947.3ZM998.9 486.2H1057.0V493.0H998.9ZM192.8 492.7H199.4V499.4H192.8ZM250.8 492.7H257.4V499.4H250.8ZM966.6 492.7H1069.9V499.4H966.6ZM186.4 499.1H193.0V505.9H186.4ZM973.1 499.1H1037.7V505.9H973.1ZM173.5 505.6H186.5V512.3H173.5ZM979.5 505.6H1031.2V512.3H979.5ZM167.0 512.0H173.6V518.8H167.0ZM212.2 512.0H218.8V518.8H212.2ZM986.0 512.0H1031.2V518.8H986.0ZM1082.7 512.0H1102.2V518.8H1082.7ZM1295.5 512.0H1308.5V518.8H1295.5ZM167.0 518.5H173.6V525.2H167.0ZM1044.0 518.5H1050.6V525.2H1044.0ZM1295.5 518.5H1308.5V525.2H1295.5ZM199.3 524.9H205.9V531.7H199.3ZM1069.8 524.9H1076.4V531.7H1069.8ZM1295.5 524.9H1308.5V531.7H1295.5ZM205.7 531.4H212.3V538.1H205.7ZM1069.8 531.4H1076.4V538.1H1069.8ZM1295.5 531.4H1308.5V538.1H1295.5ZM205.7 537.8H212.3V544.6H205.7ZM1069.8 537.8H1076.4V544.6H1069.8ZM1295.5 537.8H1308.5V544.6H1295.5Z"/>
<path fill="#e2ff15" d="M392.7 60.7H399.3V67.4H392.7ZM747.4 60.7H754.0V67.4H747.4ZM392.7 67.1H399.3V73.8H392.7ZM747.4 67.1H754.0V73.8H747.4ZM392.7 73.5H399.3V80.3H392.7ZM392.7 80.0H399.3V86.7H392.7ZM1205.2 80.0H1211.8V86.7H1205.2ZM321.8 86.4H328.4V93.2H321.8ZM392.7 86.4H399.3V93.2H392.7ZM321.8 92.9H328.4V99.6H321.8ZM392.7 92.9H399.3V99.6H392.7ZM721.6 92.9H728.2V99.6H721.6ZM1192.3 92.9H1198.9V99.6H1192.3ZM321.8 99.3H328.4V106.1H321.8ZM392.7 99.3H399.3V106.1H392.7ZM534.6 99.3H541.2V106.1H534.6ZM1185.9 99.3H1192.5V106.1H1185.9ZM321.8 105.8H328.4V112.5H321.8ZM392.7 105.8H399.3V112.5H392.7ZM321.8 112.2H328.4V119.0H321.8ZM392.7 112.2H399.3V119.0H392.7ZM553.9 112.2H560.5V119.0H553.9ZM321.8 118.7H328.4V125.4H321.8ZM392.7 118.7H399.3V125.4H392.7ZM321.8 125.1H328.4V131.9H321.8ZM392.7 125.1H399.3V131.9H392.7ZM321.8 131.6H328.4V138.3H321.8ZM392.7 131.6H399.3V138.3H392.7ZM321.8 138.0H328.4V144.8H321.8ZM392.7 138.0H399.3V144.8H392.7ZM579.7 138.0H586.3V144.8H579.7ZM863.4 138.0H870.0V144.8H863.4ZM882.8 138.0H889.4V144.8H882.8ZM1166.5 138.0H1173.1V144.8H1166.5ZM321.8 144.5H328.4V151.2H321.8ZM392.7 144.5H399.3V151.2H392.7ZM586.2 144.5H592.8V151.2H586.2ZM321.8 150.9H328.4V157.7H321.8ZM392.7 150.9H399.3V157.7H392.7ZM902.1 150.9H908.7V157.7H902.1ZM1153.6 150.9H1160.2V157.7H1153.6ZM321.8 157.4H328.4V164.1H321.8ZM392.7 157.4H399.3V164.1H392.7ZM592.6 157.4H599.2V164.1H592.6ZM682.9 157.4H689.5V164.1H682.9ZM1147.2 157.4H1153.8V164.1H1147.2ZM321.8 163.8H328.4V170.6H321.8ZM392.7 163.8H399.3V170.6H392.7ZM605.5 163.8H612.1V170.6H605.5ZM328.2 170.3H341.3V177.0H328.2ZM392.7 170.3H399.3V177.0H392.7ZM605.5 170.3H612.1V177.0H605.5ZM773.2 170.3H779.8V177.0H773.2ZM1134.3 170.3H1140.9V177.0H1134.3ZM341.1 176.7H347.7V183.5H341.1ZM392.7 176.7H399.3V183.5H392.7ZM463.6 176.7H470.2V183.5H463.6ZM605.5 176.7H612.1V183.5H605.5ZM682.9 176.7H689.5V183.5H682.9ZM766.7 176.7H773.3V183.5H766.7ZM824.8 176.7H831.3V183.5H824.8ZM1127.8 176.7H1134.4V183.5H1127.8ZM341.1 183.2H347.7V189.9H341.1ZM392.7 183.2H399.3V189.9H392.7ZM612.0 183.2H618.6V189.9H612.0ZM682.9 183.2H695.9V189.9H682.9ZM786.1 183.2H792.7V189.9H786.1ZM818.3 183.2H824.9V189.9H818.3ZM347.6 189.6H354.2V196.4H347.6ZM373.4 189.6H399.3V196.4H373.4ZM528.1 189.6H534.7V196.4H528.1ZM624.9 189.6H631.4V196.4H624.9ZM689.3 189.6H695.9V196.4H689.3ZM760.3 189.6H766.9V196.4H760.3ZM1114.9 189.6H1121.5V196.4H1114.9ZM347.6 196.1H360.6V202.8H347.6ZM373.4 196.1H380.0V202.8H373.4ZM637.7 196.1H644.3V202.8H637.7ZM689.3 196.1H695.9V202.8H689.3ZM740.9 196.1H747.5V202.8H740.9ZM1108.5 196.1H1115.1V202.8H1108.5ZM354.0 202.5H360.6V209.3H354.0ZM689.3 202.5H695.9V209.3H689.3ZM702.2 202.5H715.3V209.3H702.2ZM560.4 209.0H567.0V215.7H560.4ZM612.0 209.0H618.6V215.7H612.0ZM650.6 209.0H695.9V215.7H650.6ZM1205.2 247.7H1211.8V254.4H1205.2ZM341.1 267.0H347.7V273.7H341.1ZM1185.9 267.0H1192.5V273.7H1185.9ZM347.6 273.4H373.5V280.2H347.6ZM1140.7 273.4H1186.0V280.2H1140.7ZM244.4 286.3H251.0V293.1H244.4ZM263.7 286.3H270.3V293.1H263.7ZM1134.3 286.3H1140.9V293.1H1134.3ZM238.0 292.8H244.6V299.5H238.0ZM850.5 292.8H857.1V299.5H850.5ZM915.0 299.2H921.6V306.0H915.0ZM863.4 305.7H870.0V312.4H863.4ZM1140.7 305.7H1147.3V312.4H1140.7ZM753.8 312.1H760.4V318.9H753.8ZM786.1 312.1H799.1V318.9H786.1ZM876.3 312.1H882.9V318.9H876.3ZM747.4 318.6H754.0V325.3H747.4ZM799.0 318.6H805.6V325.3H799.0ZM1153.6 318.6H1160.2V325.3H1153.6ZM882.8 325.0H889.4V331.8H882.8ZM740.9 331.5H747.5V338.2H740.9ZM882.8 331.5H889.4V338.2H882.8ZM805.4 337.9H812.0V344.7H805.4ZM734.5 344.4H741.1V351.1H734.5ZM805.4 344.4H812.0V351.1H805.4ZM973.1 344.4H979.7V351.1H973.1ZM728.0 350.8H734.6V357.6H728.0ZM876.3 350.8H882.9V357.6H876.3ZM631.3 357.3H637.9V364.0H631.3ZM728.0 357.3H734.6V364.0H728.0ZM618.4 363.7H625.0V370.5H618.4ZM721.6 363.7H728.2V370.5H721.6ZM689.3 370.2H695.9V376.9H689.3ZM721.6 370.2H728.2V376.9H721.6ZM850.5 370.2H857.1V376.9H850.5ZM927.9 370.2H934.5V376.9H927.9ZM534.6 376.6H541.2V383.4H534.6ZM547.5 376.6H554.1V383.4H547.5ZM592.6 376.6H599.2V383.4H592.6ZM702.2 376.6H715.3V383.4H702.2ZM721.6 376.6H728.2V383.4H721.6ZM934.4 376.6H941.0V383.4H934.4ZM534.6 383.1H567.0V389.8H534.6ZM715.1 383.1H721.7V389.8H715.1ZM811.9 383.1H837.8V389.8H811.9ZM940.8 383.1H947.4V389.8H940.8ZM392.7 389.5H405.8V396.3H392.7ZM541.0 389.5H573.4V396.3H541.0ZM586.2 389.5H592.8V396.3H586.2ZM947.3 389.5H953.9V396.3H947.3ZM296.0 396.0H302.6V402.7H296.0ZM399.2 396.0H405.8V402.7H399.2ZM553.9 396.0H560.5V402.7H553.9ZM915.0 396.0H921.6V402.7H915.0ZM953.7 396.0H966.8V402.7H953.7ZM315.3 402.4H321.9V409.2H315.3ZM399.2 402.4H412.2V409.2H399.2ZM560.4 402.4H567.0V409.2H560.4ZM908.6 402.4H915.2V409.2H908.6ZM1005.3 402.4H1011.9V409.2H1005.3ZM250.8 408.9H257.4V415.6H250.8ZM328.2 408.9H334.8V415.6H328.2ZM405.6 408.9H412.2V415.6H405.6ZM566.8 408.9H573.4V415.6H566.8ZM966.6 408.9H973.2V415.6H966.6ZM463.6 415.3H470.2V422.1H463.6ZM566.8 415.3H579.9V422.1H566.8ZM889.2 415.3H895.8V422.1H889.2ZM470.1 421.8H483.1V428.5H470.1ZM560.4 421.8H567.0V428.5H560.4ZM238.0 428.2H244.6V435.0H238.0ZM347.6 428.2H354.2V435.0H347.6ZM412.1 428.2H418.7V435.0H412.1ZM560.4 428.2H567.0V435.0H560.4ZM218.6 434.7H231.7V441.4H218.6ZM547.5 434.7H554.1V441.4H547.5ZM205.7 441.1H212.3V447.8H205.7ZM354.0 441.1H360.6V447.8H354.0ZM457.2 441.1H463.8V447.8H457.2ZM876.3 441.1H882.9V447.8H876.3ZM354.0 447.6H360.6V454.3H354.0ZM463.6 447.6H470.2V454.3H463.6ZM869.9 447.6H876.5V454.3H869.9ZM354.0 454.0H367.1V460.7H354.0ZM470.1 454.0H476.7V460.7H470.1ZM528.1 454.0H534.7V460.7H528.1ZM1011.8 454.0H1018.4V460.7H1011.8ZM360.5 460.4H367.1V467.2H360.5ZM470.1 460.4H476.7V467.2H470.1ZM515.2 460.4H528.3V467.2H515.2ZM863.4 460.4H870.0V467.2H863.4ZM1018.2 460.4H1031.2V467.2H1018.2ZM366.9 466.9H373.5V473.6H366.9ZM470.1 466.9H476.7V473.6H470.1ZM560.4 466.9H567.0V473.6H560.4ZM863.4 466.9H870.0V473.6H863.4ZM225.1 473.3H231.7V480.1H225.1ZM238.0 473.3H251.0V480.1H238.0ZM470.1 473.3H476.7V480.1H470.1ZM553.9 473.3H560.5V480.1H553.9ZM566.8 473.3H573.4V480.1H566.8ZM863.4 473.3H870.0V480.1H863.4ZM218.6 479.8H225.2V486.5H218.6ZM244.4 479.8H251.0V486.5H244.4ZM270.2 479.8H302.6V486.5H270.2ZM354.0 479.8H360.6V486.5H354.0ZM476.5 479.8H483.1V486.5H476.5ZM489.4 479.8H496.0V486.5H489.4ZM553.9 479.8H573.4V486.5H553.9ZM902.1 479.8H908.7V486.5H902.1ZM244.4 486.2H251.0V493.0H244.4ZM257.3 486.2H263.9V493.0H257.3ZM560.4 486.2H567.0V493.0H560.4ZM934.4 486.2H947.4V493.0H934.4ZM199.3 492.7H205.9V499.4H199.3ZM953.7 492.7H966.8V499.4H953.7ZM192.8 499.1H205.9V505.9H192.8ZM960.2 499.1H973.2V505.9H960.2ZM186.4 505.6H212.3V512.3H186.4ZM966.6 505.6H979.7V512.3H966.6ZM199.3 512.0H212.3V518.8H199.3ZM973.1 512.0H986.1V518.8H973.1ZM173.5 518.5H218.8V525.2H173.5ZM986.0 518.5H992.6V525.2H986.0ZM1031.1 518.5H1044.1V525.2H1031.1ZM205.7 524.9H212.3V531.7H205.7ZM1056.9 524.9H1069.9V531.7H1056.9Z"/>
<path fill="#f3f903" d="M328.2 60.7H392.9V67.4H328.2ZM889.2 60.7H915.2V67.4H889.2ZM328.2 67.1H392.9V73.8H328.2ZM889.2 67.1H915.2V73.8H889.2ZM328.2 73.5H392.9V80.3H328.2ZM747.4 73.5H754.0V80.3H747.4ZM889.2 73.5H915.2V80.3H889.2ZM1211.7 73.5H1218.2V80.3H1211.7ZM1243.9 73.5H1250.5V80.3H1243.9ZM328.2 80.0H392.9V86.7H328.2ZM889.2 80.0H915.2V86.7H889.2ZM1231.0 80.0H1237.6V86.7H1231.0ZM328.2 86.4H392.9V93.2H328.2ZM889.2 86.4H915.2V93.2H889.2ZM328.2 92.9H392.9V99.6H328.2ZM889.2 92.9H915.2V99.6H889.2ZM328.2 99.3H392.9V106.1H328.2ZM715.1 99.3H721.7V106.1H715.1ZM889.2 99.3H915.2V106.1H889.2ZM328.2 105.8H392.9V112.5H328.2ZM708.7 105.8H715.3V112.5H708.7ZM889.2 105.8H915.2V112.5H889.2ZM328.2 112.2H392.9V119.0H328.2ZM708.7 112.2H715.3V119.0H708.7ZM889.2 112.2H915.2V119.0H889.2ZM328.2 118.7H392.9V125.4H328.2ZM560.4 118.7H567.0V125.4H560.4ZM708.7 118.7H715.3V125.4H708.7ZM889.2 118.7H915.2V125.4H889.2ZM328.2 125.1H392.9V131.9H328.2ZM566.8 125.1H573.4V131.9H566.8ZM708.7 125.1H715.3V131.9H708.7ZM889.2 125.1H915.2V131.9H889.2ZM328.2 131.6H392.9V138.3H328.2ZM876.3 131.6H915.2V138.3H876.3ZM1173.0 131.6H1179.6V138.3H1173.0ZM328.2 138.0H392.9V144.8H328.2ZM695.8 138.0H702.4V144.8H695.8ZM889.2 138.0H915.2V144.8H889.2ZM328.2 144.5H392.9V151.2H328.2ZM689.3 144.5H695.9V151.2H689.3ZM857.0 144.5H863.6V151.2H857.0ZM889.2 144.5H915.2V151.2H889.2ZM328.2 150.9H392.9V157.7H328.2ZM586.2 150.9H592.8V157.7H586.2ZM857.0 150.9H863.6V157.7H857.0ZM908.6 150.9H915.2V157.7H908.6ZM1018.2 150.9H1024.8V157.7H1018.2ZM1031.1 150.9H1037.7V157.7H1031.1ZM328.2 157.4H392.9V164.1H328.2ZM857.0 157.4H863.6V164.1H857.0ZM908.6 157.4H915.2V164.1H908.6ZM1037.5 157.4H1044.1V164.1H1037.5ZM328.2 163.8H392.9V170.6H328.2ZM599.1 163.8H605.7V170.6H599.1ZM682.9 163.8H689.5V170.6H682.9ZM857.0 163.8H863.6V170.6H857.0ZM915.0 163.8H921.6V170.6H915.0ZM341.1 170.3H392.9V177.0H341.1ZM599.1 170.3H605.7V177.0H599.1ZM682.9 170.3H689.5V177.0H682.9ZM831.2 170.3H857.1V177.0H831.2ZM347.6 176.7H367.1V183.5H347.6ZM386.3 176.7H392.9V183.5H386.3ZM599.1 176.7H605.7V183.5H599.1ZM689.3 176.7H695.9V183.5H689.3ZM347.6 183.2H367.1V189.9H347.6ZM379.8 183.2H392.9V189.9H379.8ZM599.1 183.2H605.7V189.9H599.1ZM773.2 183.2H779.8V189.9H773.2ZM354.0 189.6H373.5V196.4H354.0ZM612.0 189.6H625.0V196.4H612.0ZM695.8 189.6H702.4V196.4H695.8ZM360.5 196.1H373.5V202.8H360.5ZM534.6 196.1H541.2V202.8H534.6ZM631.3 196.1H637.9V202.8H631.3ZM695.8 196.1H715.3V202.8H695.8ZM541.0 202.5H547.6V209.3H541.0ZM637.7 202.5H644.3V209.3H637.7ZM695.8 202.5H702.4V209.3H695.8ZM1050.4 202.5H1057.0V209.3H1050.4ZM354.0 209.0H360.6V215.7H354.0ZM618.4 209.0H650.8V215.7H618.4ZM1224.5 209.0H1231.1V215.7H1224.5ZM1211.7 221.9H1218.2V228.6H1211.7ZM315.3 228.3H321.9V235.1H315.3ZM379.8 228.3H386.4V235.1H379.8ZM1095.6 228.3H1102.2V235.1H1095.6ZM154.1 241.2H160.7V248.0H154.1ZM154.1 247.7H160.7V254.4H154.1ZM373.4 247.7H380.0V254.4H373.4ZM386.3 247.7H392.9V254.4H386.3ZM154.1 254.1H160.7V260.8H154.1ZM296.0 254.1H302.6V260.8H296.0ZM373.4 254.1H386.4V260.8H373.4ZM154.1 260.5H160.7V267.3H154.1ZM302.4 260.5H309.0V267.3H302.4ZM154.1 267.0H160.7V273.7H154.1ZM321.8 267.0H328.4V273.7H321.8ZM334.7 267.0H341.3V273.7H334.7ZM154.1 273.4H160.7V280.2H154.1ZM308.9 273.4H315.5V280.2H308.9ZM154.1 279.9H160.7V286.6H154.1ZM876.3 279.9H882.9V286.6H876.3ZM154.1 286.3H160.7V293.1H154.1ZM257.3 286.3H263.9V293.1H257.3ZM354.0 286.3H367.1V293.1H354.0ZM386.3 286.3H392.9V293.1H386.3ZM154.1 292.8H160.7V299.5H154.1ZM276.6 292.8H309.0V299.5H276.6ZM154.1 299.2H160.7V306.0H154.1ZM850.5 299.2H857.1V306.0H850.5ZM1282.6 299.2H1295.6V306.0H1282.6ZM192.8 305.7H199.4V312.4H192.8ZM1263.2 305.7H1269.8V312.4H1263.2ZM760.3 312.1H773.3V318.9H760.3ZM779.6 312.1H786.2V318.9H779.6ZM1250.3 312.1H1256.9V318.9H1250.3ZM882.8 318.6H889.4V325.3H882.8ZM1224.5 318.6H1231.1V325.3H1224.5ZM747.4 325.0H754.0V331.8H747.4ZM799.0 325.0H805.6V331.8H799.0ZM947.3 325.0H953.9V331.8H947.3ZM1160.1 325.0H1166.7V331.8H1160.1ZM1211.7 325.0H1218.2V331.8H1211.7ZM1173.0 331.5H1179.6V338.2H1173.0ZM1205.2 331.5H1211.8V338.2H1205.2ZM341.1 337.9H347.7V344.7H341.1ZM740.9 337.9H747.5V344.7H740.9ZM889.2 337.9H895.8V344.7H889.2ZM1185.9 337.9H1205.4V344.7H1185.9ZM341.1 344.4H347.7V351.1H341.1ZM882.8 344.4H889.4V351.1H882.8ZM334.7 350.8H341.3V357.6H334.7ZM734.5 350.8H741.1V357.6H734.5ZM805.4 350.8H812.0V357.6H805.4ZM637.7 357.3H644.3V364.0H637.7ZM734.5 357.3H741.1V364.0H734.5ZM805.4 357.3H812.0V364.0H805.4ZM876.3 357.3H882.9V364.0H876.3ZM927.9 357.3H934.5V364.0H927.9ZM650.6 363.7H657.2V370.5H650.6ZM728.0 363.7H734.6V370.5H728.0ZM805.4 363.7H812.0V370.5H805.4ZM863.4 363.7H870.0V370.5H863.4ZM927.9 363.7H934.5V370.5H927.9ZM979.5 363.7H986.1V370.5H979.5ZM360.5 370.2H367.1V376.9H360.5ZM386.3 370.2H392.9V376.9H386.3ZM682.9 370.2H689.5V376.9H682.9ZM805.4 370.2H812.0V376.9H805.4ZM934.4 370.2H941.0V376.9H934.4ZM347.6 376.6H354.2V383.4H347.6ZM541.0 376.6H547.6V383.4H541.0ZM695.8 376.6H702.4V383.4H695.8ZM805.4 376.6H812.0V383.4H805.4ZM844.1 376.6H850.7V383.4H844.1ZM940.8 376.6H947.4V383.4H940.8ZM386.3 383.1H392.9V389.8H386.3ZM418.5 383.1H425.1V389.8H418.5ZM592.6 383.1H599.2V389.8H592.6ZM708.7 383.1H715.3V389.8H708.7ZM721.6 383.1H728.2V389.8H721.6ZM947.3 383.1H953.9V389.8H947.3ZM986.0 383.1H992.6V389.8H986.0ZM386.3 389.5H392.9V396.3H386.3ZM715.1 389.5H728.2V396.3H715.1ZM921.5 389.5H928.1V396.3H921.5ZM953.7 389.5H960.3V396.3H953.7ZM283.1 396.0H289.7V402.7H283.1ZM302.4 396.0H309.0V402.7H302.4ZM386.3 396.0H399.3V402.7H386.3ZM560.4 396.0H586.3V402.7H560.4ZM715.1 396.0H741.1V402.7H715.1ZM263.7 402.4H270.3V409.2H263.7ZM392.7 402.4H399.3V409.2H392.7ZM566.8 402.4H586.3V409.2H566.8ZM966.6 402.4H973.2V409.2H966.6ZM399.2 408.9H405.8V415.6H399.2ZM573.3 408.9H586.3V415.6H573.3ZM895.7 408.9H902.3V415.6H895.7ZM244.4 415.3H251.0V422.1H244.4ZM405.6 415.3H412.2V422.1H405.6ZM470.1 415.3H489.6V422.1H470.1ZM579.7 415.3H586.3V422.1H579.7ZM405.6 421.8H412.2V428.5H405.6ZM566.8 421.8H579.9V428.5H566.8ZM979.5 421.8H986.1V428.5H979.5ZM212.2 428.2H225.2V435.0H212.2ZM405.6 428.2H412.2V435.0H405.6ZM425.0 428.2H431.6V435.0H425.0ZM566.8 428.2H573.4V435.0H566.8ZM882.8 428.2H889.4V435.0H882.8ZM1011.8 428.2H1018.4V435.0H1011.8ZM212.2 434.7H218.8V441.4H212.2ZM354.0 434.7H360.6V441.4H354.0ZM405.6 434.7H418.7V441.4H405.6ZM450.7 434.7H457.3V441.4H450.7ZM553.9 434.7H567.0V441.4H553.9ZM199.3 441.1H205.9V447.8H199.3ZM412.1 441.1H418.7V447.8H412.1ZM547.5 441.1H554.1V447.8H547.5ZM360.5 447.6H367.1V454.3H360.5ZM418.5 447.6H431.6V454.3H418.5ZM457.2 447.6H463.8V454.3H457.2ZM541.0 447.6H547.6V454.3H541.0ZM366.9 454.0H373.5V460.7H366.9ZM418.5 454.0H425.1V460.7H418.5ZM431.4 454.0H438.0V460.7H431.4ZM463.6 454.0H470.2V460.7H463.6ZM579.7 454.0H605.7V460.7H579.7ZM863.4 454.0H870.0V460.7H863.4ZM1018.2 454.0H1031.2V460.7H1018.2ZM366.9 460.4H373.5V467.2H366.9ZM425.0 460.4H431.6V467.2H425.0ZM573.3 460.4H592.8V467.2H573.3ZM857.0 460.4H863.6V467.2H857.0ZM373.4 466.9H380.0V473.6H373.4ZM502.3 466.9H508.9V473.6H502.3ZM547.5 466.9H560.5V473.6H547.5ZM566.8 466.9H586.3V473.6H566.8ZM857.0 466.9H863.6V473.6H857.0ZM231.5 473.3H238.1V480.1H231.5ZM373.4 473.3H380.0V480.1H373.4ZM495.9 473.3H502.5V480.1H495.9ZM541.0 473.3H554.1V480.1H541.0ZM573.3 473.3H586.3V480.1H573.3ZM850.5 473.3H863.6V480.1H850.5ZM225.1 479.8H231.7V486.5H225.1ZM238.0 479.8H244.6V486.5H238.0ZM360.5 479.8H367.1V486.5H360.5ZM541.0 479.8H554.1V486.5H541.0ZM573.3 479.8H579.9V486.5H573.3ZM889.2 479.8H902.3V486.5H889.2ZM212.2 486.2H218.8V493.0H212.2ZM238.0 486.2H244.6V493.0H238.0ZM263.7 486.2H270.3V493.0H263.7ZM341.1 486.2H354.2V493.0H341.1ZM541.0 486.2H560.5V493.0H541.0ZM566.8 486.2H573.4V493.0H566.8ZM908.6 486.2H934.5V493.0H908.6ZM244.4 492.7H251.0V499.4H244.4ZM257.3 492.7H263.9V499.4H257.3ZM437.9 492.7H450.9V499.4H437.9ZM541.0 492.7H567.0V499.4H541.0ZM947.3 492.7H953.9V499.4H947.3ZM205.7 499.1H212.3V505.9H205.7ZM244.4 499.1H257.4V505.9H244.4ZM444.3 499.1H450.9V505.9H444.3ZM953.7 499.1H960.3V505.9H953.7ZM212.2 505.6H225.2V512.3H212.2ZM960.2 505.6H966.8V512.3H960.2ZM173.5 512.0H199.4V518.8H173.5ZM218.6 512.0H225.2V518.8H218.6ZM270.2 512.0H296.1V518.8H270.2ZM966.6 512.0H973.2V518.8H966.6ZM218.6 518.5H225.2V525.2H218.6ZM270.2 518.5H283.2V525.2H270.2ZM973.1 518.5H986.1V525.2H973.1ZM992.4 518.5H1031.2V525.2H992.4ZM212.2 524.9H218.8V531.7H212.2ZM270.2 524.9H276.8V531.7H270.2ZM1044.0 524.9H1057.0V531.7H1044.0ZM212.2 531.4H218.8V538.1H212.2ZM270.2 531.4H276.8V538.1H270.2ZM915.0 531.4H953.9V538.1H915.0ZM1063.3 531.4H1069.9V538.1H1063.3ZM212.2 537.8H218.8V544.6H212.2ZM270.2 537.8H276.8V544.6H270.2ZM908.6 537.8H953.9V544.6H908.6ZM1063.3 537.8H1069.9V544.6H1063.3Z"/>
<path fill="#ffe600" d="M1205.2 73.5H1211.8V80.3H1205.2ZM1185.9 92.9H1192.5V99.6H1185.9ZM541.0 99.3H547.6V106.1H541.0ZM566.8 131.6H573.4V138.3H566.8ZM708.7 131.6H715.3V138.3H708.7ZM869.9 131.6H876.5V138.3H869.9ZM1166.5 131.6H1173.1V138.3H1166.5ZM573.3 138.0H579.9V144.8H573.3ZM689.3 150.9H695.9V157.7H689.3ZM1147.2 150.9H1153.8V157.7H1147.2ZM586.2 157.4H592.8V164.1H586.2ZM1011.8 157.4H1018.4V164.1H1011.8ZM592.6 163.8H599.2V170.6H592.6ZM592.6 170.3H599.2V177.0H592.6ZM1127.8 170.3H1134.4V177.0H1127.8ZM592.6 176.7H599.2V183.5H592.6ZM592.6 183.2H599.2V189.9H592.6ZM695.8 183.2H702.4V189.9H695.8ZM534.6 189.6H541.2V196.4H534.6ZM599.1 189.6H612.1V196.4H599.1ZM702.2 189.6H708.8V196.4H702.2ZM1108.5 189.6H1115.1V196.4H1108.5ZM624.9 196.1H631.4V202.8H624.9ZM631.3 202.5H637.9V209.3H631.3ZM1218.1 215.4H1224.7V222.2H1218.1ZM1211.7 228.3H1218.2V235.1H1211.7ZM1211.7 234.8H1218.2V241.5H1211.7ZM1211.7 241.2H1218.2V248.0H1211.7ZM1198.8 254.1H1205.4V260.8H1198.8ZM1192.3 260.5H1198.9V267.3H1192.3ZM347.6 279.9H367.1V286.6H347.6ZM857.0 279.9H863.6V286.6H857.0ZM250.8 286.3H257.4V293.1H250.8ZM347.6 286.3H354.2V293.1H347.6ZM889.2 286.3H895.8V293.1H889.2ZM270.2 292.8H276.8V299.5H270.2ZM308.9 292.8H315.5V299.5H308.9ZM179.9 305.7H193.0V312.4H179.9ZM199.3 305.7H212.3V312.4H199.3ZM869.9 305.7H876.5V312.4H869.9ZM921.5 305.7H928.1V312.4H921.5ZM1147.2 305.7H1153.8V312.4H1147.2ZM773.2 312.1H779.8V318.9H773.2ZM1153.6 312.1H1160.2V318.9H1153.6ZM747.4 331.5H754.0V338.2H747.4ZM799.0 331.5H805.6V338.2H799.0ZM889.2 331.5H895.8V338.2H889.2ZM895.7 337.9H902.3V344.7H895.7ZM740.9 344.4H747.5V351.1H740.9ZM882.8 350.8H889.4V357.6H882.8ZM927.9 350.8H934.5V357.6H927.9ZM921.5 357.3H928.1V364.0H921.5ZM979.5 357.3H986.1V364.0H979.5ZM624.9 363.7H631.4V370.5H624.9ZM644.2 363.7H650.8V370.5H644.2ZM734.5 363.7H741.1V370.5H734.5ZM869.9 363.7H876.5V370.5H869.9ZM934.4 363.7H941.0V370.5H934.4ZM341.1 370.2H347.7V376.9H341.1ZM612.0 370.2H618.6V376.9H612.0ZM728.0 370.2H734.6V376.9H728.0ZM857.0 370.2H863.6V376.9H857.0ZM940.8 370.2H947.4V376.9H940.8ZM979.5 370.2H986.1V376.9H979.5ZM341.1 376.6H347.7V383.4H341.1ZM354.0 376.6H360.6V383.4H354.0ZM728.0 376.6H734.6V383.4H728.0ZM947.3 376.6H953.9V383.4H947.3ZM379.8 383.1H386.4V389.8H379.8ZM702.2 383.1H708.8V389.8H702.2ZM728.0 383.1H734.6V389.8H728.0ZM805.4 383.1H812.0V389.8H805.4ZM837.6 383.1H844.2V389.8H837.6ZM953.7 383.1H960.3V389.8H953.7ZM379.8 389.5H386.4V396.3H379.8ZM592.6 389.5H599.2V396.3H592.6ZM708.7 389.5H715.3V396.3H708.7ZM728.0 389.5H741.1V396.3H728.0ZM805.4 389.5H831.3V396.3H805.4ZM960.2 389.5H966.8V396.3H960.2ZM992.4 389.5H999.0V396.3H992.4ZM276.6 396.0H283.2V402.7H276.6ZM379.8 396.0H386.4V402.7H379.8ZM586.2 396.0H592.8V402.7H586.2ZM792.5 396.0H799.1V402.7H792.5ZM966.6 396.0H973.2V402.7H966.6ZM1005.3 396.0H1011.9V402.7H1005.3ZM321.8 402.4H328.4V409.2H321.8ZM386.3 402.4H392.9V409.2H386.3ZM586.2 402.4H592.8V409.2H586.2ZM715.1 402.4H741.1V409.2H715.1ZM902.1 402.4H908.7V409.2H902.1ZM998.9 402.4H1005.5V409.2H998.9ZM334.7 408.9H341.3V415.6H334.7ZM392.7 408.9H399.3V415.6H392.7ZM586.2 408.9H592.8V415.6H586.2ZM889.2 408.9H895.8V415.6H889.2ZM212.2 415.3H218.8V422.1H212.2ZM399.2 415.3H405.8V422.1H399.2ZM586.2 415.3H592.8V422.1H586.2ZM973.1 415.3H979.7V422.1H973.1ZM212.2 421.8H225.2V428.5H212.2ZM347.6 421.8H354.2V428.5H347.6ZM399.2 421.8H405.8V428.5H399.2ZM579.7 421.8H586.3V428.5H579.7ZM225.1 428.2H238.1V435.0H225.1ZM399.2 428.2H405.8V435.0H399.2ZM573.3 428.2H579.9V435.0H573.3ZM418.5 434.7H425.1V441.4H418.5ZM566.8 434.7H573.4V441.4H566.8ZM876.3 434.7H882.9V441.4H876.3ZM992.4 434.7H999.0V441.4H992.4ZM154.1 441.1H167.2V447.8H154.1ZM179.9 441.1H199.4V447.8H179.9ZM360.5 441.1H367.1V447.8H360.5ZM418.5 441.1H431.6V447.8H418.5ZM450.7 441.1H457.3V447.8H450.7ZM553.9 441.1H560.5V447.8H553.9ZM869.9 441.1H876.5V447.8H869.9ZM1024.6 441.1H1031.2V447.8H1024.6ZM366.9 447.6H373.5V454.3H366.9ZM412.1 447.6H418.7V454.3H412.1ZM431.4 447.6H438.0V454.3H431.4ZM450.7 447.6H457.3V454.3H450.7ZM573.3 447.6H605.7V454.3H573.3ZM1024.6 447.6H1031.2V454.3H1024.6ZM373.4 454.0H380.0V460.7H373.4ZM412.1 454.0H418.7V460.7H412.1ZM437.9 454.0H444.4V460.7H437.9ZM457.2 454.0H463.8V460.7H457.2ZM534.6 454.0H541.2V460.7H534.6ZM573.3 454.0H579.9V460.7H573.3ZM605.5 454.0H612.1V460.7H605.5ZM857.0 454.0H863.6V460.7H857.0ZM373.4 460.4H380.0V467.2H373.4ZM431.4 460.4H438.0V467.2H431.4ZM457.2 460.4H470.2V467.2H457.2ZM528.1 460.4H534.7V467.2H528.1ZM553.9 460.4H573.4V467.2H553.9ZM592.6 460.4H605.7V467.2H592.6ZM508.8 466.9H521.8V473.6H508.8ZM534.6 466.9H547.6V473.6H534.6ZM586.2 466.9H599.2V473.6H586.2ZM850.5 466.9H857.1V473.6H850.5ZM534.6 473.3H541.2V480.1H534.6ZM586.2 473.3H592.8V480.1H586.2ZM844.1 473.3H850.7V480.1H844.1ZM231.5 479.8H238.1V486.5H231.5ZM366.9 479.8H373.5V486.5H366.9ZM470.1 479.8H476.7V486.5H470.1ZM534.6 479.8H541.2V486.5H534.6ZM579.7 479.8H586.3V486.5H579.7ZM863.4 479.8H889.4V486.5H863.4ZM218.6 486.2H231.7V493.0H218.6ZM321.8 486.2H341.3V493.0H321.8ZM437.9 486.2H450.9V493.0H437.9ZM483.0 486.2H489.6V493.0H483.0ZM534.6 486.2H541.2V493.0H534.6ZM573.3 486.2H579.9V493.0H573.3ZM902.1 486.2H908.7V493.0H902.1ZM205.7 492.7H212.3V499.4H205.7ZM238.0 492.7H244.6V499.4H238.0ZM425.0 492.7H438.0V499.4H425.0ZM450.7 492.7H457.3V499.4H450.7ZM534.6 492.7H541.2V499.4H534.6ZM566.8 492.7H573.4V499.4H566.8ZM940.8 492.7H947.4V499.4H940.8ZM212.2 499.1H218.8V505.9H212.2ZM238.0 499.1H244.6V505.9H238.0ZM257.3 499.1H263.9V505.9H257.3ZM437.9 499.1H444.4V505.9H437.9ZM450.7 499.1H457.3V505.9H450.7ZM541.0 499.1H567.0V505.9H541.0ZM947.3 499.1H953.9V505.9H947.3ZM244.4 505.6H263.9V512.3H244.4ZM444.3 505.6H450.9V512.3H444.3ZM953.7 505.6H960.3V512.3H953.7ZM225.1 512.0H231.7V518.8H225.1ZM263.7 512.0H270.3V518.8H263.7ZM296.0 512.0H302.6V518.8H296.0ZM444.3 512.0H450.9V518.8H444.3ZM960.2 512.0H966.8V518.8H960.2ZM263.7 518.5H270.3V525.2H263.7ZM283.1 518.5H296.1V525.2H283.1ZM444.3 518.5H450.9V525.2H444.3ZM960.2 518.5H973.2V525.2H960.2ZM218.6 524.9H225.2V531.7H218.6ZM276.6 524.9H289.7V531.7H276.6ZM934.4 524.9H960.3V531.7H934.4ZM979.5 524.9H992.6V531.7H979.5ZM1037.5 524.9H1044.1V531.7H1037.5ZM276.6 531.4H283.2V538.1H276.6ZM908.6 531.4H915.2V538.1H908.6ZM953.7 531.4H960.3V538.1H953.7ZM1056.9 531.4H1063.5V538.1H1056.9ZM276.6 537.8H283.2V544.6H276.6ZM953.7 537.8H960.3V544.6H953.7ZM1056.9 537.8H1063.5V544.6H1056.9Z"/>
<path fill="#ffd200" d="M753.8 60.7H760.4V67.4H753.8ZM882.8 60.7H889.4V67.4H882.8ZM915.0 60.7H921.6V67.4H915.0ZM1218.1 60.7H1224.7V67.4H1218.1ZM753.8 67.1H760.4V73.8H753.8ZM882.8 67.1H889.4V73.8H882.8ZM915.0 67.1H921.6V73.8H915.0ZM1205.2 67.1H1224.7V73.8H1205.2ZM753.8 73.5H760.4V80.3H753.8ZM882.8 73.5H889.4V80.3H882.8ZM915.0 73.5H921.6V80.3H915.0ZM734.5 80.0H754.0V86.7H734.5ZM882.8 80.0H889.4V86.7H882.8ZM915.0 80.0H921.6V86.7H915.0ZM1198.8 80.0H1205.4V86.7H1198.8ZM728.0 86.4H734.6V93.2H728.0ZM882.8 86.4H889.4V93.2H882.8ZM915.0 86.4H921.6V93.2H915.0ZM1185.9 86.4H1205.4V93.2H1185.9ZM1231.0 86.4H1237.6V93.2H1231.0ZM882.8 92.9H889.4V99.6H882.8ZM915.0 92.9H921.6V99.6H915.0ZM1179.4 92.9H1186.0V99.6H1179.4ZM721.6 99.3H728.2V106.1H721.6ZM882.8 99.3H889.4V106.1H882.8ZM915.0 99.3H921.6V106.1H915.0ZM1179.4 99.3H1186.0V106.1H1179.4ZM534.6 105.8H541.2V112.5H534.6ZM547.5 105.8H554.1V112.5H547.5ZM882.8 105.8H889.4V112.5H882.8ZM915.0 105.8H921.6V112.5H915.0ZM1179.4 105.8H1186.0V112.5H1179.4ZM534.6 112.2H541.2V119.0H534.6ZM882.8 112.2H889.4V119.0H882.8ZM915.0 112.2H921.6V119.0H915.0ZM1179.4 112.2H1186.0V119.0H1179.4ZM534.6 118.7H541.2V125.4H534.6ZM882.8 118.7H889.4V125.4H882.8ZM915.0 118.7H921.6V125.4H915.0ZM1179.4 118.7H1186.0V125.4H1179.4ZM534.6 125.1H541.2V131.9H534.6ZM882.8 125.1H889.4V131.9H882.8ZM915.0 125.1H921.6V131.9H915.0ZM1166.5 125.1H1186.0V131.9H1166.5ZM534.6 131.6H541.2V138.3H534.6ZM863.4 131.6H870.0V138.3H863.4ZM915.0 131.6H921.6V138.3H915.0ZM1160.1 131.6H1166.7V138.3H1160.1ZM534.6 138.0H541.2V144.8H534.6ZM702.2 138.0H708.8V144.8H702.2ZM857.0 138.0H863.6V144.8H857.0ZM915.0 138.0H921.6V144.8H915.0ZM1160.1 138.0H1166.7V144.8H1160.1ZM534.6 144.5H541.2V151.2H534.6ZM579.7 144.5H586.3V151.2H579.7ZM915.0 144.5H921.6V151.2H915.0ZM1147.2 144.5H1166.7V151.2H1147.2ZM534.6 150.9H541.2V157.7H534.6ZM915.0 150.9H921.6V157.7H915.0ZM1037.5 150.9H1044.1V157.7H1037.5ZM1140.7 150.9H1147.3V157.7H1140.7ZM534.6 157.4H541.2V164.1H534.6ZM689.3 157.4H695.9V164.1H689.3ZM915.0 157.4H921.6V164.1H915.0ZM1140.7 157.4H1147.3V164.1H1140.7ZM534.6 163.8H541.2V170.6H534.6ZM586.2 163.8H592.8V170.6H586.2ZM689.3 163.8H695.9V170.6H689.3ZM773.2 163.8H792.7V170.6H773.2ZM1127.8 163.8H1147.3V170.6H1127.8ZM534.6 170.3H541.2V177.0H534.6ZM586.2 170.3H592.8V177.0H586.2ZM689.3 170.3H695.9V177.0H689.3ZM766.7 170.3H773.3V177.0H766.7ZM824.8 170.3H831.3V177.0H824.8ZM1121.4 170.3H1128.0V177.0H1121.4ZM534.6 176.7H541.2V183.5H534.6ZM586.2 176.7H592.8V183.5H586.2ZM695.8 176.7H702.4V183.5H695.8ZM818.3 176.7H824.9V183.5H818.3ZM1121.4 176.7H1128.0V183.5H1121.4ZM534.6 183.2H541.2V189.9H534.6ZM586.2 183.2H592.8V189.9H586.2ZM702.2 183.2H708.8V189.9H702.2ZM792.5 183.2H799.1V189.9H792.5ZM1108.5 183.2H1128.0V189.9H1108.5ZM586.2 189.6H599.2V196.4H586.2ZM753.8 189.6H760.4V196.4H753.8ZM541.0 196.1H547.6V202.8H541.0ZM586.2 196.1H605.7V202.8H586.2ZM612.0 196.1H625.0V202.8H612.0ZM547.5 202.5H554.1V209.3H547.5ZM579.7 202.5H605.7V209.3H579.7ZM1102.0 202.5H1108.6V209.3H1102.0ZM328.2 267.0H334.8V273.7H328.2ZM341.1 273.4H347.7V280.2H341.1ZM1185.9 273.4H1192.5V280.2H1185.9ZM315.3 279.9H321.9V286.6H315.3ZM869.9 279.9H876.5V286.6H869.9ZM902.1 292.8H908.7V299.5H902.1ZM238.0 299.2H244.6V306.0H238.0ZM283.1 299.2H309.0V306.0H283.1ZM857.0 299.2H863.6V306.0H857.0ZM173.5 305.7H180.1V312.4H173.5ZM212.2 305.7H238.1V312.4H212.2ZM882.8 312.1H889.4V318.9H882.8ZM927.9 312.1H934.5V318.9H927.9ZM753.8 318.6H760.4V325.3H753.8ZM792.5 318.6H799.1V325.3H792.5ZM889.2 325.0H895.8V331.8H889.2ZM895.7 331.5H902.3V338.2H895.7ZM799.0 337.9H805.6V344.7H799.0ZM902.1 337.9H908.7V344.7H902.1ZM960.2 337.9H966.8V344.7H960.2ZM799.0 344.4H805.6V351.1H799.0ZM889.2 344.4H908.7V351.1H889.2ZM915.0 344.4H928.1V351.1H915.0ZM740.9 350.8H747.5V357.6H740.9ZM799.0 350.8H805.6V357.6H799.0ZM915.0 350.8H928.1V357.6H915.0ZM799.0 357.3H805.6V364.0H799.0ZM915.0 357.3H921.6V364.0H915.0ZM934.4 357.3H941.0V364.0H934.4ZM631.3 363.7H637.9V370.5H631.3ZM799.0 363.7H805.6V370.5H799.0ZM921.5 363.7H928.1V370.5H921.5ZM940.8 363.7H947.4V370.5H940.8ZM334.7 370.2H341.3V376.9H334.7ZM663.5 370.2H683.0V376.9H663.5ZM734.5 370.2H741.1V376.9H734.5ZM799.0 370.2H805.6V376.9H799.0ZM947.3 370.2H953.9V376.9H947.3ZM334.7 376.6H341.3V383.4H334.7ZM360.5 376.6H367.1V383.4H360.5ZM599.1 376.6H605.7V383.4H599.1ZM689.3 376.6H695.9V383.4H689.3ZM734.5 376.6H741.1V383.4H734.5ZM799.0 376.6H805.6V383.4H799.0ZM850.5 376.6H857.1V383.4H850.5ZM953.7 376.6H960.3V383.4H953.7ZM979.5 376.6H986.1V383.4H979.5ZM341.1 383.1H380.0V389.8H341.1ZM734.5 383.1H741.1V389.8H734.5ZM799.0 383.1H805.6V389.8H799.0ZM373.4 389.5H380.0V396.3H373.4ZM792.5 389.5H805.6V396.3H792.5ZM831.2 389.5H837.8V396.3H831.2ZM986.0 389.5H992.6V396.3H986.0ZM308.9 396.0H315.5V402.7H308.9ZM373.4 396.0H380.0V402.7H373.4ZM592.6 396.0H599.2V402.7H592.6ZM740.9 396.0H747.5V402.7H740.9ZM786.1 396.0H792.7V402.7H786.1ZM799.0 396.0H812.0V402.7H799.0ZM908.6 396.0H915.2V402.7H908.6ZM379.8 402.4H386.4V409.2H379.8ZM592.6 402.4H599.2V409.2H592.6ZM889.2 402.4H902.3V409.2H889.2ZM386.3 408.9H392.9V415.6H386.3ZM592.6 408.9H599.2V415.6H592.6ZM715.1 408.9H741.1V415.6H715.1ZM973.1 408.9H979.7V415.6H973.1ZM341.1 415.3H347.7V422.1H341.1ZM392.7 415.3H399.3V422.1H392.7ZM592.6 415.3H599.2V422.1H592.6ZM238.0 421.8H244.6V428.5H238.0ZM392.7 421.8H399.3V428.5H392.7ZM586.2 421.8H599.2V428.5H586.2ZM882.8 421.8H889.4V428.5H882.8ZM354.0 428.2H360.6V435.0H354.0ZM579.7 428.2H599.2V435.0H579.7ZM986.0 428.2H992.6V435.0H986.0ZM205.7 434.7H212.3V441.4H205.7ZM360.5 434.7H373.5V441.4H360.5ZM425.0 434.7H450.9V441.4H425.0ZM573.3 434.7H599.2V441.4H573.3ZM167.0 441.1H180.1V447.8H167.0ZM431.4 441.1H450.9V447.8H431.4ZM560.4 441.1H605.7V447.8H560.4ZM373.4 447.6H386.4V454.3H373.4ZM392.7 447.6H412.2V454.3H392.7ZM437.9 447.6H450.9V454.3H437.9ZM547.5 447.6H573.4V454.3H547.5ZM605.5 447.6H612.1V454.3H605.5ZM379.8 454.0H386.4V460.7H379.8ZM444.3 454.0H457.3V460.7H444.3ZM541.0 454.0H573.4V460.7H541.0ZM612.0 454.0H618.6V460.7H612.0ZM379.8 460.4H386.4V467.2H379.8ZM418.5 460.4H425.1V467.2H418.5ZM437.9 460.4H457.3V467.2H437.9ZM534.6 460.4H554.1V467.2H534.6ZM605.5 460.4H612.1V467.2H605.5ZM850.5 460.4H857.1V467.2H850.5ZM379.8 466.9H386.4V473.6H379.8ZM450.7 466.9H470.2V473.6H450.7ZM521.7 466.9H534.7V473.6H521.7ZM599.1 466.9H605.7V473.6H599.1ZM463.6 473.3H470.2V480.1H463.6ZM502.3 473.3H534.7V480.1H502.3ZM592.6 473.3H599.2V480.1H592.6ZM837.6 473.3H844.2V480.1H837.6ZM437.9 479.8H470.2V486.5H437.9ZM495.9 479.8H502.5V486.5H495.9ZM528.1 479.8H534.7V486.5H528.1ZM586.2 479.8H592.8V486.5H586.2ZM850.5 479.8H863.6V486.5H850.5ZM231.5 486.2H238.1V493.0H231.5ZM270.2 486.2H321.9V493.0H270.2ZM354.0 486.2H360.6V493.0H354.0ZM425.0 486.2H438.0V493.0H425.0ZM450.7 486.2H483.1V493.0H450.7ZM489.4 486.2H496.0V493.0H489.4ZM528.1 486.2H534.7V493.0H528.1ZM579.7 486.2H586.3V493.0H579.7ZM895.7 486.2H902.3V493.0H895.7ZM212.2 492.7H238.1V499.4H212.2ZM263.7 492.7H270.3V499.4H263.7ZM457.2 492.7H463.8V499.4H457.2ZM528.1 492.7H534.7V499.4H528.1ZM573.3 492.7H579.9V499.4H573.3ZM927.9 492.7H941.0V499.4H927.9ZM218.6 499.1H238.1V505.9H218.6ZM263.7 499.1H270.3V505.9H263.7ZM431.4 499.1H438.0V505.9H431.4ZM528.1 499.1H541.2V505.9H528.1ZM566.8 499.1H573.4V505.9H566.8ZM940.8 499.1H947.4V505.9H940.8ZM225.1 505.6H244.6V512.3H225.1ZM263.7 505.6H296.1V512.3H263.7ZM437.9 505.6H444.4V512.3H437.9ZM450.7 505.6H457.3V512.3H450.7ZM528.1 505.6H567.0V512.3H528.1ZM940.8 505.6H953.9V512.3H940.8ZM250.8 512.0H263.9V518.8H250.8ZM302.4 512.0H309.0V518.8H302.4ZM437.9 512.0H444.4V518.8H437.9ZM450.7 512.0H457.3V518.8H450.7ZM947.3 512.0H960.3V518.8H947.3ZM225.1 518.5H231.7V525.2H225.1ZM257.3 518.5H263.9V525.2H257.3ZM296.0 518.5H302.6V525.2H296.0ZM940.8 518.5H960.3V525.2H940.8ZM263.7 524.9H270.3V531.7H263.7ZM289.5 524.9H296.1V531.7H289.5ZM444.3 524.9H450.9V531.7H444.3ZM908.6 524.9H934.5V531.7H908.6ZM960.2 524.9H979.7V531.7H960.2ZM992.4 524.9H1005.5V531.7H992.4ZM1031.1 524.9H1037.7V531.7H1031.1ZM218.6 531.4H225.2V538.1H218.6ZM263.7 531.4H270.3V538.1H263.7ZM283.1 531.4H296.1V538.1H283.1ZM960.2 531.4H986.1V538.1H960.2ZM1044.0 531.4H1057.0V538.1H1044.0ZM218.6 537.8H225.2V544.6H218.6ZM263.7 537.8H270.3V544.6H263.7ZM283.1 537.8H289.7V544.6H283.1ZM960.2 537.8H966.8V544.6H960.2ZM1050.4 537.8H1057.0V544.6H1050.4Z"/>
<path fill="#ffbe00" d="M760.3 60.7H805.6V67.4H760.3ZM876.3 60.7H882.9V67.4H876.3ZM921.5 60.7H928.1V67.4H921.5ZM1056.9 60.7H1218.2V67.4H1056.9ZM1250.3 60.7H1256.9V67.4H1250.3ZM760.3 67.1H805.6V73.8H760.3ZM876.3 67.1H882.9V73.8H876.3ZM921.5 67.1H928.1V73.8H921.5ZM1056.9 67.1H1205.4V73.8H1056.9ZM1250.3 67.1H1256.9V73.8H1250.3ZM760.3 73.5H805.6V80.3H760.3ZM876.3 73.5H882.9V80.3H876.3ZM921.5 73.5H928.1V80.3H921.5ZM1056.9 73.5H1205.4V80.3H1056.9ZM753.8 80.0H805.6V86.7H753.8ZM876.3 80.0H882.9V86.7H876.3ZM921.5 80.0H928.1V86.7H921.5ZM1056.9 80.0H1198.9V86.7H1056.9ZM1237.4 80.0H1244.0V86.7H1237.4ZM753.8 86.4H805.6V93.2H753.8ZM876.3 86.4H882.9V93.2H876.3ZM921.5 86.4H928.1V93.2H921.5ZM1056.9 86.4H1186.0V93.2H1056.9ZM753.8 92.9H805.6V99.6H753.8ZM876.3 92.9H882.9V99.6H876.3ZM921.5 92.9H928.1V99.6H921.5ZM1056.9 92.9H1179.6V99.6H1056.9ZM1231.0 92.9H1237.6V99.6H1231.0ZM753.8 99.3H805.6V106.1H753.8ZM876.3 99.3H882.9V106.1H876.3ZM921.5 99.3H928.1V106.1H921.5ZM1056.9 99.3H1179.6V106.1H1056.9ZM1231.0 99.3H1237.6V106.1H1231.0ZM753.8 105.8H805.6V112.5H753.8ZM876.3 105.8H882.9V112.5H876.3ZM921.5 105.8H928.1V112.5H921.5ZM1056.9 105.8H1179.6V112.5H1056.9ZM1231.0 105.8H1237.6V112.5H1231.0ZM547.5 112.2H554.1V119.0H547.5ZM753.8 112.2H805.6V119.0H753.8ZM876.3 112.2H882.9V119.0H876.3ZM921.5 112.2H928.1V119.0H921.5ZM1056.9 112.2H1179.6V119.0H1056.9ZM1231.0 112.2H1237.6V119.0H1231.0ZM553.9 118.7H560.5V125.4H553.9ZM753.8 118.7H805.6V125.4H753.8ZM876.3 118.7H882.9V125.4H876.3ZM921.5 118.7H928.1V125.4H921.5ZM1056.9 118.7H1179.6V125.4H1056.9ZM1231.0 118.7H1237.6V125.4H1231.0ZM753.8 125.1H805.6V131.9H753.8ZM876.3 125.1H882.9V131.9H876.3ZM921.5 125.1H928.1V131.9H921.5ZM1056.9 125.1H1166.7V131.9H1056.9ZM1231.0 125.1H1237.6V131.9H1231.0ZM766.7 131.6H805.6V138.3H766.7ZM857.0 131.6H863.6V138.3H857.0ZM921.5 131.6H928.1V138.3H921.5ZM1056.9 131.6H1160.2V138.3H1056.9ZM1231.0 131.6H1237.6V138.3H1231.0ZM566.8 138.0H573.4V144.8H566.8ZM708.7 138.0H715.3V144.8H708.7ZM773.2 138.0H786.2V144.8H773.2ZM921.5 138.0H928.1V144.8H921.5ZM1056.9 138.0H1160.2V144.8H1056.9ZM1231.0 138.0H1237.6V144.8H1231.0ZM573.3 144.5H579.9V151.2H573.3ZM773.2 144.5H786.2V151.2H773.2ZM921.5 144.5H928.1V151.2H921.5ZM1056.9 144.5H1147.3V151.2H1056.9ZM1231.0 144.5H1237.6V151.2H1231.0ZM573.3 150.9H586.3V157.7H573.3ZM773.2 150.9H786.2V157.7H773.2ZM921.5 150.9H928.1V157.7H921.5ZM1011.8 150.9H1018.4V157.7H1011.8ZM1056.9 150.9H1140.9V157.7H1056.9ZM1231.0 150.9H1237.6V157.7H1231.0ZM573.3 157.4H586.3V164.1H573.3ZM773.2 157.4H792.7V164.1H773.2ZM1056.9 157.4H1140.9V164.1H1056.9ZM1231.0 157.4H1237.6V164.1H1231.0ZM573.3 163.8H586.3V170.6H573.3ZM792.5 163.8H799.1V170.6H792.5ZM818.3 163.8H824.9V170.6H818.3ZM908.6 163.8H915.2V170.6H908.6ZM1056.9 163.8H1128.0V170.6H1056.9ZM1231.0 163.8H1237.6V170.6H1231.0ZM573.3 170.3H586.3V177.0H573.3ZM695.8 170.3H702.4V177.0H695.8ZM779.6 170.3H786.2V177.0H779.6ZM1056.9 170.3H1121.5V177.0H1056.9ZM1231.0 170.3H1237.6V177.0H1231.0ZM573.3 176.7H586.3V183.5H573.3ZM702.2 176.7H708.8V183.5H702.2ZM760.3 176.7H766.9V183.5H760.3ZM786.1 176.7H792.7V183.5H786.1ZM1056.9 176.7H1121.5V183.5H1056.9ZM1231.0 176.7H1237.6V183.5H1231.0ZM573.3 183.2H586.3V189.9H573.3ZM760.3 183.2H773.3V189.9H760.3ZM799.0 183.2H818.5V189.9H799.0ZM1056.9 183.2H1108.6V189.9H1056.9ZM1231.0 183.2H1237.6V189.9H1231.0ZM573.3 189.6H586.3V196.4H573.3ZM740.9 189.6H754.0V196.4H740.9ZM1056.9 189.6H1076.4V196.4H1056.9ZM1231.0 189.6H1237.6V196.4H1231.0ZM547.5 196.1H554.1V202.8H547.5ZM573.3 196.1H586.3V202.8H573.3ZM728.0 196.1H741.1V202.8H728.0ZM1069.8 196.1H1076.4V202.8H1069.8ZM1231.0 196.1H1237.6V202.8H1231.0ZM360.5 202.5H367.1V209.3H360.5ZM553.9 202.5H560.5V209.3H553.9ZM573.3 202.5H579.9V209.3H573.3ZM605.5 202.5H612.1V209.3H605.5ZM624.9 202.5H631.4V209.3H624.9ZM1044.0 202.5H1050.6V209.3H1044.0ZM1069.8 202.5H1076.4V209.3H1069.8ZM1231.0 202.5H1237.6V209.3H1231.0ZM1069.8 209.0H1076.4V215.7H1069.8ZM341.1 215.4H354.2V222.2H341.1ZM308.9 228.3H315.5V235.1H308.9ZM302.4 234.8H309.0V241.5H302.4ZM283.1 241.2H302.6V248.0H283.1ZM1211.7 247.7H1218.2V254.4H1211.7ZM289.5 254.1H296.1V260.8H289.5ZM1205.2 254.1H1211.8V260.8H1205.2ZM1192.3 267.0H1198.9V273.7H1192.3ZM315.3 273.4H321.9V280.2H315.3ZM863.4 279.9H870.0V286.6H863.4ZM315.3 286.3H321.9V293.1H315.3ZM857.0 286.3H863.6V293.1H857.0ZM882.8 286.3H889.4V293.1H882.8ZM857.0 292.8H863.6V299.5H857.0ZM1301.9 292.8H1308.5V299.5H1301.9ZM270.2 299.2H283.2V306.0H270.2ZM308.9 299.2H315.5V306.0H308.9ZM863.4 299.2H870.0V306.0H863.4ZM908.6 299.2H915.2V306.0H908.6ZM1276.1 299.2H1282.7V306.0H1276.1ZM167.0 305.7H173.6V312.4H167.0ZM289.5 305.7H309.0V312.4H289.5ZM876.3 305.7H882.9V312.4H876.3ZM1153.6 305.7H1160.2V312.4H1153.6ZM289.5 312.1H296.1V318.9H289.5ZM1160.1 312.1H1166.7V318.9H1160.1ZM1231.0 312.1H1250.5V318.9H1231.0ZM289.5 318.6H296.1V325.3H289.5ZM328.2 318.6H334.8V325.3H328.2ZM760.3 318.6H766.9V325.3H760.3ZM786.1 318.6H792.7V325.3H786.1ZM889.2 318.6H895.8V325.3H889.2ZM934.4 318.6H941.0V325.3H934.4ZM1160.1 318.6H1166.7V325.3H1160.1ZM1218.1 318.6H1224.7V325.3H1218.1ZM753.8 325.0H760.4V331.8H753.8ZM792.5 325.0H799.1V331.8H792.5ZM895.7 325.0H902.3V331.8H895.7ZM940.8 325.0H947.4V331.8H940.8ZM1166.5 325.0H1173.1V331.8H1166.5ZM902.1 331.5H908.7V338.2H902.1ZM953.7 331.5H960.3V338.2H953.7ZM1179.4 331.5H1186.0V338.2H1179.4ZM1192.3 331.5H1205.4V338.2H1192.3ZM321.8 337.9H328.4V344.7H321.8ZM747.4 337.9H754.0V344.7H747.4ZM908.6 337.9H928.1V344.7H908.6ZM908.6 344.4H915.2V351.1H908.6ZM927.9 344.4H934.5V351.1H927.9ZM966.6 344.4H973.2V351.1H966.6ZM889.2 350.8H915.2V357.6H889.2ZM934.4 350.8H941.0V357.6H934.4ZM973.1 350.8H979.7V357.6H973.1ZM341.1 357.3H354.2V364.0H341.1ZM740.9 357.3H747.5V364.0H740.9ZM882.8 357.3H889.4V364.0H882.8ZM908.6 357.3H915.2V364.0H908.6ZM321.8 363.7H328.4V370.5H321.8ZM637.7 363.7H644.3V370.5H637.7ZM740.9 363.7H747.5V370.5H740.9ZM876.3 363.7H882.9V370.5H876.3ZM947.3 363.7H953.9V370.5H947.3ZM321.8 370.2H334.8V376.9H321.8ZM379.8 370.2H386.4V376.9H379.8ZM618.4 370.2H625.0V376.9H618.4ZM650.6 370.2H663.7V376.9H650.6ZM863.4 370.2H870.0V376.9H863.4ZM921.5 370.2H928.1V376.9H921.5ZM953.7 370.2H960.3V376.9H953.7ZM321.8 376.6H334.8V383.4H321.8ZM605.5 376.6H612.1V383.4H605.5ZM328.2 383.1H341.3V389.8H328.2ZM412.1 383.1H418.7V389.8H412.1ZM599.1 383.1H605.7V389.8H599.1ZM695.8 383.1H702.4V389.8H695.8ZM740.9 383.1H747.5V389.8H740.9ZM792.5 383.1H799.1V389.8H792.5ZM844.1 383.1H850.7V389.8H844.1ZM921.5 383.1H928.1V389.8H921.5ZM960.2 383.1H966.8V389.8H960.2ZM347.6 389.5H373.5V396.3H347.6ZM599.1 389.5H605.7V396.3H599.1ZM702.2 389.5H708.8V396.3H702.2ZM740.9 389.5H747.5V396.3H740.9ZM786.1 389.5H792.7V396.3H786.1ZM837.6 389.5H844.2V396.3H837.6ZM270.2 396.0H276.8V402.7H270.2ZM360.5 396.0H373.5V402.7H360.5ZM425.0 396.0H431.6V402.7H425.0ZM599.1 396.0H605.7V402.7H599.1ZM708.7 396.0H715.3V402.7H708.7ZM779.6 396.0H786.2V402.7H779.6ZM811.9 396.0H824.9V402.7H811.9ZM889.2 396.0H908.7V402.7H889.2ZM998.9 396.0H1005.5V402.7H998.9ZM257.3 402.4H263.9V409.2H257.3ZM328.2 402.4H334.8V409.2H328.2ZM366.9 402.4H380.0V409.2H366.9ZM599.1 402.4H605.7V409.2H599.1ZM740.9 402.4H747.5V409.2H740.9ZM992.4 402.4H999.0V409.2H992.4ZM373.4 408.9H386.4V415.6H373.4ZM599.1 408.9H605.7V415.6H599.1ZM218.6 415.3H225.2V422.1H218.6ZM379.8 415.3H392.9V422.1H379.8ZM599.1 415.3H612.1V422.1H599.1ZM715.1 415.3H741.1V422.1H715.1ZM225.1 421.8H231.7V428.5H225.1ZM354.0 421.8H360.6V428.5H354.0ZM379.8 421.8H392.9V428.5H379.8ZM599.1 421.8H612.1V428.5H599.1ZM715.1 421.8H734.6V428.5H715.1ZM205.7 428.2H212.3V435.0H205.7ZM360.5 428.2H373.5V435.0H360.5ZM599.1 428.2H612.1V435.0H599.1ZM715.1 428.2H728.2V435.0H715.1ZM154.1 434.7H160.7V441.4H154.1ZM199.3 434.7H205.9V441.4H199.3ZM373.4 434.7H386.4V441.4H373.4ZM599.1 434.7H612.1V441.4H599.1ZM715.1 434.7H721.7V441.4H715.1ZM869.9 434.7H876.5V441.4H869.9ZM1018.2 434.7H1024.8V441.4H1018.2ZM373.4 441.1H380.0V447.8H373.4ZM405.6 441.1H412.2V447.8H405.6ZM605.5 441.1H618.6V447.8H605.5ZM998.9 441.1H1005.5V447.8H998.9ZM386.3 447.6H392.9V454.3H386.3ZM612.0 447.6H618.6V454.3H612.0ZM863.4 447.6H870.0V454.3H863.4ZM1018.2 447.6H1024.8V454.3H1018.2ZM386.3 454.0H412.2V460.7H386.3ZM618.4 454.0H625.0V460.7H618.4ZM850.5 454.0H857.1V460.7H850.5ZM386.3 460.4H392.9V467.2H386.3ZM412.1 460.4H418.7V467.2H412.1ZM612.0 460.4H625.0V467.2H612.0ZM425.0 466.9H450.9V473.6H425.0ZM605.5 466.9H618.6V473.6H605.5ZM844.1 466.9H850.7V473.6H844.1ZM379.8 473.3H386.4V480.1H379.8ZM437.9 473.3H463.8V480.1H437.9ZM599.1 473.3H612.1V480.1H599.1ZM831.2 473.3H837.8V480.1H831.2ZM373.4 479.8H380.0V486.5H373.4ZM425.0 479.8H438.0V486.5H425.0ZM502.3 479.8H528.3V486.5H502.3ZM592.6 479.8H605.7V486.5H592.6ZM844.1 479.8H850.7V486.5H844.1ZM360.5 486.2H367.1V493.0H360.5ZM495.9 486.2H502.5V493.0H495.9ZM515.2 486.2H528.3V493.0H515.2ZM586.2 486.2H599.2V493.0H586.2ZM850.5 486.2H857.1V493.0H850.5ZM882.8 486.2H895.8V493.0H882.8ZM341.1 492.7H354.2V499.4H341.1ZM418.5 492.7H425.1V499.4H418.5ZM463.6 492.7H483.1V499.4H463.6ZM515.2 492.7H528.3V499.4H515.2ZM579.7 492.7H586.3V499.4H579.7ZM902.1 492.7H928.1V499.4H902.1ZM270.2 499.1H296.1V505.9H270.2ZM425.0 499.1H431.6V505.9H425.0ZM457.2 499.1H463.8V505.9H457.2ZM515.2 499.1H528.3V505.9H515.2ZM573.3 499.1H586.3V505.9H573.3ZM908.6 499.1H941.0V505.9H908.6ZM296.0 505.6H309.0V512.3H296.0ZM431.4 505.6H438.0V512.3H431.4ZM515.2 505.6H528.3V512.3H515.2ZM566.8 505.6H579.9V512.3H566.8ZM934.4 505.6H941.0V512.3H934.4ZM231.5 512.0H251.0V518.8H231.5ZM308.9 512.0H315.5V518.8H308.9ZM521.7 512.0H567.0V518.8H521.7ZM940.8 512.0H947.4V518.8H940.8ZM250.8 518.5H257.4V525.2H250.8ZM302.4 518.5H315.5V525.2H302.4ZM437.9 518.5H444.4V525.2H437.9ZM450.7 518.5H457.3V525.2H450.7ZM915.0 518.5H941.0V525.2H915.0ZM257.3 524.9H263.9V531.7H257.3ZM296.0 524.9H309.0V531.7H296.0ZM902.1 524.9H908.7V531.7H902.1ZM1005.3 524.9H1031.2V531.7H1005.3ZM257.3 531.4H263.9V538.1H257.3ZM296.0 531.4H302.6V538.1H296.0ZM444.3 531.4H450.9V538.1H444.3ZM502.3 531.4H508.9V538.1H502.3ZM902.1 531.4H908.7V538.1H902.1ZM986.0 531.4H999.0V538.1H986.0ZM1037.5 531.4H1044.1V538.1H1037.5ZM257.3 537.8H263.9V544.6H257.3ZM289.5 537.8H302.6V544.6H289.5ZM444.3 537.8H450.9V544.6H444.3ZM502.3 537.8H515.4V544.6H502.3ZM902.1 537.8H908.7V544.6H902.1ZM966.6 537.8H999.0V544.6H966.6ZM1037.5 537.8H1050.6V544.6H1037.5Z"/>
<path fill="#ffab00" d="M805.4 60.7H812.0V67.4H805.4ZM1050.4 60.7H1057.0V67.4H1050.4ZM805.4 67.1H812.0V73.8H805.4ZM1050.4 67.1H1057.0V73.8H1050.4ZM805.4 73.5H812.0V80.3H805.4ZM1050.4 73.5H1057.0V80.3H1050.4ZM805.4 80.0H812.0V86.7H805.4ZM1050.4 80.0H1057.0V86.7H1050.4ZM747.4 86.4H754.0V93.2H747.4ZM805.4 86.4H812.0V93.2H805.4ZM1050.4 86.4H1057.0V93.2H1050.4ZM728.0 92.9H734.6V99.6H728.0ZM747.4 92.9H754.0V99.6H747.4ZM805.4 92.9H812.0V99.6H805.4ZM1050.4 92.9H1057.0V99.6H1050.4ZM747.4 99.3H754.0V106.1H747.4ZM805.4 99.3H812.0V106.1H805.4ZM1050.4 99.3H1057.0V106.1H1050.4ZM715.1 105.8H721.7V112.5H715.1ZM747.4 105.8H754.0V112.5H747.4ZM805.4 105.8H812.0V112.5H805.4ZM1050.4 105.8H1057.0V112.5H1050.4ZM747.4 112.2H754.0V119.0H747.4ZM805.4 112.2H812.0V119.0H805.4ZM1050.4 112.2H1057.0V119.0H1050.4ZM747.4 118.7H754.0V125.4H747.4ZM805.4 118.7H812.0V125.4H805.4ZM1050.4 118.7H1057.0V125.4H1050.4ZM560.4 125.1H567.0V131.9H560.4ZM747.4 125.1H754.0V131.9H747.4ZM805.4 125.1H812.0V131.9H805.4ZM869.9 125.1H876.5V131.9H869.9ZM1050.4 125.1H1057.0V131.9H1050.4ZM753.8 131.6H766.9V138.3H753.8ZM805.4 131.6H812.0V138.3H805.4ZM1050.4 131.6H1057.0V138.3H1050.4ZM766.7 138.0H773.3V144.8H766.7ZM805.4 138.0H812.0V144.8H805.4ZM1050.4 138.0H1057.0V144.8H1050.4ZM566.8 144.5H573.4V151.2H566.8ZM695.8 144.5H702.4V151.2H695.8ZM766.7 144.5H773.3V151.2H766.7ZM805.4 144.5H812.0V151.2H805.4ZM1050.4 144.5H1057.0V151.2H1050.4ZM566.8 150.9H573.4V157.7H566.8ZM766.7 150.9H773.3V157.7H766.7ZM805.4 150.9H812.0V157.7H805.4ZM1050.4 150.9H1057.0V157.7H1050.4ZM566.8 157.4H573.4V164.1H566.8ZM766.7 157.4H773.3V164.1H766.7ZM805.4 157.4H812.0V164.1H805.4ZM1050.4 157.4H1057.0V164.1H1050.4ZM566.8 163.8H573.4V170.6H566.8ZM766.7 163.8H773.3V170.6H766.7ZM837.6 163.8H857.1V170.6H837.6ZM998.9 163.8H1011.9V170.6H998.9ZM1044.0 163.8H1057.0V170.6H1044.0ZM566.8 170.3H573.4V177.0H566.8ZM702.2 170.3H715.3V177.0H702.2ZM760.3 170.3H766.9V177.0H760.3ZM1044.0 170.3H1057.0V177.0H1044.0ZM566.8 176.7H573.4V183.5H566.8ZM708.7 176.7H715.3V183.5H708.7ZM805.4 176.7H818.5V183.5H805.4ZM1044.0 176.7H1057.0V183.5H1044.0ZM566.8 183.2H573.4V189.9H566.8ZM1044.0 183.2H1057.0V189.9H1044.0ZM566.8 189.6H573.4V196.4H566.8ZM1044.0 189.6H1057.0V196.4H1044.0ZM553.9 196.1H560.5V202.8H553.9ZM566.8 196.1H573.4V202.8H566.8ZM1044.0 196.1H1050.6V202.8H1044.0ZM560.4 202.5H573.4V209.3H560.4ZM612.0 202.5H625.0V209.3H612.0ZM1224.5 215.4H1231.1V222.2H1224.5ZM321.8 273.4H328.4V280.2H321.8ZM1140.7 279.9H1147.3V286.6H1140.7ZM863.4 286.3H882.9V293.1H863.4ZM1140.7 286.3H1147.3V293.1H1140.7ZM263.7 292.8H270.3V299.5H263.7ZM863.4 292.8H902.3V299.5H863.4ZM1140.7 292.8H1147.3V299.5H1140.7ZM869.9 299.2H876.5V306.0H869.9ZM1140.7 299.2H1147.3V306.0H1140.7ZM283.1 305.7H289.7V312.4H283.1ZM882.8 305.7H889.4V312.4H882.8ZM915.0 305.7H921.6V312.4H915.0ZM1160.1 305.7H1166.7V312.4H1160.1ZM889.2 312.1H895.8V318.9H889.2ZM921.5 312.1H928.1V318.9H921.5ZM766.7 318.6H786.2V325.3H766.7ZM895.7 318.6H902.3V325.3H895.7ZM760.3 325.0H766.9V331.8H760.3ZM786.1 325.0H792.7V331.8H786.1ZM902.1 325.0H908.7V331.8H902.1ZM753.8 331.5H760.4V338.2H753.8ZM792.5 331.5H799.1V338.2H792.5ZM908.6 331.5H921.6V338.2H908.6ZM747.4 344.4H754.0V351.1H747.4ZM934.4 344.4H947.4V351.1H934.4ZM747.4 350.8H754.0V357.6H747.4ZM940.8 350.8H947.4V357.6H940.8ZM966.6 350.8H973.2V357.6H966.6ZM895.7 357.3H908.7V364.0H895.7ZM940.8 357.3H953.9V364.0H940.8ZM973.1 357.3H979.7V364.0H973.1ZM315.3 363.7H321.9V370.5H315.3ZM915.0 363.7H921.6V370.5H915.0ZM953.7 363.7H960.3V370.5H953.7ZM973.1 363.7H979.7V370.5H973.1ZM315.3 370.2H321.9V376.9H315.3ZM624.9 370.2H637.9V376.9H624.9ZM644.2 370.2H650.8V376.9H644.2ZM740.9 370.2H747.5V376.9H740.9ZM869.9 370.2H876.5V376.9H869.9ZM315.3 376.6H321.9V383.4H315.3ZM682.9 376.6H689.5V383.4H682.9ZM740.9 376.6H747.5V383.4H740.9ZM857.0 376.6H863.6V383.4H857.0ZM315.3 383.1H328.4V389.8H315.3ZM605.5 383.1H612.1V389.8H605.5ZM786.1 383.1H792.7V389.8H786.1ZM289.5 389.5H302.6V396.3H289.5ZM321.8 389.5H347.7V396.3H321.8ZM605.5 389.5H612.1V396.3H605.5ZM747.4 389.5H754.0V396.3H747.4ZM779.6 389.5H786.2V396.3H779.6ZM915.0 389.5H921.6V396.3H915.0ZM315.3 396.0H328.4V402.7H315.3ZM354.0 396.0H360.6V402.7H354.0ZM605.5 396.0H612.1V402.7H605.5ZM747.4 396.0H754.0V402.7H747.4ZM824.8 396.0H831.3V402.7H824.8ZM992.4 396.0H999.0V402.7H992.4ZM334.7 402.4H341.3V409.2H334.7ZM354.0 402.4H367.1V409.2H354.0ZM605.5 402.4H612.1V409.2H605.5ZM708.7 402.4H715.3V409.2H708.7ZM244.4 408.9H251.0V415.6H244.4ZM341.1 408.9H347.7V415.6H341.1ZM360.5 408.9H373.5V415.6H360.5ZM605.5 408.9H612.1V415.6H605.5ZM740.9 408.9H747.5V415.6H740.9ZM882.8 408.9H889.4V415.6H882.8ZM347.6 415.3H354.2V422.1H347.6ZM373.4 415.3H380.0V422.1H373.4ZM612.0 415.3H618.6V422.1H612.0ZM882.8 415.3H889.4V422.1H882.8ZM205.7 421.8H212.3V428.5H205.7ZM231.5 421.8H238.1V428.5H231.5ZM360.5 421.8H380.0V428.5H360.5ZM612.0 421.8H618.6V428.5H612.0ZM734.5 421.8H741.1V428.5H734.5ZM612.0 428.2H618.6V435.0H612.0ZM728.0 428.2H741.1V435.0H728.0ZM876.3 428.2H882.9V435.0H876.3ZM612.0 434.7H618.6V441.4H612.0ZM721.6 434.7H728.2V441.4H721.6ZM618.4 441.1H625.0V447.8H618.4ZM715.1 441.1H721.7V447.8H715.1ZM618.4 447.6H625.0V454.3H618.4ZM1005.3 447.6H1011.9V454.3H1005.3ZM392.7 460.4H405.8V467.2H392.7ZM386.3 466.9H392.9V473.6H386.3ZM418.5 466.9H425.1V473.6H418.5ZM618.4 466.9H625.0V473.6H618.4ZM431.4 473.3H438.0V480.1H431.4ZM612.0 473.3H618.6V480.1H612.0ZM605.5 479.8H612.1V486.5H605.5ZM831.2 479.8H844.2V486.5H831.2ZM366.9 486.2H373.5V493.0H366.9ZM418.5 486.2H425.1V493.0H418.5ZM502.3 486.2H515.4V493.0H502.3ZM599.1 486.2H605.7V493.0H599.1ZM844.1 486.2H850.7V493.0H844.1ZM857.0 486.2H882.9V493.0H857.0ZM270.2 492.7H276.8V499.4H270.2ZM334.7 492.7H341.3V499.4H334.7ZM354.0 492.7H360.6V499.4H354.0ZM483.0 492.7H496.0V499.4H483.0ZM508.8 492.7H515.4V499.4H508.8ZM586.2 492.7H599.2V499.4H586.2ZM895.7 492.7H902.3V499.4H895.7ZM296.0 499.1H302.6V505.9H296.0ZM334.7 499.1H354.2V505.9H334.7ZM418.5 499.1H425.1V505.9H418.5ZM463.6 499.1H483.1V505.9H463.6ZM508.8 499.1H515.4V505.9H508.8ZM586.2 499.1H592.8V505.9H586.2ZM895.7 499.1H908.7V505.9H895.7ZM308.9 505.6H315.5V512.3H308.9ZM341.1 505.6H354.2V512.3H341.1ZM457.2 505.6H463.8V512.3H457.2ZM508.8 505.6H515.4V512.3H508.8ZM579.7 505.6H586.3V512.3H579.7ZM902.1 505.6H934.5V512.3H902.1ZM315.3 512.0H328.4V518.8H315.3ZM515.2 512.0H521.8V518.8H515.2ZM566.8 512.0H573.4V518.8H566.8ZM934.4 512.0H941.0V518.8H934.4ZM231.5 518.5H251.0V525.2H231.5ZM315.3 518.5H328.4V525.2H315.3ZM902.1 518.5H915.2V525.2H902.1ZM225.1 524.9H231.7V531.7H225.1ZM250.8 524.9H257.4V531.7H250.8ZM308.9 524.9H321.9V531.7H308.9ZM437.9 524.9H444.4V531.7H437.9ZM450.7 524.9H457.3V531.7H450.7ZM502.3 524.9H508.9V531.7H502.3ZM302.4 531.4H309.0V538.1H302.4ZM437.9 531.4H444.4V538.1H437.9ZM495.9 531.4H502.5V538.1H495.9ZM508.8 531.4H521.8V538.1H508.8ZM998.9 531.4H1005.5V538.1H998.9ZM1031.1 531.4H1037.7V538.1H1031.1ZM302.4 537.8H309.0V544.6H302.4ZM437.9 537.8H444.4V544.6H437.9ZM495.9 537.8H502.5V544.6H495.9ZM515.2 537.8H521.8V544.6H515.2ZM998.9 537.8H1005.5V544.6H998.9ZM1031.1 537.8H1037.7V544.6H1031.1Z"/>
<path fill="#ff9700" d="M811.9 60.7H876.5V67.4H811.9ZM927.9 60.7H1050.6V67.4H927.9ZM811.9 67.1H876.5V73.8H811.9ZM927.9 67.1H1050.6V73.8H927.9ZM811.9 73.5H876.5V80.3H811.9ZM927.9 73.5H1050.6V80.3H927.9ZM1250.3 73.5H1256.9V80.3H1250.3ZM811.9 80.0H876.5V86.7H811.9ZM927.9 80.0H1050.6V86.7H927.9ZM1243.9 80.0H1250.5V86.7H1243.9ZM740.9 86.4H747.5V93.2H740.9ZM811.9 86.4H876.5V93.2H811.9ZM927.9 86.4H1050.6V93.2H927.9ZM811.9 92.9H876.5V99.6H811.9ZM927.9 92.9H1050.6V99.6H927.9ZM728.0 99.3H734.6V106.1H728.0ZM811.9 99.3H876.5V106.1H811.9ZM927.9 99.3H1050.6V106.1H927.9ZM811.9 105.8H876.5V112.5H811.9ZM927.9 105.8H1050.6V112.5H927.9ZM715.1 112.2H721.7V119.0H715.1ZM811.9 112.2H876.5V119.0H811.9ZM927.9 112.2H1050.6V119.0H927.9ZM547.5 118.7H554.1V125.4H547.5ZM715.1 118.7H721.7V125.4H715.1ZM811.9 118.7H876.5V125.4H811.9ZM927.9 118.7H1050.6V125.4H927.9ZM553.9 125.1H560.5V131.9H553.9ZM715.1 125.1H721.7V131.9H715.1ZM811.9 125.1H870.0V131.9H811.9ZM927.9 125.1H1050.6V131.9H927.9ZM560.4 131.6H567.0V138.3H560.4ZM715.1 131.6H721.7V138.3H715.1ZM747.4 131.6H754.0V138.3H747.4ZM824.8 131.6H857.1V138.3H824.8ZM927.9 131.6H1050.6V138.3H927.9ZM560.4 138.0H567.0V144.8H560.4ZM715.1 138.0H721.7V144.8H715.1ZM760.3 138.0H766.9V144.8H760.3ZM824.8 138.0H857.1V144.8H824.8ZM927.9 138.0H1050.6V144.8H927.9ZM560.4 144.5H567.0V151.2H560.4ZM702.2 144.5H721.7V151.2H702.2ZM824.8 144.5H857.1V151.2H824.8ZM927.9 144.5H1050.6V151.2H927.9ZM560.4 150.9H567.0V157.7H560.4ZM695.8 150.9H721.7V157.7H695.8ZM824.8 150.9H857.1V157.7H824.8ZM927.9 150.9H1011.9V157.7H927.9ZM1044.0 150.9H1050.6V157.7H1044.0ZM560.4 157.4H567.0V164.1H560.4ZM695.8 157.4H721.7V164.1H695.8ZM818.3 157.4H824.9V164.1H818.3ZM831.2 157.4H857.1V164.1H831.2ZM934.4 157.4H1011.9V164.1H934.4ZM1044.0 157.4H1050.6V164.1H1044.0ZM560.4 163.8H567.0V170.6H560.4ZM695.8 163.8H721.7V170.6H695.8ZM799.0 163.8H818.5V170.6H799.0ZM921.5 163.8H928.1V170.6H921.5ZM560.4 170.3H567.0V177.0H560.4ZM715.1 170.3H721.7V177.0H715.1ZM786.1 170.3H792.7V177.0H786.1ZM805.4 170.3H812.0V177.0H805.4ZM715.1 176.7H721.7V183.5H715.1ZM773.2 176.7H786.2V183.5H773.2ZM560.4 183.2H567.0V189.9H560.4ZM715.1 183.2H728.2V189.9H715.1ZM541.0 189.6H567.0V196.4H541.0ZM721.6 189.6H728.2V196.4H721.6ZM734.5 189.6H741.1V196.4H734.5ZM560.4 196.1H567.0V202.8H560.4ZM715.1 196.1H728.2V202.8H715.1ZM1050.4 196.1H1057.0V202.8H1050.4ZM1063.3 196.1H1069.9V202.8H1063.3ZM179.9 202.5H186.5V209.3H179.9ZM366.9 202.5H373.5V209.3H366.9ZM1231.0 209.0H1237.6V215.7H1231.0ZM167.0 228.3H173.6V235.1H167.0ZM205.7 241.2H212.3V248.0H205.7ZM225.1 241.2H231.7V248.0H225.1ZM386.3 241.2H392.9V248.0H386.3ZM283.1 254.1H289.7V260.8H283.1ZM1211.7 254.1H1218.2V260.8H1211.7ZM302.4 267.0H309.0V273.7H302.4ZM392.7 267.0H399.3V273.7H392.7ZM334.7 273.4H341.3V280.2H334.7ZM1192.3 273.4H1198.9V280.2H1192.3ZM341.1 279.9H347.7V286.6H341.1ZM1147.2 279.9H1186.0V286.6H1147.2ZM341.1 286.3H347.7V293.1H341.1ZM470.1 286.3H476.7V293.1H470.1ZM1147.2 286.3H1173.1V293.1H1147.2ZM244.4 292.8H251.0V299.5H244.4ZM315.3 292.8H321.9V299.5H315.3ZM360.5 292.8H367.1V299.5H360.5ZM1147.2 292.8H1166.7V299.5H1147.2ZM1295.5 292.8H1302.1V299.5H1295.5ZM876.3 299.2H889.4V306.0H876.3ZM902.1 299.2H908.7V306.0H902.1ZM1147.2 299.2H1166.7V306.0H1147.2ZM1269.7 299.2H1276.3V306.0H1269.7ZM160.6 305.7H167.2V312.4H160.6ZM908.6 305.7H915.2V312.4H908.6ZM283.1 312.1H289.7V318.9H283.1ZM895.7 312.1H902.3V318.9H895.7ZM915.0 312.1H921.6V318.9H915.0ZM1224.5 312.1H1231.1V318.9H1224.5ZM321.8 318.6H328.4V325.3H321.8ZM334.7 318.6H341.3V325.3H334.7ZM902.1 318.6H908.7V325.3H902.1ZM927.9 318.6H934.5V325.3H927.9ZM1211.7 318.6H1218.2V325.3H1211.7ZM766.7 325.0H773.3V331.8H766.7ZM779.6 325.0H786.2V331.8H779.6ZM908.6 325.0H915.2V331.8H908.6ZM934.4 325.0H941.0V331.8H934.4ZM1173.0 325.0H1179.6V331.8H1173.0ZM334.7 331.5H341.3V338.2H334.7ZM760.3 331.5H766.9V338.2H760.3ZM786.1 331.5H792.7V338.2H786.1ZM921.5 331.5H928.1V338.2H921.5ZM940.8 331.5H953.9V338.2H940.8ZM1185.9 331.5H1192.5V338.2H1185.9ZM792.5 337.9H799.1V344.7H792.5ZM927.9 337.9H934.5V344.7H927.9ZM940.8 337.9H947.4V344.7H940.8ZM334.7 344.4H341.3V351.1H334.7ZM792.5 344.4H799.1V351.1H792.5ZM792.5 350.8H799.1V357.6H792.5ZM947.3 350.8H953.9V357.6H947.3ZM747.4 357.3H754.0V364.0H747.4ZM792.5 357.3H799.1V364.0H792.5ZM889.2 357.3H895.8V364.0H889.2ZM308.9 363.7H315.5V370.5H308.9ZM354.0 363.7H360.6V370.5H354.0ZM747.4 363.7H754.0V370.5H747.4ZM792.5 363.7H799.1V370.5H792.5ZM308.9 370.2H315.5V376.9H308.9ZM366.9 370.2H380.0V376.9H366.9ZM637.7 370.2H644.3V376.9H637.7ZM792.5 370.2H799.1V376.9H792.5ZM308.9 376.6H315.5V383.4H308.9ZM392.7 376.6H399.3V383.4H392.7ZM612.0 376.6H618.6V383.4H612.0ZM792.5 376.6H799.1V383.4H792.5ZM863.4 376.6H870.0V383.4H863.4ZM921.5 376.6H928.1V383.4H921.5ZM960.2 376.6H966.8V383.4H960.2ZM308.9 383.1H315.5V389.8H308.9ZM689.3 383.1H695.9V389.8H689.3ZM747.4 383.1H754.0V389.8H747.4ZM779.6 383.1H786.2V389.8H779.6ZM850.5 383.1H857.1V389.8H850.5ZM270.2 389.5H283.2V396.3H270.2ZM302.4 389.5H321.9V396.3H302.4ZM418.5 389.5H425.1V396.3H418.5ZM695.8 389.5H702.4V396.3H695.8ZM844.1 389.5H850.7V396.3H844.1ZM966.6 389.5H973.2V396.3H966.6ZM328.2 396.0H354.2V402.7H328.2ZM702.2 396.0H708.8V402.7H702.2ZM831.2 396.0H837.8V402.7H831.2ZM986.0 396.0H992.6V402.7H986.0ZM341.1 402.4H354.2V409.2H341.1ZM612.0 402.4H618.6V409.2H612.0ZM747.4 402.4H754.0V409.2H747.4ZM792.5 402.4H818.5V409.2H792.5ZM882.8 402.4H889.4V409.2H882.8ZM973.1 402.4H979.7V409.2H973.1ZM347.6 408.9H360.6V415.6H347.6ZM612.0 408.9H618.6V415.6H612.0ZM708.7 408.9H715.3V415.6H708.7ZM992.4 408.9H999.0V415.6H992.4ZM205.7 415.3H212.3V422.1H205.7ZM225.1 415.3H231.7V422.1H225.1ZM238.0 415.3H244.6V422.1H238.0ZM354.0 415.3H373.5V422.1H354.0ZM618.4 415.3H625.0V422.1H618.4ZM740.9 415.3H747.5V422.1H740.9ZM979.5 415.3H986.1V422.1H979.5ZM618.4 421.8H625.0V428.5H618.4ZM998.9 421.8H1005.5V428.5H998.9ZM199.3 428.2H205.9V435.0H199.3ZM373.4 428.2H380.0V435.0H373.4ZM618.4 428.2H625.0V435.0H618.4ZM160.6 434.7H173.6V441.4H160.6ZM179.9 434.7H186.5V441.4H179.9ZM386.3 434.7H392.9V441.4H386.3ZM399.2 434.7H405.8V441.4H399.2ZM618.4 434.7H625.0V441.4H618.4ZM728.0 434.7H734.6V441.4H728.0ZM379.8 441.1H392.9V447.8H379.8ZM399.2 441.1H405.8V447.8H399.2ZM721.6 441.1H728.2V447.8H721.6ZM863.4 441.1H870.0V447.8H863.4ZM715.1 447.6H721.7V454.3H715.1ZM857.0 447.6H863.6V454.3H857.0ZM1011.8 447.6H1018.4V454.3H1011.8ZM624.9 454.0H631.4V460.7H624.9ZM405.6 460.4H412.2V467.2H405.6ZM844.1 460.4H850.7V467.2H844.1ZM392.7 466.9H399.3V473.6H392.7ZM837.6 466.9H844.2V473.6H837.6ZM386.3 473.3H392.9V480.1H386.3ZM425.0 473.3H431.6V480.1H425.0ZM618.4 473.3H625.0V480.1H618.4ZM379.8 479.8H386.4V486.5H379.8ZM418.5 479.8H425.1V486.5H418.5ZM612.0 479.8H618.6V486.5H612.0ZM373.4 486.2H380.0V493.0H373.4ZM605.5 486.2H612.1V493.0H605.5ZM837.6 486.2H844.2V493.0H837.6ZM276.6 492.7H302.6V499.4H276.6ZM321.8 492.7H334.8V499.4H321.8ZM412.1 492.7H418.7V499.4H412.1ZM495.9 492.7H508.9V499.4H495.9ZM599.1 492.7H605.7V499.4H599.1ZM850.5 492.7H857.1V499.4H850.5ZM889.2 492.7H895.8V499.4H889.2ZM302.4 499.1H309.0V505.9H302.4ZM321.8 499.1H334.8V505.9H321.8ZM354.0 499.1H360.6V505.9H354.0ZM412.1 499.1H418.7V505.9H412.1ZM483.0 499.1H508.9V505.9H483.0ZM592.6 499.1H599.2V505.9H592.6ZM889.2 499.1H895.8V505.9H889.2ZM315.3 505.6H341.3V512.3H315.3ZM354.0 505.6H360.6V512.3H354.0ZM418.5 505.6H431.6V512.3H418.5ZM463.6 505.6H470.2V512.3H463.6ZM495.9 505.6H508.9V512.3H495.9ZM889.2 505.6H902.3V512.3H889.2ZM328.2 512.0H354.2V518.8H328.2ZM386.3 512.0H412.2V518.8H386.3ZM431.4 512.0H438.0V518.8H431.4ZM457.2 512.0H463.8V518.8H457.2ZM502.3 512.0H515.4V518.8H502.3ZM573.3 512.0H579.9V518.8H573.3ZM889.2 512.0H934.5V518.8H889.2ZM328.2 518.5H354.2V525.2H328.2ZM386.3 518.5H399.3V525.2H386.3ZM431.4 518.5H438.0V525.2H431.4ZM495.9 518.5H508.9V525.2H495.9ZM895.7 518.5H902.3V525.2H895.7ZM238.0 524.9H251.0V531.7H238.0ZM321.8 524.9H360.6V531.7H321.8ZM379.8 524.9H392.9V531.7H379.8ZM495.9 524.9H502.5V531.7H495.9ZM508.8 524.9H528.3V531.7H508.8ZM895.7 524.9H902.3V531.7H895.7ZM225.1 531.4H231.7V538.1H225.1ZM250.8 531.4H257.4V538.1H250.8ZM308.9 531.4H392.9V538.1H308.9ZM450.7 531.4H457.3V538.1H450.7ZM521.7 531.4H528.3V538.1H521.7ZM895.7 531.4H902.3V538.1H895.7ZM1005.3 531.4H1031.2V538.1H1005.3ZM225.1 537.8H231.7V544.6H225.1ZM250.8 537.8H257.4V544.6H250.8ZM308.9 537.8H392.9V544.6H308.9ZM450.7 537.8H457.3V544.6H450.7ZM521.7 537.8H528.3V544.6H521.7ZM895.7 537.8H902.3V544.6H895.7ZM1005.3 537.8H1031.2V544.6H1005.3Z"/>
<path fill="#ff8300" d="M734.5 86.4H741.1V93.2H734.5ZM740.9 92.9H747.5V99.6H740.9ZM740.9 99.3H747.5V106.1H740.9ZM541.0 105.8H547.6V112.5H541.0ZM721.6 105.8H728.2V112.5H721.6ZM740.9 105.8H747.5V112.5H740.9ZM721.6 112.2H728.2V119.0H721.6ZM740.9 112.2H747.5V119.0H740.9ZM721.6 118.7H728.2V125.4H721.6ZM740.9 118.7H747.5V125.4H740.9ZM547.5 125.1H554.1V131.9H547.5ZM721.6 125.1H728.2V131.9H721.6ZM740.9 125.1H747.5V131.9H740.9ZM553.9 131.6H560.5V138.3H553.9ZM721.6 131.6H728.2V138.3H721.6ZM740.9 131.6H747.5V138.3H740.9ZM553.9 138.0H560.5V144.8H553.9ZM721.6 138.0H728.2V144.8H721.6ZM747.4 138.0H760.4V144.8H747.4ZM553.9 144.5H560.5V151.2H553.9ZM721.6 144.5H728.2V151.2H721.6ZM760.3 144.5H766.9V151.2H760.3ZM553.9 150.9H560.5V157.7H553.9ZM721.6 150.9H728.2V157.7H721.6ZM760.3 150.9H766.9V157.7H760.3ZM553.9 157.4H560.5V164.1H553.9ZM721.6 157.4H728.2V164.1H721.6ZM760.3 157.4H766.9V164.1H760.3ZM553.9 163.8H560.5V170.6H553.9ZM721.6 163.8H728.2V170.6H721.6ZM760.3 163.8H766.9V170.6H760.3ZM553.9 170.3H560.5V177.0H553.9ZM721.6 170.3H728.2V177.0H721.6ZM721.6 176.7H728.2V183.5H721.6ZM547.5 183.2H560.5V189.9H547.5ZM753.8 183.2H760.4V189.9H753.8ZM1198.8 260.5H1205.4V267.3H1198.8ZM1185.9 279.9H1192.5V286.6H1185.9ZM1173.0 286.3H1179.6V293.1H1173.0ZM1166.5 292.8H1173.1V299.5H1166.5ZM889.2 299.2H902.3V306.0H889.2ZM1166.5 299.2H1173.1V306.0H1166.5ZM154.1 305.7H160.7V312.4H154.1ZM276.6 305.7H283.2V312.4H276.6ZM889.2 305.7H908.7V312.4H889.2ZM1166.5 305.7H1173.1V312.4H1166.5ZM902.1 312.1H915.2V318.9H902.1ZM283.1 318.6H289.7V325.3H283.1ZM908.6 318.6H928.1V325.3H908.6ZM773.2 325.0H779.8V331.8H773.2ZM915.0 325.0H934.5V331.8H915.0ZM766.7 331.5H786.2V338.2H766.7ZM927.9 331.5H941.0V338.2H927.9ZM753.8 337.9H760.4V344.7H753.8ZM786.1 337.9H792.7V344.7H786.1ZM934.4 337.9H941.0V344.7H934.4ZM786.1 344.4H792.7V351.1H786.1ZM960.2 344.4H966.8V351.1H960.2ZM786.1 350.8H792.7V357.6H786.1ZM786.1 357.3H792.7V364.0H786.1ZM786.1 363.7H792.7V370.5H786.1ZM882.8 363.7H889.4V370.5H882.8ZM747.4 370.2H754.0V376.9H747.4ZM786.1 370.2H792.7V376.9H786.1ZM876.3 370.2H882.9V376.9H876.3ZM747.4 376.6H754.0V383.4H747.4ZM786.1 376.6H792.7V383.4H786.1ZM302.4 383.1H309.0V389.8H302.4ZM612.0 383.1H618.6V389.8H612.0ZM773.2 383.1H779.8V389.8H773.2ZM857.0 383.1H863.6V389.8H857.0ZM979.5 383.1H986.1V389.8H979.5ZM612.0 389.5H618.6V396.3H612.0ZM773.2 389.5H779.8V396.3H773.2ZM263.7 396.0H270.3V402.7H263.7ZM612.0 396.0H618.6V402.7H612.0ZM753.8 396.0H760.4V402.7H753.8ZM773.2 396.0H779.8V402.7H773.2ZM882.8 396.0H889.4V402.7H882.8ZM786.1 402.4H792.7V409.2H786.1ZM818.3 402.4H831.3V409.2H818.3ZM212.2 408.9H218.8V415.6H212.2ZM618.4 408.9H625.0V415.6H618.4ZM747.4 408.9H754.0V415.6H747.4ZM708.7 415.3H715.3V422.1H708.7ZM708.7 421.8H715.3V428.5H708.7ZM876.3 421.8H882.9V428.5H876.3ZM708.7 428.2H715.3V435.0H708.7ZM869.9 428.2H876.5V435.0H869.9ZM1005.3 428.2H1011.9V435.0H1005.3ZM708.7 434.7H715.3V441.4H708.7ZM734.5 434.7H741.1V441.4H734.5ZM624.9 441.1H631.4V447.8H624.9ZM708.7 441.1H715.3V447.8H708.7ZM624.9 447.6H631.4V454.3H624.9ZM708.7 447.6H715.3V454.3H708.7ZM708.7 454.0H721.7V460.7H708.7ZM624.9 460.4H631.4V467.2H624.9ZM399.2 466.9H405.8V473.6H399.2ZM412.1 466.9H418.7V473.6H412.1ZM392.7 473.3H399.3V480.1H392.7ZM418.5 473.3H425.1V480.1H418.5ZM618.4 479.8H625.0V486.5H618.4ZM412.1 486.2H418.7V493.0H412.1ZM612.0 486.2H618.6V493.0H612.0ZM831.2 486.2H837.8V493.0H831.2ZM302.4 492.7H309.0V499.4H302.4ZM315.3 492.7H321.9V499.4H315.3ZM360.5 492.7H367.1V499.4H360.5ZM605.5 492.7H612.1V499.4H605.5ZM811.9 492.7H824.9V499.4H811.9ZM844.1 492.7H850.7V499.4H844.1ZM857.0 492.7H870.0V499.4H857.0ZM876.3 492.7H889.4V499.4H876.3ZM308.9 499.1H321.9V505.9H308.9ZM360.5 499.1H367.1V505.9H360.5ZM844.1 499.1H863.6V505.9H844.1ZM882.8 499.1H889.4V505.9H882.8ZM360.5 505.6H367.1V512.3H360.5ZM392.7 505.6H418.7V512.3H392.7ZM470.1 505.6H496.0V512.3H470.1ZM586.2 505.6H592.8V512.3H586.2ZM882.8 505.6H889.4V512.3H882.8ZM354.0 512.0H367.1V518.8H354.0ZM379.8 512.0H386.4V518.8H379.8ZM412.1 512.0H425.1V518.8H412.1ZM495.9 512.0H502.5V518.8H495.9ZM579.7 512.0H586.3V518.8H579.7ZM882.8 512.0H889.4V518.8H882.8ZM354.0 518.5H367.1V525.2H354.0ZM373.4 518.5H386.4V525.2H373.4ZM399.2 518.5H418.7V525.2H399.2ZM457.2 518.5H463.8V525.2H457.2ZM489.4 518.5H496.0V525.2H489.4ZM508.8 518.5H579.9V525.2H508.8ZM882.8 518.5H895.8V525.2H882.8ZM231.5 524.9H238.1V531.7H231.5ZM360.5 524.9H380.0V531.7H360.5ZM392.7 524.9H405.8V531.7H392.7ZM431.4 524.9H438.0V531.7H431.4ZM489.4 524.9H496.0V531.7H489.4ZM528.1 524.9H560.5V531.7H528.1ZM889.2 524.9H895.8V531.7H889.2ZM238.0 531.4H251.0V538.1H238.0ZM392.7 531.4H399.3V538.1H392.7ZM431.4 531.4H438.0V538.1H431.4ZM489.4 531.4H496.0V538.1H489.4ZM528.1 531.4H541.2V538.1H528.1ZM244.4 537.8H251.0V544.6H244.4ZM392.7 537.8H399.3V544.6H392.7ZM431.4 537.8H438.0V544.6H431.4ZM489.4 537.8H496.0V544.6H489.4ZM528.1 537.8H534.7V544.6H528.1Z"/>
<path fill="#ff7000" d="M1295.5 60.7H1308.5V67.4H1295.5ZM1295.5 67.1H1308.5V73.8H1295.5ZM1295.5 73.5H1308.5V80.3H1295.5ZM1250.3 80.0H1256.9V86.7H1250.3ZM1295.5 80.0H1308.5V86.7H1295.5ZM1295.5 86.4H1308.5V93.2H1295.5ZM734.5 92.9H741.1V99.6H734.5ZM1295.5 92.9H1308.5V99.6H1295.5ZM734.5 99.3H741.1V106.1H734.5ZM1295.5 99.3H1308.5V106.1H1295.5ZM728.0 105.8H741.1V112.5H728.0ZM1295.5 105.8H1308.5V112.5H1295.5ZM541.0 112.2H547.6V119.0H541.0ZM728.0 112.2H741.1V119.0H728.0ZM1295.5 112.2H1308.5V119.0H1295.5ZM541.0 118.7H547.6V125.4H541.0ZM728.0 118.7H741.1V125.4H728.0ZM1295.5 118.7H1308.5V125.4H1295.5ZM541.0 125.1H547.6V131.9H541.0ZM728.0 125.1H741.1V131.9H728.0ZM1295.5 125.1H1308.5V131.9H1295.5ZM541.0 131.6H554.1V138.3H541.0ZM728.0 131.6H741.1V138.3H728.0ZM1295.5 131.6H1308.5V138.3H1295.5ZM541.0 138.0H554.1V144.8H541.0ZM728.0 138.0H747.5V144.8H728.0ZM1295.5 138.0H1308.5V144.8H1295.5ZM541.0 144.5H554.1V151.2H541.0ZM728.0 144.5H760.4V151.2H728.0ZM1295.5 144.5H1308.5V151.2H1295.5ZM541.0 150.9H554.1V157.7H541.0ZM728.0 150.9H760.4V157.7H728.0ZM1295.5 150.9H1308.5V157.7H1295.5ZM541.0 157.4H554.1V164.1H541.0ZM728.0 157.4H760.4V164.1H728.0ZM824.8 157.4H831.3V164.1H824.8ZM1295.5 157.4H1308.5V164.1H1295.5ZM541.0 163.8H554.1V170.6H541.0ZM728.0 163.8H741.1V170.6H728.0ZM753.8 163.8H760.4V170.6H753.8ZM824.8 163.8H831.3V170.6H824.8ZM927.9 163.8H973.2V170.6H927.9ZM1295.5 163.8H1308.5V170.6H1295.5ZM541.0 170.3H554.1V177.0H541.0ZM728.0 170.3H741.1V177.0H728.0ZM753.8 170.3H760.4V177.0H753.8ZM792.5 170.3H805.6V177.0H792.5ZM1295.5 170.3H1308.5V177.0H1295.5ZM205.7 176.7H212.3V183.5H205.7ZM541.0 176.7H554.1V183.5H541.0ZM560.4 176.7H567.0V183.5H560.4ZM728.0 176.7H734.6V183.5H728.0ZM747.4 176.7H760.4V183.5H747.4ZM1295.5 176.7H1308.5V183.5H1295.5ZM728.0 183.2H741.1V189.9H728.0ZM747.4 183.2H754.0V189.9H747.4ZM1295.5 183.2H1308.5V189.9H1295.5ZM715.1 189.6H721.7V196.4H715.1ZM728.0 189.6H734.6V196.4H728.0ZM1295.5 189.6H1308.5V196.4H1295.5ZM1056.9 196.1H1063.5V202.8H1056.9ZM1295.5 196.1H1308.5V202.8H1295.5ZM1295.5 202.5H1308.5V209.3H1295.5ZM1295.5 209.0H1308.5V215.7H1295.5ZM1231.0 215.4H1237.6V222.2H1231.0ZM1295.5 215.4H1308.5V222.2H1295.5ZM1218.1 221.9H1224.7V228.6H1218.1ZM1295.5 221.9H1308.5V228.6H1295.5ZM1218.1 228.3H1224.7V235.1H1218.1ZM1295.5 228.3H1308.5V235.1H1295.5ZM1218.1 234.8H1224.7V241.5H1218.1ZM1295.5 234.8H1308.5V241.5H1295.5ZM1218.1 241.2H1224.7V248.0H1218.1ZM1295.5 241.2H1308.5V248.0H1295.5ZM1218.1 247.7H1224.7V254.4H1218.1ZM1295.5 247.7H1308.5V254.4H1295.5ZM1218.1 254.1H1224.7V260.8H1218.1ZM1295.5 254.1H1308.5V260.8H1295.5ZM1205.2 260.5H1224.7V267.3H1205.2ZM1295.5 260.5H1308.5V267.3H1295.5ZM1198.8 267.0H1224.7V273.7H1198.8ZM1295.5 267.0H1308.5V273.7H1295.5ZM328.2 273.4H334.8V280.2H328.2ZM1198.8 273.4H1224.7V280.2H1198.8ZM1295.5 273.4H1308.5V280.2H1295.5ZM1192.3 279.9H1224.7V286.6H1192.3ZM1295.5 279.9H1308.5V286.6H1295.5ZM1179.4 286.3H1224.7V293.1H1179.4ZM1256.8 286.3H1282.7V293.1H1256.8ZM1301.9 286.3H1308.5V293.1H1301.9ZM257.3 292.8H263.9V299.5H257.3ZM354.0 292.8H360.6V299.5H354.0ZM366.9 292.8H380.0V299.5H366.9ZM1173.0 292.8H1179.6V299.5H1173.0ZM1198.8 292.8H1224.7V299.5H1198.8ZM1256.8 292.8H1263.4V299.5H1256.8ZM1282.6 292.8H1295.6V299.5H1282.6ZM354.0 299.2H360.6V306.0H354.0ZM1198.8 299.2H1224.7V306.0H1198.8ZM1263.2 299.2H1269.8V306.0H1263.2ZM270.2 305.7H276.8V312.4H270.2ZM1198.8 305.7H1205.4V312.4H1198.8ZM341.1 312.1H347.7V318.9H341.1ZM1211.7 312.1H1224.7V318.9H1211.7ZM1166.5 318.6H1173.1V325.3H1166.5ZM1205.2 318.6H1211.8V325.3H1205.2ZM283.1 325.0H289.7V331.8H283.1ZM1179.4 325.0H1198.9V331.8H1179.4ZM315.3 331.5H321.9V338.2H315.3ZM315.3 337.9H321.9V344.7H315.3ZM760.3 337.9H786.2V344.7H760.3ZM321.8 344.4H328.4V351.1H321.8ZM753.8 344.4H773.3V351.1H753.8ZM779.6 344.4H786.2V351.1H779.6ZM947.3 344.4H953.9V351.1H947.3ZM753.8 350.8H766.9V357.6H753.8ZM753.8 357.3H760.4V364.0H753.8ZM953.7 357.3H960.3V364.0H953.7ZM966.6 357.3H973.2V364.0H966.6ZM753.8 363.7H766.9V370.5H753.8ZM889.2 363.7H915.2V370.5H889.2ZM753.8 370.2H773.3V376.9H753.8ZM779.6 370.2H786.2V376.9H779.6ZM960.2 370.2H966.8V376.9H960.2ZM973.1 370.2H979.7V376.9H973.1ZM302.4 376.6H309.0V383.4H302.4ZM618.4 376.6H683.0V383.4H618.4ZM753.8 376.6H786.2V383.4H753.8ZM869.9 376.6H876.5V383.4H869.9ZM296.0 383.1H302.6V389.8H296.0ZM618.4 383.1H625.0V389.8H618.4ZM682.9 383.1H689.5V389.8H682.9ZM753.8 383.1H773.3V389.8H753.8ZM263.7 389.5H270.3V396.3H263.7ZM283.1 389.5H289.7V396.3H283.1ZM618.4 389.5H625.0V396.3H618.4ZM753.8 389.5H773.3V396.3H753.8ZM850.5 389.5H857.1V396.3H850.5ZM895.7 389.5H915.2V396.3H895.7ZM257.3 396.0H263.9V402.7H257.3ZM418.5 396.0H425.1V402.7H418.5ZM618.4 396.0H625.0V402.7H618.4ZM760.3 396.0H773.3V402.7H760.3ZM837.6 396.0H844.2V402.7H837.6ZM250.8 402.4H257.4V409.2H250.8ZM618.4 402.4H625.0V409.2H618.4ZM702.2 402.4H708.8V409.2H702.2ZM753.8 402.4H786.2V409.2H753.8ZM831.2 402.4H837.8V409.2H831.2ZM218.6 408.9H225.2V415.6H218.6ZM154.1 415.3H160.7V422.1H154.1ZM231.5 415.3H238.1V422.1H231.5ZM747.4 415.3H754.0V422.1H747.4ZM167.0 421.8H173.6V428.5H167.0ZM199.3 421.8H205.9V428.5H199.3ZM624.9 421.8H631.4V428.5H624.9ZM740.9 421.8H747.5V428.5H740.9ZM986.0 421.8H992.6V428.5H986.0ZM167.0 428.2H180.1V435.0H167.0ZM624.9 428.2H631.4V435.0H624.9ZM173.5 434.7H180.1V441.4H173.5ZM186.4 434.7H199.4V441.4H186.4ZM392.7 434.7H399.3V441.4H392.7ZM624.9 434.7H631.4V441.4H624.9ZM392.7 441.1H399.3V447.8H392.7ZM728.0 441.1H734.6V447.8H728.0ZM1018.2 441.1H1024.8V447.8H1018.2ZM702.2 447.6H708.8V454.3H702.2ZM721.6 447.6H728.2V454.3H721.6ZM702.2 454.0H708.8V460.7H702.2ZM844.1 454.0H850.7V460.7H844.1ZM405.6 466.9H412.2V473.6H405.6ZM624.9 466.9H631.4V473.6H624.9ZM831.2 466.9H837.8V473.6H831.2ZM824.8 473.3H831.3V480.1H824.8ZM386.3 479.8H399.3V486.5H386.3ZM412.1 479.8H418.7V486.5H412.1ZM824.8 479.8H831.3V486.5H824.8ZM379.8 486.2H386.4V493.0H379.8ZM618.4 486.2H625.0V493.0H618.4ZM818.3 486.2H831.3V493.0H818.3ZM308.9 492.7H315.5V499.4H308.9ZM366.9 492.7H373.5V499.4H366.9ZM405.6 492.7H412.2V499.4H405.6ZM612.0 492.7H618.6V499.4H612.0ZM824.8 492.7H844.2V499.4H824.8ZM869.9 492.7H876.5V499.4H869.9ZM366.9 499.1H373.5V505.9H366.9ZM399.2 499.1H412.2V505.9H399.2ZM599.1 499.1H612.1V505.9H599.1ZM831.2 499.1H844.2V505.9H831.2ZM863.4 499.1H882.9V505.9H863.4ZM366.9 505.6H392.9V512.3H366.9ZM592.6 505.6H599.2V512.3H592.6ZM831.2 505.6H882.9V512.3H831.2ZM366.9 512.0H380.0V518.8H366.9ZM425.0 512.0H431.6V518.8H425.0ZM463.6 512.0H496.0V518.8H463.6ZM586.2 512.0H592.8V518.8H586.2ZM863.4 512.0H882.9V518.8H863.4ZM366.9 518.5H373.5V525.2H366.9ZM418.5 518.5H431.6V525.2H418.5ZM483.0 518.5H489.6V525.2H483.0ZM579.7 518.5H592.8V525.2H579.7ZM869.9 518.5H882.9V525.2H869.9ZM405.6 524.9H431.6V531.7H405.6ZM457.2 524.9H463.8V531.7H457.2ZM560.4 524.9H586.3V531.7H560.4ZM869.9 524.9H889.4V531.7H869.9ZM231.5 531.4H238.1V538.1H231.5ZM399.2 531.4H431.6V538.1H399.2ZM541.0 531.4H586.3V538.1H541.0ZM876.3 531.4H895.8V538.1H876.3ZM231.5 537.8H244.6V544.6H231.5ZM399.2 537.8H431.6V544.6H399.2ZM534.6 537.8H579.9V544.6H534.6ZM876.3 537.8H895.8V544.6H876.3Z"/>
<path fill="#ff5c00" d="M1289.0 60.7H1295.6V67.4H1289.0ZM1289.0 67.1H1295.6V73.8H1289.0ZM1289.0 73.5H1295.6V80.3H1289.0ZM1289.0 80.0H1295.6V86.7H1289.0ZM1237.4 86.4H1244.0V93.2H1237.4ZM1289.0 86.4H1295.6V93.2H1289.0ZM1289.0 92.9H1295.6V99.6H1289.0ZM1289.0 99.3H1295.6V106.1H1289.0ZM1289.0 105.8H1295.6V112.5H1289.0ZM1289.0 112.2H1295.6V119.0H1289.0ZM1289.0 118.7H1295.6V125.4H1289.0ZM1289.0 125.1H1295.6V131.9H1289.0ZM1289.0 131.6H1295.6V138.3H1289.0ZM1289.0 138.0H1295.6V144.8H1289.0ZM1289.0 144.5H1295.6V151.2H1289.0ZM1289.0 150.9H1295.6V157.7H1289.0ZM1289.0 157.4H1295.6V164.1H1289.0ZM1289.0 163.8H1295.6V170.6H1289.0ZM1289.0 170.3H1295.6V177.0H1289.0ZM1289.0 176.7H1295.6V183.5H1289.0ZM1289.0 183.2H1295.6V189.9H1289.0ZM1289.0 189.6H1295.6V196.4H1289.0ZM1289.0 196.1H1295.6V202.8H1289.0ZM1289.0 202.5H1295.6V209.3H1289.0ZM1289.0 209.0H1295.6V215.7H1289.0ZM1289.0 215.4H1295.6V222.2H1289.0ZM1224.5 221.9H1231.1V228.6H1224.5ZM1289.0 221.9H1295.6V228.6H1289.0ZM1224.5 228.3H1231.1V235.1H1224.5ZM1289.0 228.3H1295.6V235.1H1289.0ZM1224.5 234.8H1231.1V241.5H1224.5ZM1289.0 234.8H1295.6V241.5H1289.0ZM1224.5 241.2H1231.1V248.0H1224.5ZM1289.0 241.2H1295.6V248.0H1289.0ZM1224.5 247.7H1231.1V254.4H1224.5ZM1289.0 247.7H1295.6V254.4H1289.0ZM1224.5 254.1H1231.1V260.8H1224.5ZM1289.0 254.1H1295.6V260.8H1289.0ZM1224.5 260.5H1231.1V267.3H1224.5ZM1289.0 260.5H1295.6V267.3H1289.0ZM1224.5 267.0H1231.1V273.7H1224.5ZM1289.0 267.0H1295.6V273.7H1289.0ZM1224.5 273.4H1231.1V280.2H1224.5ZM1256.8 273.4H1263.4V280.2H1256.8ZM1289.0 273.4H1295.6V280.2H1289.0ZM321.8 279.9H328.4V286.6H321.8ZM1224.5 279.9H1231.1V286.6H1224.5ZM1250.3 279.9H1269.8V286.6H1250.3ZM1289.0 279.9H1295.6V286.6H1289.0ZM1224.5 286.3H1231.1V293.1H1224.5ZM1250.3 286.3H1256.9V293.1H1250.3ZM1179.4 292.8H1198.9V299.5H1179.4ZM1224.5 292.8H1231.1V299.5H1224.5ZM1250.3 292.8H1256.9V299.5H1250.3ZM263.7 299.2H270.3V306.0H263.7ZM1173.0 299.2H1179.6V306.0H1173.0ZM1192.3 299.2H1198.9V306.0H1192.3ZM238.0 305.7H244.6V312.4H238.0ZM1173.0 305.7H1179.6V312.4H1173.0ZM1192.3 305.7H1198.9V312.4H1192.3ZM186.4 312.1H205.9V318.9H186.4ZM276.6 312.1H283.2V318.9H276.6ZM283.1 331.5H289.7V338.2H283.1ZM283.1 337.9H289.7V344.7H283.1ZM953.7 337.9H960.3V344.7H953.7ZM773.2 344.4H779.8V351.1H773.2ZM766.7 350.8H786.2V357.6H766.7ZM302.4 357.3H309.0V364.0H302.4ZM760.3 357.3H773.3V364.0H760.3ZM779.6 357.3H786.2V364.0H779.6ZM302.4 363.7H309.0V370.5H302.4ZM766.7 363.7H786.2V370.5H766.7ZM302.4 370.2H309.0V376.9H302.4ZM773.2 370.2H779.8V376.9H773.2ZM882.8 370.2H889.4V376.9H882.8ZM915.0 370.2H921.6V376.9H915.0ZM289.5 383.1H296.1V389.8H289.5ZM624.9 383.1H644.3V389.8H624.9ZM863.4 383.1H870.0V389.8H863.4ZM966.6 383.1H973.2V389.8H966.6ZM624.9 389.5H637.9V396.3H624.9ZM689.3 389.5H695.9V396.3H689.3ZM857.0 389.5H863.6V396.3H857.0ZM889.2 389.5H895.8V396.3H889.2ZM979.5 389.5H986.1V396.3H979.5ZM624.9 396.0H631.4V402.7H624.9ZM695.8 396.0H702.4V402.7H695.8ZM844.1 396.0H850.7V402.7H844.1ZM973.1 396.0H979.7V402.7H973.1ZM624.9 402.4H631.4V409.2H624.9ZM986.0 402.4H992.6V409.2H986.0ZM205.7 408.9H212.3V415.6H205.7ZM238.0 408.9H244.6V415.6H238.0ZM624.9 408.9H631.4V415.6H624.9ZM702.2 408.9H708.8V415.6H702.2ZM753.8 408.9H773.3V415.6H753.8ZM805.4 408.9H824.9V415.6H805.4ZM876.3 408.9H882.9V415.6H876.3ZM979.5 408.9H986.1V415.6H979.5ZM199.3 415.3H205.9V422.1H199.3ZM624.9 415.3H631.4V422.1H624.9ZM876.3 415.3H882.9V422.1H876.3ZM992.4 415.3H999.0V422.1H992.4ZM740.9 428.2H747.5V435.0H740.9ZM631.3 434.7H637.9V441.4H631.3ZM702.2 434.7H708.8V441.4H702.2ZM863.4 434.7H870.0V441.4H863.4ZM1011.8 434.7H1018.4V441.4H1011.8ZM631.3 441.1H637.9V447.8H631.3ZM702.2 441.1H708.8V447.8H702.2ZM1005.3 441.1H1011.9V447.8H1005.3ZM631.3 447.6H637.9V454.3H631.3ZM631.3 454.0H637.9V460.7H631.3ZM695.8 454.0H702.4V460.7H695.8ZM631.3 460.4H637.9V467.2H631.3ZM837.6 460.4H844.2V467.2H837.6ZM399.2 473.3H405.8V480.1H399.2ZM412.1 473.3H418.7V480.1H412.1ZM624.9 473.3H631.4V480.1H624.9ZM399.2 479.8H405.8V486.5H399.2ZM624.9 479.8H631.4V486.5H624.9ZM386.3 486.2H412.2V493.0H386.3ZM811.9 486.2H818.5V493.0H811.9ZM373.4 492.7H380.0V499.4H373.4ZM399.2 492.7H405.8V499.4H399.2ZM618.4 492.7H625.0V499.4H618.4ZM373.4 499.1H399.3V505.9H373.4ZM612.0 499.1H618.6V505.9H612.0ZM811.9 499.1H831.3V505.9H811.9ZM599.1 505.6H612.1V512.3H599.1ZM592.6 512.0H605.7V518.8H592.6ZM831.2 512.0H863.6V518.8H831.2ZM463.6 518.5H483.1V525.2H463.6ZM592.6 518.5H599.2V525.2H592.6ZM863.4 518.5H870.0V525.2H863.4ZM483.0 524.9H489.6V531.7H483.0ZM586.2 524.9H592.8V531.7H586.2ZM457.2 531.4H463.8V538.1H457.2ZM869.9 531.4H876.5V538.1H869.9ZM457.2 537.8H463.8V544.6H457.2ZM483.0 537.8H489.6V544.6H483.0ZM579.7 537.8H586.3V544.6H579.7ZM869.9 537.8H876.5V544.6H869.9Z"/>
<path fill="#ff4800" d="M1256.8 60.7H1263.4V67.4H1256.8ZM1282.6 60.7H1289.2V67.4H1282.6ZM1256.8 67.1H1263.4V73.8H1256.8ZM1282.6 67.1H1289.2V73.8H1282.6ZM1256.8 73.5H1263.4V80.3H1256.8ZM1282.6 73.5H1289.2V80.3H1282.6ZM1282.6 80.0H1289.2V86.7H1282.6ZM1243.9 86.4H1250.5V93.2H1243.9ZM1282.6 86.4H1289.2V93.2H1282.6ZM1237.4 92.9H1244.0V99.6H1237.4ZM1282.6 92.9H1289.2V99.6H1282.6ZM1237.4 99.3H1244.0V106.1H1237.4ZM1282.6 99.3H1289.2V106.1H1282.6ZM1237.4 105.8H1244.0V112.5H1237.4ZM1282.6 105.8H1289.2V112.5H1282.6ZM1237.4 112.2H1244.0V119.0H1237.4ZM1282.6 112.2H1289.2V119.0H1282.6ZM1237.4 118.7H1244.0V125.4H1237.4ZM1282.6 118.7H1289.2V125.4H1282.6ZM1237.4 125.1H1244.0V131.9H1237.4ZM1282.6 125.1H1289.2V131.9H1282.6ZM1237.4 131.6H1244.0V138.3H1237.4ZM1282.6 131.6H1289.2V138.3H1282.6ZM1237.4 138.0H1244.0V144.8H1237.4ZM1282.6 138.0H1289.2V144.8H1282.6ZM1237.4 144.5H1244.0V151.2H1237.4ZM1282.6 144.5H1289.2V151.2H1282.6ZM1237.4 150.9H1244.0V157.7H1237.4ZM1282.6 150.9H1289.2V157.7H1282.6ZM1237.4 157.4H1244.0V164.1H1237.4ZM1282.6 157.4H1289.2V164.1H1282.6ZM1237.4 163.8H1244.0V170.6H1237.4ZM1282.6 163.8H1289.2V170.6H1282.6ZM1237.4 170.3H1244.0V177.0H1237.4ZM1282.6 170.3H1289.2V177.0H1282.6ZM1237.4 176.7H1244.0V183.5H1237.4ZM1282.6 176.7H1289.2V183.5H1282.6ZM1237.4 183.2H1244.0V189.9H1237.4ZM1282.6 183.2H1289.2V189.9H1282.6ZM1237.4 189.6H1244.0V196.4H1237.4ZM1282.6 189.6H1289.2V196.4H1282.6ZM1237.4 196.1H1244.0V202.8H1237.4ZM1282.6 196.1H1289.2V202.8H1282.6ZM1237.4 202.5H1244.0V209.3H1237.4ZM1282.6 202.5H1289.2V209.3H1282.6ZM1237.4 209.0H1244.0V215.7H1237.4ZM1282.6 209.0H1289.2V215.7H1282.6ZM1237.4 215.4H1244.0V222.2H1237.4ZM1282.6 215.4H1289.2V222.2H1282.6ZM1231.0 221.9H1237.6V228.6H1231.0ZM1282.6 221.9H1289.2V228.6H1282.6ZM1231.0 228.3H1237.6V235.1H1231.0ZM1282.6 228.3H1289.2V235.1H1282.6ZM1231.0 234.8H1237.6V241.5H1231.0ZM1282.6 234.8H1289.2V241.5H1282.6ZM1231.0 241.2H1237.6V248.0H1231.0ZM1282.6 241.2H1289.2V248.0H1282.6ZM1231.0 247.7H1237.6V254.4H1231.0ZM1282.6 247.7H1289.2V254.4H1282.6ZM1231.0 254.1H1237.6V260.8H1231.0ZM1282.6 254.1H1289.2V260.8H1282.6ZM1231.0 260.5H1237.6V267.3H1231.0ZM1282.6 260.5H1289.2V267.3H1282.6ZM1231.0 267.0H1237.6V273.7H1231.0ZM1250.3 267.0H1269.8V273.7H1250.3ZM1282.6 267.0H1289.2V273.7H1282.6ZM1231.0 273.4H1237.6V280.2H1231.0ZM1243.9 273.4H1256.9V280.2H1243.9ZM1263.2 273.4H1276.3V280.2H1263.2ZM1282.6 273.4H1289.2V280.2H1282.6ZM1231.0 279.9H1237.6V286.6H1231.0ZM1243.9 279.9H1250.5V286.6H1243.9ZM1269.7 279.9H1289.2V286.6H1269.7ZM321.8 286.3H328.4V293.1H321.8ZM1231.0 286.3H1237.6V293.1H1231.0ZM1243.9 286.3H1250.5V293.1H1243.9ZM1231.0 292.8H1237.6V299.5H1231.0ZM1243.9 292.8H1250.5V299.5H1243.9ZM1179.4 299.2H1192.5V306.0H1179.4ZM1185.9 305.7H1192.5V312.4H1185.9ZM173.5 312.1H186.5V318.9H173.5ZM205.7 312.1H238.1V318.9H205.7ZM947.3 337.9H953.9V344.7H947.3ZM953.7 350.8H966.8V357.6H953.7ZM773.2 357.3H779.8V364.0H773.2ZM960.2 363.7H973.2V370.5H960.2ZM876.3 376.6H882.9V383.4H876.3ZM966.6 376.6H979.7V383.4H966.6ZM283.1 383.1H289.7V389.8H283.1ZM644.2 383.1H663.7V389.8H644.2ZM915.0 383.1H921.6V389.8H915.0ZM637.7 389.5H644.3V396.3H637.7ZM631.3 396.0H637.9V402.7H631.3ZM631.3 402.4H637.9V409.2H631.3ZM695.8 402.4H702.4V409.2H695.8ZM837.6 402.4H844.2V409.2H837.6ZM876.3 402.4H882.9V409.2H876.3ZM225.1 408.9H231.7V415.6H225.1ZM773.2 408.9H779.8V415.6H773.2ZM799.0 408.9H805.6V415.6H799.0ZM824.8 408.9H831.3V415.6H824.8ZM986.0 408.9H992.6V415.6H986.0ZM702.2 415.3H708.8V422.1H702.2ZM702.2 421.8H708.8V428.5H702.2ZM747.4 421.8H754.0V428.5H747.4ZM869.9 421.8H876.5V428.5H869.9ZM631.3 428.2H637.9V435.0H631.3ZM702.2 428.2H708.8V435.0H702.2ZM992.4 428.2H1005.5V435.0H992.4ZM998.9 434.7H1005.5V441.4H998.9ZM857.0 441.1H863.6V447.8H857.0ZM1011.8 441.1H1018.4V447.8H1011.8ZM695.8 447.6H702.4V454.3H695.8ZM850.5 447.6H857.1V454.3H850.5ZM695.8 460.4H708.8V467.2H695.8ZM631.3 466.9H637.9V473.6H631.3ZM405.6 473.3H412.2V480.1H405.6ZM405.6 479.8H412.2V486.5H405.6ZM818.3 479.8H824.9V486.5H818.3ZM624.9 486.2H631.4V493.0H624.9ZM379.8 492.7H399.3V499.4H379.8ZM624.9 492.7H631.4V499.4H624.9ZM805.4 492.7H812.0V499.4H805.4ZM618.4 499.1H625.0V505.9H618.4ZM612.0 505.6H618.6V512.3H612.0ZM824.8 505.6H831.3V512.3H824.8ZM605.5 512.0H612.1V518.8H605.5ZM599.1 518.5H605.7V525.2H599.1ZM857.0 518.5H863.6V525.2H857.0ZM863.4 524.9H870.0V531.7H863.4ZM483.0 531.4H489.6V538.1H483.0ZM586.2 531.4H592.8V538.1H586.2ZM586.2 537.8H592.8V544.6H586.2Z"/>
<path fill="#ff3500" d="M1263.2 60.7H1282.7V67.4H1263.2ZM1263.2 67.1H1282.7V73.8H1263.2ZM1263.2 73.5H1282.7V80.3H1263.2ZM1256.8 80.0H1282.7V86.7H1256.8ZM1250.3 86.4H1282.7V93.2H1250.3ZM1243.9 92.9H1282.7V99.6H1243.9ZM1243.9 99.3H1282.7V106.1H1243.9ZM1243.9 105.8H1282.7V112.5H1243.9ZM1243.9 112.2H1282.7V119.0H1243.9ZM1243.9 118.7H1282.7V125.4H1243.9ZM1243.9 125.1H1282.7V131.9H1243.9ZM1243.9 131.6H1282.7V138.3H1243.9ZM1243.9 138.0H1282.7V144.8H1243.9ZM1243.9 144.5H1282.7V151.2H1243.9ZM1243.9 150.9H1282.7V157.7H1243.9ZM1243.9 157.4H1282.7V164.1H1243.9ZM1243.9 163.8H1282.7V170.6H1243.9ZM1243.9 170.3H1282.7V177.0H1243.9ZM1243.9 176.7H1282.7V183.5H1243.9ZM1243.9 183.2H1282.7V189.9H1243.9ZM1243.9 189.6H1282.7V196.4H1243.9ZM1243.9 196.1H1282.7V202.8H1243.9ZM1243.9 202.5H1282.7V209.3H1243.9ZM1243.9 209.0H1282.7V215.7H1243.9ZM1243.9 215.4H1282.7V222.2H1243.9ZM1237.4 221.9H1282.7V228.6H1237.4ZM1237.4 228.3H1282.7V235.1H1237.4ZM1237.4 234.8H1282.7V241.5H1237.4ZM1237.4 241.2H1282.7V248.0H1237.4ZM276.6 247.7H283.2V254.4H276.6ZM1237.4 247.7H1282.7V254.4H1237.4ZM276.6 254.1H283.2V260.8H276.6ZM1237.4 254.1H1282.7V260.8H1237.4ZM1237.4 260.5H1282.7V267.3H1237.4ZM1237.4 267.0H1250.5V273.7H1237.4ZM1269.7 267.0H1282.7V273.7H1269.7ZM1237.4 273.4H1244.0V280.2H1237.4ZM1276.1 273.4H1282.7V280.2H1276.1ZM334.7 279.9H341.3V286.6H334.7ZM1237.4 279.9H1244.0V286.6H1237.4ZM334.7 286.3H341.3V293.1H334.7ZM1237.4 286.3H1244.0V293.1H1237.4ZM1295.5 286.3H1302.1V293.1H1295.5ZM250.8 292.8H257.4V299.5H250.8ZM1237.4 292.8H1244.0V299.5H1237.4ZM1269.7 292.8H1282.7V299.5H1269.7ZM244.4 299.2H251.0V306.0H244.4ZM1250.3 299.2H1263.4V306.0H1250.3ZM1179.4 305.7H1186.0V312.4H1179.4ZM1205.2 305.7H1237.6V312.4H1205.2ZM167.0 312.1H173.6V318.9H167.0ZM328.2 312.1H334.8V318.9H328.2ZM1166.5 312.1H1179.6V318.9H1166.5ZM1198.8 312.1H1205.4V318.9H1198.8ZM276.6 318.6H283.2V325.3H276.6ZM1173.0 318.6H1179.6V325.3H1173.0ZM1192.3 318.6H1205.4V325.3H1192.3ZM283.1 344.4H289.7V351.1H283.1ZM328.2 344.4H334.8V351.1H328.2ZM953.7 344.4H960.3V351.1H953.7ZM960.2 357.3H966.8V364.0H960.2ZM296.0 370.2H302.6V376.9H296.0ZM889.2 370.2H895.8V376.9H889.2ZM966.6 370.2H973.2V376.9H966.6ZM296.0 376.6H302.6V383.4H296.0ZM263.7 383.1H283.2V389.8H263.7ZM663.5 383.1H683.0V389.8H663.5ZM869.9 383.1H876.5V389.8H869.9ZM973.1 383.1H979.7V389.8H973.1ZM257.3 389.5H263.9V396.3H257.3ZM644.2 389.5H657.2V396.3H644.2ZM682.9 389.5H689.5V396.3H682.9ZM973.1 389.5H979.7V396.3H973.1ZM250.8 396.0H257.4V402.7H250.8ZM637.7 396.0H644.3V402.7H637.7ZM689.3 396.0H695.9V402.7H689.3ZM850.5 396.0H857.1V402.7H850.5ZM979.5 396.0H986.1V402.7H979.5ZM238.0 402.4H251.0V409.2H238.0ZM979.5 402.4H986.1V409.2H979.5ZM154.1 408.9H173.6V415.6H154.1ZM231.5 408.9H238.1V415.6H231.5ZM631.3 408.9H637.9V415.6H631.3ZM792.5 408.9H799.1V415.6H792.5ZM831.2 408.9H837.8V415.6H831.2ZM160.6 415.3H173.6V422.1H160.6ZM631.3 415.3H637.9V422.1H631.3ZM753.8 415.3H766.9V422.1H753.8ZM811.9 415.3H818.5V422.1H811.9ZM986.0 415.3H992.6V422.1H986.0ZM154.1 421.8H160.7V428.5H154.1ZM173.5 421.8H186.5V428.5H173.5ZM631.3 421.8H637.9V428.5H631.3ZM992.4 421.8H999.0V428.5H992.4ZM863.4 428.2H870.0V435.0H863.4ZM637.7 434.7H644.3V441.4H637.7ZM740.9 434.7H747.5V441.4H740.9ZM1005.3 434.7H1011.9V441.4H1005.3ZM637.7 441.1H644.3V447.8H637.7ZM695.8 441.1H702.4V447.8H695.8ZM734.5 441.1H741.1V447.8H734.5ZM637.7 447.6H644.3V454.3H637.7ZM637.7 454.0H644.3V460.7H637.7ZM637.7 460.4H644.3V467.2H637.7ZM708.7 460.4H715.3V467.2H708.7ZM631.3 473.3H637.9V480.1H631.3ZM676.4 473.3H683.0V480.1H676.4ZM631.3 479.8H637.9V486.5H631.3ZM631.3 486.2H637.9V493.0H631.3ZM624.9 499.1H631.4V505.9H624.9ZM618.4 505.6H625.0V512.3H618.4ZM818.3 505.6H824.9V512.3H818.3ZM612.0 512.0H618.6V518.8H612.0ZM824.8 512.0H831.3V518.8H824.8ZM844.1 518.5H857.1V525.2H844.1ZM463.6 524.9H470.2V531.7H463.6ZM476.5 524.9H483.1V531.7H476.5ZM592.6 524.9H599.2V531.7H592.6ZM592.6 531.4H599.2V538.1H592.6ZM863.4 531.4H870.0V538.1H863.4ZM463.6 537.8H470.2V544.6H463.6ZM476.5 537.8H483.1V544.6H476.5ZM863.4 537.8H870.0V544.6H863.4Z"/>
<path fill="#ff2100" d="M263.7 305.7H270.3V312.4H263.7ZM154.1 312.1H167.2V318.9H154.1ZM270.2 312.1H276.8V318.9H270.2ZM276.6 325.0H283.2V331.8H276.6ZM276.6 331.5H283.2V338.2H276.6ZM296.0 357.3H302.6V364.0H296.0ZM296.0 363.7H302.6V370.5H296.0ZM895.7 370.2H902.3V376.9H895.7ZM657.1 389.5H683.0V396.3H657.1ZM863.4 389.5H870.0V396.3H863.4ZM882.8 389.5H889.4V396.3H882.8ZM644.2 396.0H650.8V402.7H644.2ZM682.9 396.0H689.5V402.7H682.9ZM876.3 396.0H882.9V402.7H876.3ZM637.7 402.4H644.3V409.2H637.7ZM689.3 402.4H695.9V409.2H689.3ZM844.1 402.4H850.7V409.2H844.1ZM199.3 408.9H205.9V415.6H199.3ZM637.7 408.9H644.3V415.6H637.7ZM695.8 408.9H702.4V415.6H695.8ZM779.6 408.9H792.7V415.6H779.6ZM805.4 415.3H812.0V422.1H805.4ZM818.3 415.3H831.3V422.1H818.3ZM637.7 421.8H644.3V428.5H637.7ZM637.7 428.2H644.3V435.0H637.7ZM747.4 428.2H754.0V435.0H747.4ZM695.8 434.7H702.4V441.4H695.8ZM644.2 447.6H650.8V454.3H644.2ZM689.3 447.6H695.9V454.3H689.3ZM728.0 447.6H734.6V454.3H728.0ZM844.1 447.6H850.7V454.3H844.1ZM644.2 454.0H650.8V460.7H644.2ZM689.3 454.0H695.9V460.7H689.3ZM837.6 454.0H844.2V460.7H837.6ZM644.2 460.4H650.8V467.2H644.2ZM689.3 460.4H695.9V467.2H689.3ZM831.2 460.4H837.8V467.2H831.2ZM637.7 466.9H644.3V473.6H637.7ZM676.4 466.9H702.4V473.6H676.4ZM824.8 466.9H831.3V473.6H824.8ZM682.9 473.3H689.5V480.1H682.9ZM811.9 479.8H818.5V486.5H811.9ZM805.4 486.2H812.0V493.0H805.4ZM631.3 492.7H637.9V499.4H631.3ZM650.6 492.7H663.7V499.4H650.6ZM805.4 499.1H812.0V505.9H805.4ZM811.9 505.6H818.5V512.3H811.9ZM605.5 518.5H612.1V525.2H605.5ZM831.2 518.5H844.2V525.2H831.2ZM470.1 524.9H476.7V531.7H470.1ZM599.1 524.9H605.7V531.7H599.1ZM857.0 524.9H863.6V531.7H857.0ZM463.6 531.4H483.1V538.1H463.6ZM470.1 537.8H476.7V544.6H470.1ZM592.6 537.8H599.2V544.6H592.6Z"/>
<path fill="#f80d00" d="M1263.2 292.8H1269.8V299.5H1263.2ZM1231.0 299.2H1250.5V306.0H1231.0ZM1237.4 305.7H1256.9V312.4H1237.4ZM1205.2 312.1H1211.8V318.9H1205.2ZM1179.4 318.6H1192.5V325.3H1179.4ZM276.6 337.9H283.2V344.7H276.6ZM289.5 350.8H296.1V357.6H289.5ZM270.2 363.7H276.8V370.5H270.2ZM257.3 370.2H276.8V376.9H257.3ZM902.1 370.2H915.2V376.9H902.1ZM257.3 376.6H263.9V383.4H257.3ZM270.2 376.6H296.1V383.4H270.2ZM882.8 376.6H889.4V383.4H882.8ZM257.3 383.1H263.9V389.8H257.3ZM902.1 383.1H915.2V389.8H902.1ZM244.4 396.0H251.0V402.7H244.4ZM650.6 396.0H683.0V402.7H650.6ZM857.0 396.0H863.6V402.7H857.0ZM212.2 402.4H225.2V409.2H212.2ZM231.5 402.4H238.1V409.2H231.5ZM644.2 402.4H657.2V409.2H644.2ZM682.9 402.4H689.5V409.2H682.9ZM173.5 408.9H186.5V415.6H173.5ZM644.2 408.9H650.8V415.6H644.2ZM837.6 408.9H844.2V415.6H837.6ZM869.9 408.9H876.5V415.6H869.9ZM179.9 415.3H199.4V422.1H179.9ZM637.7 415.3H644.3V422.1H637.7ZM695.8 415.3H702.4V422.1H695.8ZM766.7 415.3H773.3V422.1H766.7ZM831.2 415.3H837.8V422.1H831.2ZM869.9 415.3H876.5V422.1H869.9ZM186.4 421.8H193.0V428.5H186.4ZM863.4 421.8H870.0V428.5H863.4ZM186.4 428.2H199.4V435.0H186.4ZM695.8 428.2H702.4V435.0H695.8ZM644.2 434.7H650.8V441.4H644.2ZM644.2 441.1H657.2V447.8H644.2ZM689.3 441.1H695.9V447.8H689.3ZM650.6 447.6H657.2V454.3H650.6ZM682.9 447.6H689.5V454.3H682.9ZM650.6 454.0H663.7V460.7H650.6ZM682.9 454.0H689.5V460.7H682.9ZM721.6 454.0H728.2V460.7H721.6ZM650.6 460.4H657.2V467.2H650.6ZM682.9 460.4H689.5V467.2H682.9ZM644.2 466.9H650.8V473.6H644.2ZM670.0 466.9H676.6V473.6H670.0ZM637.7 473.3H644.3V480.1H637.7ZM670.0 473.3H676.6V480.1H670.0ZM689.3 473.3H695.9V480.1H689.3ZM818.3 473.3H824.9V480.1H818.3ZM637.7 479.8H650.8V486.5H637.7ZM676.4 479.8H683.0V486.5H676.4ZM637.7 486.2H670.1V493.0H637.7ZM637.7 492.7H650.8V499.4H637.7ZM799.0 492.7H805.6V499.4H799.0ZM631.3 499.1H637.9V505.9H631.3ZM624.9 505.6H631.4V512.3H624.9ZM618.4 512.0H625.0V518.8H618.4ZM818.3 512.0H824.9V518.8H818.3ZM612.0 518.5H618.6V525.2H612.0ZM850.5 524.9H857.1V531.7H850.5ZM599.1 531.4H605.7V538.1H599.1ZM857.0 531.4H863.6V538.1H857.0ZM599.1 537.8H605.7V544.6H599.1ZM857.0 537.8H863.6V544.6H857.0Z"/>
<path fill="#e00000" d="M328.2 279.9H334.8V286.6H328.2ZM257.3 299.2H263.9V306.0H257.3ZM244.4 305.7H251.0V312.4H244.4ZM238.0 312.1H244.6V318.9H238.0ZM276.6 344.4H283.2V351.1H276.6ZM283.1 350.8H289.7V357.6H283.1ZM276.6 370.2H296.1V376.9H276.6ZM915.0 376.6H921.6V383.4H915.0ZM876.3 383.1H882.9V389.8H876.3ZM889.2 383.1H902.3V389.8H889.2ZM869.9 389.5H876.5V396.3H869.9ZM205.7 402.4H212.3V409.2H205.7ZM225.1 402.4H231.7V409.2H225.1ZM657.1 402.4H683.0V409.2H657.1ZM850.5 402.4H857.1V409.2H850.5ZM869.9 402.4H876.5V409.2H869.9ZM192.8 408.9H199.4V415.6H192.8ZM650.6 408.9H657.2V415.6H650.6ZM689.3 408.9H695.9V415.6H689.3ZM644.2 415.3H650.8V422.1H644.2ZM644.2 421.8H650.8V428.5H644.2ZM695.8 421.8H702.4V428.5H695.8ZM753.8 421.8H760.4V428.5H753.8ZM811.9 421.8H824.9V428.5H811.9ZM644.2 428.2H650.8V435.0H644.2ZM650.6 434.7H657.2V441.4H650.6ZM689.3 434.7H695.9V441.4H689.3ZM857.0 434.7H863.6V441.4H857.0ZM657.1 441.1H670.1V447.8H657.1ZM682.9 441.1H689.5V447.8H682.9ZM657.1 447.6H683.0V454.3H657.1ZM663.5 454.0H683.0V460.7H663.5ZM657.1 460.4H683.0V467.2H657.1ZM650.6 466.9H657.2V473.6H650.6ZM663.5 466.9H670.1V473.6H663.5ZM644.2 473.3H650.8V480.1H644.2ZM663.5 473.3H670.1V480.1H663.5ZM650.6 479.8H676.6V486.5H650.6ZM663.5 492.7H670.1V499.4H663.5ZM637.7 499.1H657.2V505.9H637.7ZM631.3 505.6H637.9V512.3H631.3ZM805.4 505.6H812.0V512.3H805.4ZM624.9 512.0H631.4V518.8H624.9ZM824.8 518.5H831.3V525.2H824.8ZM605.5 524.9H612.1V531.7H605.5ZM844.1 524.9H850.7V531.7H844.1Z"/>
<path fill="#c80000" d="M328.2 286.3H334.8V293.1H328.2ZM263.7 312.1H270.3V318.9H263.7ZM270.2 318.6H276.8V325.3H270.2ZM270.2 325.0H276.8V331.8H270.2ZM270.2 331.5H276.8V338.2H270.2ZM270.2 337.9H276.8V344.7H270.2ZM276.6 350.8H283.2V357.6H276.6ZM276.6 357.3H296.1V364.0H276.6ZM276.6 363.7H296.1V370.5H276.6ZM889.2 376.6H915.2V383.4H889.2ZM882.8 383.1H889.4V389.8H882.8ZM876.3 389.5H882.9V396.3H876.3ZM863.4 396.0H876.5V402.7H863.4ZM199.3 402.4H205.9V409.2H199.3ZM857.0 402.4H870.0V409.2H857.0ZM657.1 408.9H689.5V415.6H657.1ZM844.1 408.9H850.7V415.6H844.1ZM857.0 408.9H870.0V415.6H857.0ZM650.6 415.3H695.9V422.1H650.6ZM799.0 415.3H805.6V422.1H799.0ZM837.6 415.3H844.2V422.1H837.6ZM863.4 415.3H870.0V422.1H863.4ZM650.6 421.8H695.9V428.5H650.6ZM824.8 421.8H831.3V428.5H824.8ZM650.6 428.2H695.9V435.0H650.6ZM857.0 428.2H863.6V435.0H857.0ZM657.1 434.7H689.5V441.4H657.1ZM670.0 441.1H683.0V447.8H670.0ZM850.5 441.1H857.1V447.8H850.5ZM837.6 447.6H844.2V454.3H837.6ZM831.2 454.0H837.8V460.7H831.2ZM715.1 460.4H721.7V467.2H715.1ZM824.8 460.4H831.3V467.2H824.8ZM657.1 466.9H663.7V473.6H657.1ZM702.2 466.9H708.8V473.6H702.2ZM650.6 473.3H663.7V480.1H650.6ZM670.0 486.2H676.6V493.0H670.0ZM799.0 499.1H805.6V505.9H799.0ZM637.7 505.6H644.3V512.3H637.7ZM631.3 512.0H637.9V518.8H631.3ZM618.4 518.5H625.0V525.2H618.4ZM612.0 524.9H618.6V531.7H612.0ZM605.5 531.4H612.1V538.1H605.5ZM850.5 531.4H857.1V538.1H850.5ZM605.5 537.8H612.1V544.6H605.5Z"/>
<path fill="#b00000" d="M257.3 305.7H263.9V312.4H257.3ZM270.2 344.4H276.8V351.1H270.2ZM218.6 350.8H225.2V357.6H218.6ZM270.2 350.8H276.8V357.6H270.2ZM270.2 357.3H276.8V364.0H270.2ZM257.3 363.7H270.3V370.5H257.3ZM250.8 376.6H257.4V383.4H250.8ZM244.4 389.5H251.0V396.3H244.4ZM231.5 396.0H244.6V402.7H231.5ZM173.5 402.4H180.1V409.2H173.5ZM186.4 402.4H199.4V409.2H186.4ZM186.4 408.9H193.0V415.6H186.4ZM850.5 408.9H857.1V415.6H850.5ZM844.1 415.3H863.6V422.1H844.1ZM831.2 421.8H850.7V428.5H831.2ZM857.0 421.8H863.6V428.5H857.0ZM818.3 428.2H844.2V435.0H818.3ZM824.8 434.7H831.3V441.4H824.8ZM844.1 441.1H850.7V447.8H844.1ZM682.9 479.8H689.5V486.5H682.9ZM805.4 479.8H812.0V486.5H805.4ZM657.1 499.1H663.7V505.9H657.1ZM644.2 505.6H650.8V512.3H644.2ZM811.9 512.0H818.5V518.8H811.9ZM624.9 518.5H631.4V525.2H624.9ZM618.4 524.9H625.0V531.7H618.4ZM831.2 524.9H844.2V531.7H831.2ZM612.0 531.4H618.6V538.1H612.0ZM612.0 537.8H618.6V544.6H612.0ZM850.5 537.8H857.1V544.6H850.5Z"/>
<path fill="#980000" d="M244.4 312.1H251.0V318.9H244.4ZM257.3 312.1H263.9V318.9H257.3ZM154.1 318.6H238.1V325.3H154.1ZM263.7 318.6H270.3V325.3H263.7ZM263.7 325.0H270.3V331.8H263.7ZM263.7 331.5H270.3V338.2H263.7ZM263.7 337.9H270.3V344.7H263.7ZM263.7 344.4H270.3V351.1H263.7ZM263.7 350.8H270.3V357.6H263.7ZM167.0 383.1H173.6V389.8H167.0ZM212.2 396.0H225.2V402.7H212.2ZM773.2 415.3H779.8V422.1H773.2ZM760.3 421.8H766.9V428.5H760.3ZM805.4 421.8H812.0V428.5H805.4ZM811.9 428.2H818.5V435.0H811.9ZM747.4 434.7H754.0V441.4H747.4ZM831.2 434.7H837.8V441.4H831.2ZM740.9 441.1H747.5V447.8H740.9ZM734.5 447.6H741.1V454.3H734.5ZM831.2 447.6H837.8V454.3H831.2ZM824.8 454.0H831.3V460.7H824.8ZM695.8 473.3H702.4V480.1H695.8ZM811.9 473.3H818.5V480.1H811.9ZM676.4 486.2H683.0V493.0H676.4ZM799.0 486.2H805.6V493.0H799.0ZM637.7 512.0H644.3V518.8H637.7ZM844.1 531.4H850.7V538.1H844.1ZM844.1 537.8H850.7V544.6H844.1Z"/>
<path fill="#800000" d="M250.8 299.2H257.4V306.0H250.8ZM250.8 305.7H257.4V312.4H250.8ZM328.2 305.7H347.7V312.4H328.2ZM250.8 312.1H257.4V318.9H250.8ZM238.0 318.6H263.9V325.3H238.0ZM154.1 325.0H263.9V331.8H154.1ZM154.1 331.5H263.9V338.2H154.1ZM154.1 337.9H263.9V344.7H154.1ZM154.1 344.4H225.2V351.1H154.1ZM231.5 344.4H263.9V351.1H231.5ZM154.1 350.8H212.3V357.6H154.1ZM225.1 350.8H263.9V357.6H225.1ZM154.1 357.3H231.7V364.0H154.1ZM238.0 357.3H270.3V364.0H238.0ZM154.1 363.7H231.7V370.5H154.1ZM250.8 363.7H257.4V370.5H250.8ZM154.1 370.2H231.7V376.9H154.1ZM244.4 370.2H257.4V376.9H244.4ZM154.1 376.6H231.7V383.4H154.1ZM244.4 376.6H251.0V383.4H244.4ZM173.5 383.1H225.2V389.8H173.5ZM231.5 383.1H238.1V389.8H231.5ZM244.4 383.1H251.0V389.8H244.4ZM173.5 389.5H225.2V396.3H173.5ZM231.5 389.5H244.6V396.3H231.5ZM173.5 396.0H212.3V402.7H173.5ZM779.6 415.3H799.1V422.1H779.6ZM766.7 421.8H805.6V428.5H766.7ZM850.5 421.8H857.1V428.5H850.5ZM753.8 428.2H812.0V435.0H753.8ZM844.1 428.2H857.1V435.0H844.1ZM753.8 434.7H824.9V441.4H753.8ZM837.6 434.7H857.1V441.4H837.6ZM747.4 441.1H844.2V447.8H747.4ZM740.9 447.6H831.3V454.3H740.9ZM728.0 454.0H824.9V460.7H728.0ZM721.6 460.4H824.9V467.2H721.6ZM708.7 466.9H824.9V473.6H708.7ZM702.2 473.3H812.0V480.1H702.2ZM689.3 479.8H805.6V486.5H689.3ZM682.9 486.2H799.1V493.0H682.9ZM670.0 492.7H799.1V499.4H670.0ZM663.5 499.1H799.1V505.9H663.5ZM650.6 505.6H805.6V512.3H650.6ZM644.2 512.0H812.0V518.8H644.2ZM631.3 518.5H824.9V525.2H631.3ZM624.9 524.9H831.3V531.7H624.9ZM618.4 531.4H844.2V538.1H618.4ZM618.4 537.8H844.2V544.6H618.4Z"/></g>
<path d="M1310.0 269.5L1305.0 271.2L1233.8 307.5L1228.8 305.0L1238.8 290.0L1232.5 293.8L1233.8 291.2L1227.5 297.5L1223.8 293.8L1226.2 298.8L1220.0 303.8L1215.0 301.2L1216.2 305.0L1211.2 308.8L1192.5 308.8L1163.8 315.0L1152.5 316.2L1143.8 319.2L1131.5 285.5L1135.0 278.8L1136.5 280.0L1134.0 286.2L1145.5 316.2L1152.5 315.8L1153.8 293.8L1151.2 287.5L1135.0 266.2L1120.0 257.5L1132.5 266.2L1118.8 260.0L1110.0 253.8L1105.0 252.5L1090.0 236.2L1080.0 230.0L1083.0 229.5L1091.2 232.5L1095.0 235.0L1102.5 236.2L1110.0 243.8L1118.8 248.8L1121.2 252.5L1130.0 247.5L1136.2 248.8L1135.0 243.8L1130.0 245.0L1127.5 238.8L1125.0 246.2L1118.8 245.0L1117.5 235.0L1112.5 236.2L1110.0 230.0L1102.5 227.5L1096.2 231.2L1091.2 227.5L1090.0 223.2L1087.0 225.0L1081.2 228.0L1076.2 225.0L1071.2 219.2L1077.5 213.8L1080.0 208.8L1086.2 206.2L1092.5 205.0L1095.0 208.8L1096.2 202.5L1102.5 198.8L1100.0 194.5L1096.2 200.0L1091.2 203.8L1086.2 198.8L1080.0 203.8L1072.5 205.0L1067.5 200.0L1063.8 192.5L1062.5 198.8L1055.0 196.2L1047.5 200.0L1042.5 193.8L1047.0 201.2L1047.5 208.8L1053.8 210.0L1060.0 206.2L1065.0 212.5L1068.8 212.0L1067.5 220.0L1070.5 223.0L1070.0 222.5L1045.0 208.8L1018.8 198.8L1005.0 193.8L980.0 187.5L1005.0 195.0L962.5 183.8L920.0 177.5L918.8 175.5L923.0 173.8L953.8 178.8L957.5 172.5L972.5 178.8L970.0 173.8L975.0 176.2L993.8 182.0L997.5 178.8L992.5 175.0L995.0 171.2L985.0 167.5L991.2 162.5L980.0 163.8L980.0 158.8L973.8 162.5L971.2 157.5L963.8 162.5L957.5 162.5L937.5 166.2L932.5 157.5L937.5 156.2L930.0 156.2L926.2 158.8L921.2 153.8L926.2 161.2L923.8 163.8L916.2 166.2L910.0 170.0L905.0 168.8L903.0 163.8L902.5 168.8L899.5 171.2L904.5 171.2L903.8 176.2L880.0 174.5L855.0 175.5L830.0 178.8L855.0 177.0L830.0 179.5L805.0 182.0L790.0 187.5L785.0 184.5L788.8 182.0L800.0 181.2L815.0 177.5L825.0 176.2L832.5 171.2L840.0 168.8L847.5 169.2L836.2 166.2L823.8 158.8L825.0 151.2L827.5 142.0L819.5 137.0L823.8 143.8L818.8 150.0L812.5 166.2L806.2 167.5L803.8 156.2L797.5 151.2L801.2 148.8L797.5 147.5L793.8 142.0L788.0 143.8L791.2 150.0L795.0 158.8L790.0 170.0L773.8 182.5L772.5 187.5L762.5 189.5L742.5 195.0L738.8 194.5L762.5 190.5L742.5 190.5L740.0 183.8L743.8 177.5L751.2 175.5L758.0 170.5L752.5 166.2L744.5 165.0L748.8 171.2L741.2 176.2L733.8 183.8L726.2 186.2L723.8 191.2L713.8 193.8L712.5 188.8L706.2 185.0L711.2 189.5L712.5 193.8L707.5 196.2L720.0 195.5L715.0 198.0L717.5 200.0L680.0 208.2L722.5 199.2L720.0 196.2L713.8 196.2L712.5 190.0L710.5 189.5L708.8 190.0L706.2 185.0L708.0 191.2L710.5 196.2L716.2 198.0L715.0 201.8L690.0 206.2L626.2 211.2L626.2 208.8L640.0 207.0L643.8 203.8L648.8 205.5L655.0 207.5L668.8 205.0L678.8 198.8L683.8 195.5L677.5 197.5L662.5 181.2L666.2 176.2L663.8 175.0L661.2 179.5L650.0 172.5L643.8 157.5L650.0 147.5L647.5 130.0L643.8 126.2L640.0 123.8L637.5 126.2L631.2 122.5L633.0 115.0L630.0 116.2L632.5 106.2L630.0 105.0L627.5 108.8L628.8 113.8L627.5 121.2L623.8 122.5L621.2 126.2L616.2 143.8L608.8 138.8L607.5 140.0L615.0 146.2L611.2 157.5L611.2 183.8L607.5 190.0L605.0 186.2L603.8 192.5L595.0 190.0L596.2 183.8L590.0 184.5L573.8 178.8L570.0 177.5L566.2 176.2L561.2 177.5L557.5 181.2L553.8 180.0L555.0 183.8L545.0 184.5L545.0 184.5L543.8 191.2L533.8 192.5L532.5 186.2L530.0 190.0L521.2 186.2L522.5 183.8L516.2 182.5L513.8 174.5L512.5 182.5L493.8 188.8L480.0 181.2L477.5 178.8L466.2 176.2L467.5 170.5L451.2 171.2L456.2 175.0L452.5 178.8L437.5 180.0L422.5 183.8L383.8 195.5L381.2 190.0L388.8 187.5L382.5 187.0L383.8 183.8L376.2 183.8L373.8 181.2L366.2 186.2L373.8 190.0L375.0 196.2L358.8 205.0L356.2 204.8L349.0 217.3L344.8 218.3L341.7 214.2L340.6 218.3L333.3 217.3L327.1 219.4L322.9 213.1L319.8 219.4L314.6 217.3L311.5 222.5L305.2 220.4L295.8 222.1L290.0 216.2L275.0 211.0L270.4 205.8L249.0 204.4L245.8 195.4L237.5 192.3L232.3 185.4L206.2 179.4L194.8 186.0L187.5 198.5L181.2 196.5L184.4 200.6L165.6 212.1L160.8 226.7L167.7 240.2L184.4 244.4L214.6 249.6L243.8 245.4L250.0 242.3L271.9 224.6L276.0 231.9L285.4 232.9L293.8 224.6L295.0 223.8L288.8 228.8L291.2 232.5L283.8 233.8L285.0 238.8L276.2 243.8L278.8 251.2L271.2 262.5L281.2 270.0L277.5 263.8L287.5 265.0L297.5 263.8L300.0 273.8L311.2 280.0L321.2 277.5L326.2 267.5L327.5 256.2L335.0 251.2L342.5 246.2L352.5 242.5L356.2 246.2L351.2 248.8L355.0 253.8L348.8 256.2L351.2 260.0L346.2 261.2L355.0 263.8L356.2 260.0L361.2 261.2L365.0 273.8L370.0 271.2L372.5 275.0L367.5 277.5L376.2 280.0L385.0 278.8L390.0 275.0L391.2 280.0L383.8 283.8L377.5 282.5L378.8 288.8L370.0 285.0L366.2 287.5L371.2 292.5L358.8 288.8L365.0 296.2L356.2 300.0L347.5 290.0L346.2 296.2L353.8 301.2L347.5 300.0L337.5 296.2L336.2 298.8L342.5 302.5L346.2 310.0L354.5 317.0L344.0 312.5L335.0 303.5L327.5 306.5L323.0 300.5L311.0 303.5L314.0 308.0L308.0 314.0L315.5 318.5L306.5 321.5L305.0 327.5L312.5 330.5L303.5 332.0L302.0 339.5L311.0 341.0L303.5 345.5L317.0 350.0L320.0 354.5L327.5 357.5L335.0 362.0L327.5 368.0L333.5 371.0L344.0 369.5L354.5 375.5L362.0 374.0L366.5 380.0L374.0 383.0L387.5 381.5L389.0 387.5L393.5 384.5L399.5 390.5L401.0 386.0L405.5 392.0L410.0 390.5L413.0 399.5L417.5 398.0L416.0 405.5L423.5 407.0L428.0 405.5L437.0 413.0L431.0 410.0L425.0 411.5L428.0 416.0L422.0 414.5L417.5 417.5L423.5 420.5L431.0 420.5L429.5 425.0L422.0 426.5L419.0 431.0L416.0 426.5L414.5 434.0L410.0 437.0L405.5 446.0L399.5 438.5L392.0 431.0L386.0 428.0L380.9 434.0L371.0 448.1L361.1 461.0L356.6 462.5L357.5 456.5L368.0 446.9L376.1 434.0L380.0 423.5L374.0 429.5L366.5 431.0L360.5 429.5L359.0 422.0L348.5 408.5L347.0 402.5L344.0 401.0L339.5 404.0L320.0 395.0L317.0 392.0L318.5 386.0L312.5 384.5L308.0 390.5L290.0 387.5L309.0 394.5L303.0 390.0L292.5 386.2L277.5 387.7L287.2 383.2L276.0 384.0L278.2 381.7L278.2 378.0L287.2 375.0L286.5 368.2L276.7 369.7L280.5 365.2L276.7 362.2L289.5 360.7L289.5 355.5L288.0 360.0L276.7 357.7L263.2 357.7L267.0 354.7L261.0 354.0L259.5 349.5L257.2 354.7L258.0 358.5L247.5 359.2L243.0 352.5L239.7 348.0L240.0 352.5L230.2 347.2L231.7 345.0L227.2 344.2L227.2 346.5L218.2 341.2L214.5 346.5L210.7 341.2L213.0 337.5L207.0 337.5L201.0 344.2L206.2 348.0L201.0 349.5L210.0 350.2L210.7 353.2L213.7 351.7L217.5 352.5L217.5 357.7L232.5 358.5L235.5 358.5L236.2 363.0L231.7 361.5L234.7 366.0L231.7 370.5L230.2 379.5L236.2 387.7L231.0 387.7L225.0 386.2L228.7 390.0L224.2 394.5L230.2 405.0L234.7 406.5L227.2 417.0L225.0 417.5L213.8 425.0L211.2 423.8L211.2 426.2L198.8 430.0L197.5 426.2L192.5 418.8L193.8 415.0L191.2 412.5L190.0 405.0L193.8 403.8L195.0 398.8L190.0 396.2L187.5 401.2L183.8 398.8L181.2 392.5L177.5 395.0L176.2 389.5L173.8 390.0L172.5 397.5L166.2 396.2L166.2 388.8L161.2 386.2L160.0 380.0L155.0 386.2L150.0 386.2L150.0 386.0L150.0 50.0L1320.0 50.0L1320.0 269.0Z" fill="#d2b48c" stroke="#000" stroke-width="1.3" stroke-linejoin="miter"/>
<path d="M154.0 187.0L159.3 188.7L166.8 197.5L156.1 214.0L154.0 216.0ZM189.5 285.2L200.7 279.3L209.2 287.3L202.0 293.2L213.2 294.0L214.8 303.3L204.7 308.7L199.3 316.1L186.5 319.9L185.5 316.7L179.3 315.3L177.5 310.0L182.0 304.7L191.3 299.3L198.0 293.2ZM1218.7 76.8L1225.4 82.9L1229.8 104.8L1247.3 103.2L1262.4 79.7L1256.2 98.9L1274.7 100.1L1277.0 95.4L1278.4 100.7L1252.5 108.0L1241.8 108.3L1234.1 116.8L1221.0 108.3L1223.9 89.0Z" fill="#00ffff" stroke="#000" stroke-width="1.3"/>
<path d="M244.4 61.5V539.5M437.9 61.5V539.5M631.3 61.5V539.5M824.7 61.5V539.5M1018.2 61.5V539.5M1211.7 61.5V539.5M154.5 447.7H1308.5M154.5 351.0H1308.5M154.5 254.2H1308.5M154.5 157.5H1308.5" stroke="#000" stroke-width="1.3" stroke-dasharray="1.39 1.39" fill="none"/>
</g>
<rect x="154.5" y="61.5" width="1154.0" height="478.0" fill="none" stroke="#000" stroke-width="1.4"/>
<rect x="1328.5" y="61.5" width="58.0" height="478.0" fill="url(#cb)" stroke="#000" stroke-width="1.4"/>
<path d="M1386.5 539.5h-5.5M1386.5 479.8h-5.5M1386.5 420.0h-5.5M1386.5 360.2h-5.5M1386.5 300.5h-5.5M1386.5 240.8h-5.5M1386.5 181.0h-5.5M1386.5 121.2h-5.5M1386.5 61.5h-5.5" stroke="#000" stroke-width="0.8" fill="none"/>
<text x="1392" y="544.1" font-size="18.00" textLength="34.5" lengthAdjust="spacingAndGlyphs">19.0</text>
<text x="1392" y="484.4" font-size="18.00" textLength="34.5" lengthAdjust="spacingAndGlyphs">19.5</text>
<text x="1392" y="424.6" font-size="18.00" textLength="34.5" lengthAdjust="spacingAndGlyphs">20.0</text>
<text x="1392" y="364.9" font-size="18.00" textLength="34.5" lengthAdjust="spacingAndGlyphs">20.5</text>
<text x="1392" y="305.1" font-size="18.00" textLength="34.5" lengthAdjust="spacingAndGlyphs">21.0</text>
<text x="1392" y="245.3" font-size="18.00" textLength="34.5" lengthAdjust="spacingAndGlyphs">21.5</text>
<text x="1392" y="185.6" font-size="18.00" textLength="34.5" lengthAdjust="spacingAndGlyphs">22.0</text>
<text x="1392" y="125.8" font-size="18.00" textLength="34.5" lengthAdjust="spacingAndGlyphs">22.5</text>
<text x="1392" y="66.1" font-size="18.00" textLength="34.5" lengthAdjust="spacingAndGlyphs">23.0</text>
<text x="732" y="54" font-size="20.40" text-anchor="middle" textLength="455" lengthAdjust="spacingAndGlyphs">Water Temperature @0m - 2016040700_t000</text>
<text x="142.3" y="162.2" font-size="18.00" text-anchor="end" textLength="55.5" lengthAdjust="spacingAndGlyphs">30.5°N</text>
<text x="142.3" y="258.9" font-size="18.00" text-anchor="end" textLength="39.5" lengthAdjust="spacingAndGlyphs">30°N</text>
<text x="142.3" y="355.7" font-size="18.00" text-anchor="end" textLength="55.5" lengthAdjust="spacingAndGlyphs">29.5°N</text>
<text x="142.3" y="452.4" font-size="18.00" text-anchor="end" textLength="39.5" lengthAdjust="spacingAndGlyphs">29°N</text>
<text x="245.0" y="564" font-size="18.00" text-anchor="middle" textLength="44.5" lengthAdjust="spacingAndGlyphs">90°W</text>
<text x="438.5" y="564" font-size="18.00" text-anchor="middle" textLength="44.5" lengthAdjust="spacingAndGlyphs">89°W</text>
<text x="631.9" y="564" font-size="18.00" text-anchor="middle" textLength="44.5" lengthAdjust="spacingAndGlyphs">88°W</text>
<text x="825.3" y="564" font-size="18.00" text-anchor="middle" textLength="44.5" lengthAdjust="spacingAndGlyphs">87°W</text>
<text x="1018.8" y="564" font-size="18.00" text-anchor="middle" textLength="44.5" lengthAdjust="spacingAndGlyphs">86°W</text>
<text x="1212.2" y="564" font-size="18.00" text-anchor="middle" textLength="44.5" lengthAdjust="spacingAndGlyphs">85°W</text>
</svg></body></html>
